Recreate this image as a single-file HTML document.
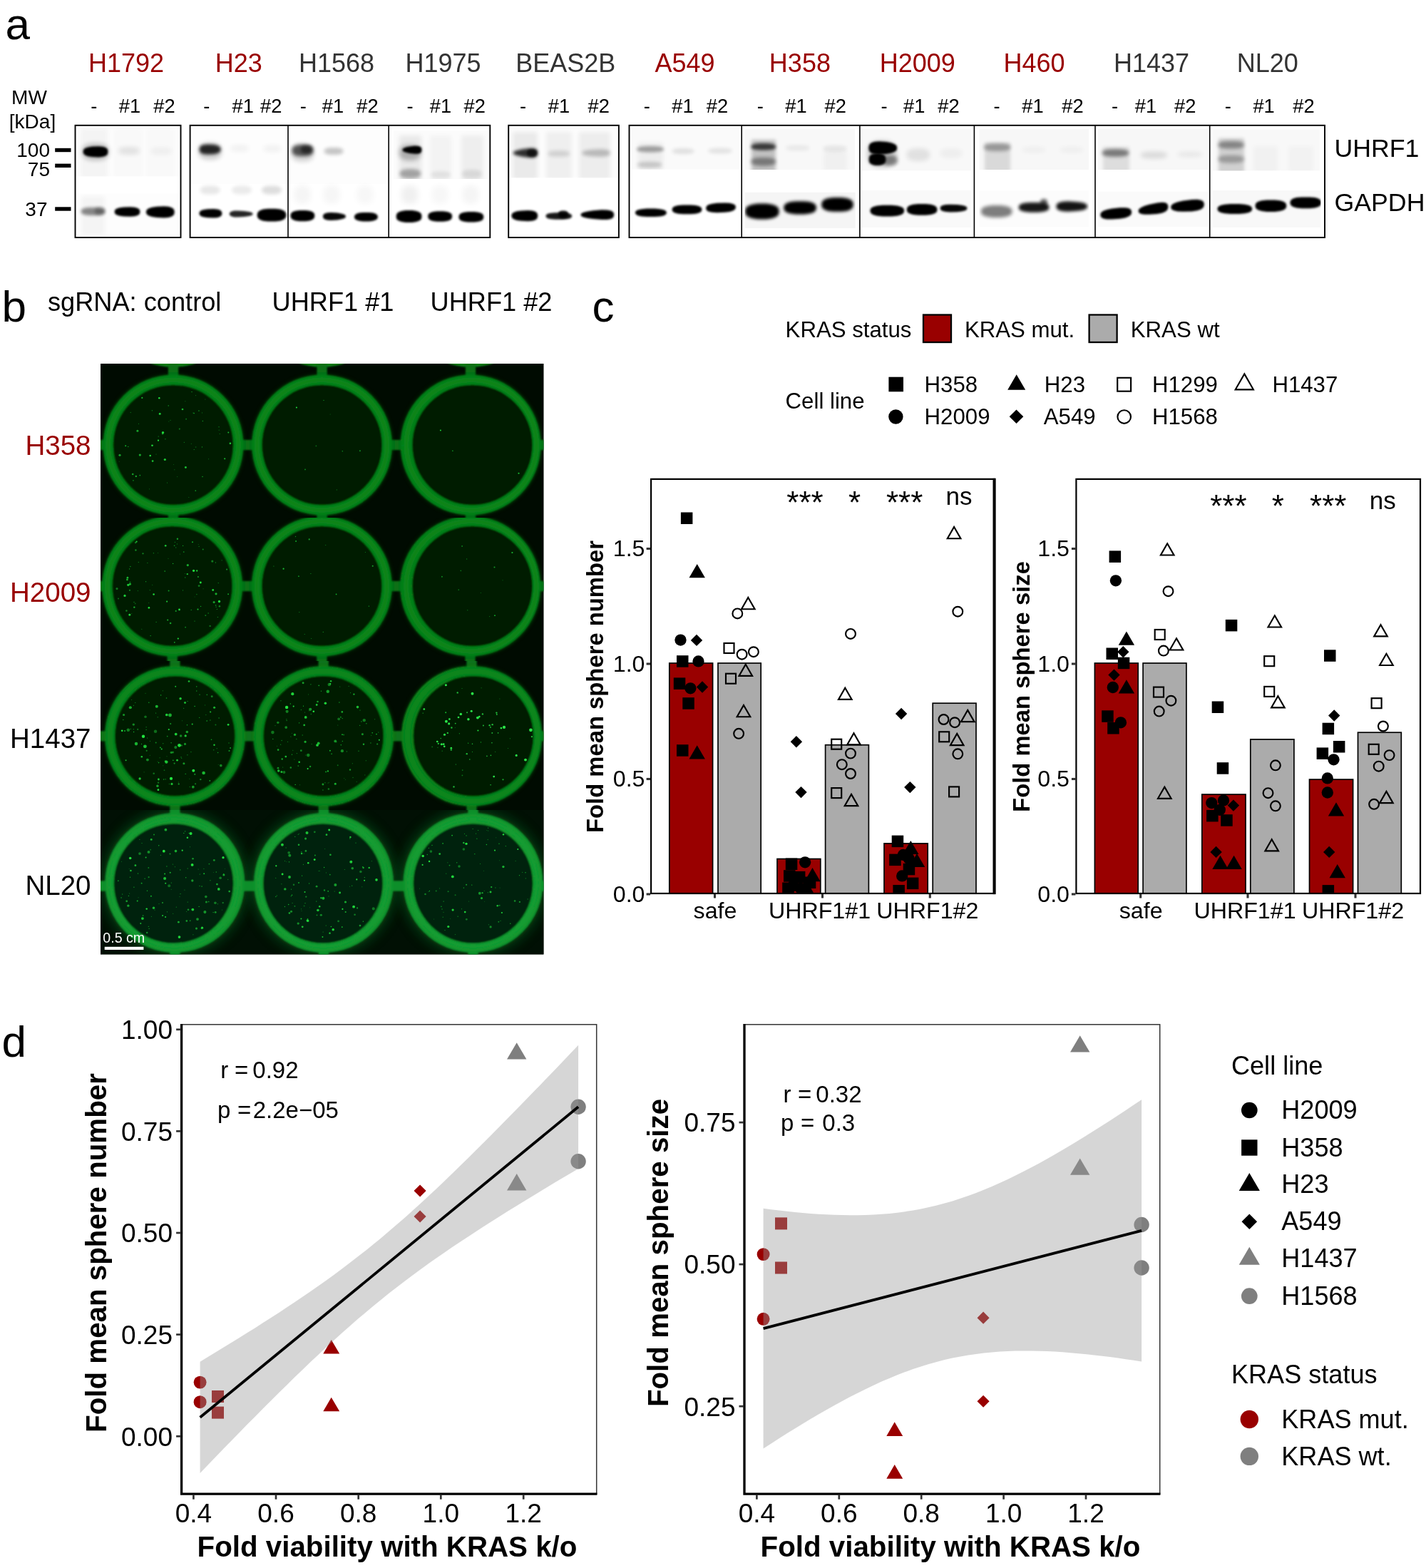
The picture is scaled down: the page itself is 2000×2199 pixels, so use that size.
<!DOCTYPE html>
<html lang="en"><head><meta charset="utf-8"><title>Figure</title>
<style>html,body{margin:0;padding:0;background:#fff;}svg{display:block;}text{font-family:'Liberation Sans', Arial, Helvetica, sans-serif;}</style>
</head><body>
<svg width="2000" height="2199" viewBox="0 0 2000 2199">
<rect width="2000" height="2199" fill="#fff"/>
<g id="panel-a">
<text x="7.5" y="54.5" font-size="62" fill="#000" text-anchor="start" font-weight="normal" >a</text>
<text x="177.0" y="101.0" font-size="36" fill="#990000" text-anchor="middle" font-weight="normal" >H1792</text>
<text x="334.7" y="101.0" font-size="36" fill="#990000" text-anchor="middle" font-weight="normal" >H23</text>
<text x="472.0" y="101.0" font-size="36" fill="#333333" text-anchor="middle" font-weight="normal" >H1568</text>
<text x="621.6" y="101.0" font-size="36" fill="#333333" text-anchor="middle" font-weight="normal" >H1975</text>
<text x="793.3" y="101.0" font-size="36" fill="#333333" text-anchor="middle" font-weight="normal" >BEAS2B</text>
<text x="960.5" y="101.0" font-size="36" fill="#990000" text-anchor="middle" font-weight="normal" >A549</text>
<text x="1121.9" y="101.0" font-size="36" fill="#990000" text-anchor="middle" font-weight="normal" >H358</text>
<text x="1286.7" y="101.0" font-size="36" fill="#990000" text-anchor="middle" font-weight="normal" >H2009</text>
<text x="1450.5" y="101.0" font-size="36" fill="#990000" text-anchor="middle" font-weight="normal" >H460</text>
<text x="1615.0" y="101.0" font-size="36" fill="#333333" text-anchor="middle" font-weight="normal" >H1437</text>
<text x="1777.8" y="101.0" font-size="36" fill="#333333" text-anchor="middle" font-weight="normal" >NL20</text>
<text x="131.7" y="158.2" font-size="27.3" fill="#000" text-anchor="middle" font-weight="normal" >-</text>
<text x="182.0" y="158.2" font-size="27.3" fill="#000" text-anchor="middle" font-weight="normal" >#1</text>
<text x="230.4" y="158.2" font-size="27.3" fill="#000" text-anchor="middle" font-weight="normal" >#2</text>
<text x="289.8" y="158.2" font-size="27.3" fill="#000" text-anchor="middle" font-weight="normal" >-</text>
<text x="340.8" y="158.2" font-size="27.3" fill="#000" text-anchor="middle" font-weight="normal" >#1</text>
<text x="380.3" y="158.2" font-size="27.3" fill="#000" text-anchor="middle" font-weight="normal" >#2</text>
<text x="425.3" y="158.2" font-size="27.3" fill="#000" text-anchor="middle" font-weight="normal" >-</text>
<text x="467.0" y="158.2" font-size="27.3" fill="#000" text-anchor="middle" font-weight="normal" >#1</text>
<text x="515.5" y="158.2" font-size="27.3" fill="#000" text-anchor="middle" font-weight="normal" >#2</text>
<text x="575.0" y="158.2" font-size="27.3" fill="#000" text-anchor="middle" font-weight="normal" >-</text>
<text x="618.0" y="158.2" font-size="27.3" fill="#000" text-anchor="middle" font-weight="normal" >#1</text>
<text x="665.8" y="158.2" font-size="27.3" fill="#000" text-anchor="middle" font-weight="normal" >#2</text>
<text x="733.6" y="158.2" font-size="27.3" fill="#000" text-anchor="middle" font-weight="normal" >-</text>
<text x="784.0" y="158.2" font-size="27.3" fill="#000" text-anchor="middle" font-weight="normal" >#1</text>
<text x="839.7" y="158.2" font-size="27.3" fill="#000" text-anchor="middle" font-weight="normal" >#2</text>
<text x="907.3" y="158.2" font-size="27.3" fill="#000" text-anchor="middle" font-weight="normal" >-</text>
<text x="957.5" y="158.2" font-size="27.3" fill="#000" text-anchor="middle" font-weight="normal" >#1</text>
<text x="1006.0" y="158.2" font-size="27.3" fill="#000" text-anchor="middle" font-weight="normal" >#2</text>
<text x="1066.2" y="158.2" font-size="27.3" fill="#000" text-anchor="middle" font-weight="normal" >-</text>
<text x="1116.4" y="158.2" font-size="27.3" fill="#000" text-anchor="middle" font-weight="normal" >#1</text>
<text x="1171.8" y="158.2" font-size="27.3" fill="#000" text-anchor="middle" font-weight="normal" >#2</text>
<text x="1240.0" y="158.2" font-size="27.3" fill="#000" text-anchor="middle" font-weight="normal" >-</text>
<text x="1282.2" y="158.2" font-size="27.3" fill="#000" text-anchor="middle" font-weight="normal" >#1</text>
<text x="1330.4" y="158.2" font-size="27.3" fill="#000" text-anchor="middle" font-weight="normal" >#2</text>
<text x="1398.0" y="158.2" font-size="27.3" fill="#000" text-anchor="middle" font-weight="normal" >-</text>
<text x="1448.5" y="158.2" font-size="27.3" fill="#000" text-anchor="middle" font-weight="normal" >#1</text>
<text x="1504.5" y="158.2" font-size="27.3" fill="#000" text-anchor="middle" font-weight="normal" >#2</text>
<text x="1563.5" y="158.2" font-size="27.3" fill="#000" text-anchor="middle" font-weight="normal" >-</text>
<text x="1606.9" y="158.2" font-size="27.3" fill="#000" text-anchor="middle" font-weight="normal" >#1</text>
<text x="1662.2" y="158.2" font-size="27.3" fill="#000" text-anchor="middle" font-weight="normal" >#2</text>
<text x="1722.2" y="158.2" font-size="27.3" fill="#000" text-anchor="middle" font-weight="normal" >-</text>
<text x="1772.6" y="158.2" font-size="27.3" fill="#000" text-anchor="middle" font-weight="normal" >#1</text>
<text x="1828.5" y="158.2" font-size="27.3" fill="#000" text-anchor="middle" font-weight="normal" >#2</text>
<text x="41.0" y="146.0" font-size="28" fill="#000" text-anchor="middle" font-weight="normal" >MW</text>
<text x="45.5" y="180.2" font-size="28" fill="#000" text-anchor="middle" font-weight="normal" >[kDa]</text>
<text x="70.0" y="219.5" font-size="28" fill="#000" text-anchor="end" font-weight="normal" >100</text>
<text x="70.0" y="246.7" font-size="28" fill="#000" text-anchor="end" font-weight="normal" >75</text>
<text x="66.5" y="302.6" font-size="28" fill="#000" text-anchor="end" font-weight="normal" >37</text>
<rect x="77.2" y="207.8" width="22.3" height="5.4" fill="#000"/>
<rect x="77.2" y="229.6" width="22.3" height="5.4" fill="#000"/>
<rect x="77.2" y="290.3" width="22.3" height="5.4" fill="#000"/>
<text x="1871.5" y="220.3" font-size="35.7" fill="#000" text-anchor="start" font-weight="normal" >UHRF1</text>
<text x="1871.5" y="295.8" font-size="35.7" fill="#000" text-anchor="start" font-weight="normal" >GAPDH</text>
<defs>
<filter id="b1" x="-60%" y="-150%" width="220%" height="400%"><feGaussianBlur stdDeviation="1"/></filter>
<filter id="b1_5" x="-60%" y="-150%" width="220%" height="400%"><feGaussianBlur stdDeviation="1.5"/></filter>
<filter id="b2" x="-60%" y="-150%" width="220%" height="400%"><feGaussianBlur stdDeviation="2"/></filter>
<filter id="b2_5" x="-60%" y="-150%" width="220%" height="400%"><feGaussianBlur stdDeviation="2.5"/></filter>
<filter id="b3" x="-60%" y="-150%" width="220%" height="400%"><feGaussianBlur stdDeviation="3"/></filter>
<filter id="b4" x="-60%" y="-150%" width="220%" height="400%"><feGaussianBlur stdDeviation="4"/></filter>
<filter id="b5" x="-60%" y="-150%" width="220%" height="400%"><feGaussianBlur stdDeviation="5"/></filter>
<filter id="b6" x="-60%" y="-150%" width="220%" height="400%"><feGaussianBlur stdDeviation="6"/></filter>
</defs>
<clipPath id="ca1"><rect x="106" y="176.3" width="1752.0" height="156.4"/></clipPath>
<g clip-path="url(#ca1)">
<clipPath id="ca2"><rect x="106" y="177.9" width="147.0" height="69.6"/></clipPath>
<g clip-path="url(#ca2)">
<rect x="106" y="177.9" width="147.0" height="69.6" fill="rgb(252,252,252)"/>
<rect x="113" y="180" width="38.0" height="70.0" fill="#000" opacity="0.03" filter="url(#b3)"/>
<rect x="160" y="180" width="40.0" height="70.0" fill="#000" opacity="0.012" filter="url(#b3)"/>
<rect x="205" y="180" width="40.0" height="70.0" fill="#000" opacity="0.012" filter="url(#b3)"/>
<path d="M151.5,212.8 L150.7,216.3 L148.3,218.5 L144.3,219.8 L138.6,220.4 L129.4,220.1 L123.7,219.2 L119.7,217.8 L117.3,215.8 L116.5,212.8 L117.3,209.8 L119.7,207.8 L123.7,206.4 L129.4,205.5 L138.6,205.2 L144.3,205.8 L148.3,207.1 L150.7,209.3Z" opacity="1.0" filter="url(#b1_5)"/>
<path d="M153.0,213.0 L152.1,218.3 L149.5,221.5 L145.1,223.7 L138.9,224.9 L129.1,224.9 L122.9,223.7 L118.5,221.5 L115.9,218.3 L115.0,213.0 L115.9,207.7 L118.5,204.5 L122.9,202.3 L129.1,201.1 L138.9,201.1 L145.1,202.3 L149.5,204.5 L152.1,207.7Z" opacity="0.22" filter="url(#b3)"/>
<path d="M196.0,211.5 L195.3,213.9 L193.2,215.4 L189.8,216.4 L184.9,216.9 L177.1,216.9 L172.2,216.4 L168.8,215.4 L166.7,213.9 L166.0,211.5 L166.7,209.1 L168.8,207.6 L172.2,206.6 L177.1,206.1 L184.9,206.1 L189.8,206.6 L193.2,207.6 L195.3,209.1Z" opacity="0.09" filter="url(#b3)"/>
<path d="M241.0,212.0 L240.3,214.4 L238.2,215.9 L234.8,216.9 L229.9,217.4 L222.1,217.4 L217.2,216.9 L213.8,215.9 L211.7,214.4 L211.0,212.0 L211.7,209.6 L213.8,208.1 L217.2,207.1 L222.1,206.6 L229.9,206.6 L234.8,207.1 L238.2,208.1 L240.3,209.6Z" opacity="0.04" filter="url(#b3)"/>
</g>
<clipPath id="ca3"><rect x="106" y="271.2" width="147.0" height="60.8"/></clipPath>
<g clip-path="url(#ca3)">
<rect x="106" y="271.2" width="147.0" height="60.8" fill="rgb(253,253,253)"/>
<rect x="114" y="275" width="33.0" height="55.0" fill="#000" opacity="0.035" filter="url(#b3)"/>
<path d="M147.5,296.5 L146.7,298.9 L144.3,300.4 L140.5,301.4 L134.9,301.9 L126.1,301.9 L120.5,301.4 L116.7,300.4 L114.3,298.9 L113.5,296.5 L114.3,294.1 L116.7,292.6 L120.5,291.6 L126.1,291.1 L134.9,291.1 L140.5,291.6 L144.3,292.6 L146.7,294.1Z" opacity="0.45" filter="url(#b2)"/>
<path d="M147.0,296.0 L146.7,298.4 L145.7,299.9 L144.1,300.9 L141.8,301.4 L138.2,301.4 L135.9,300.9 L134.3,299.9 L133.3,298.4 L133.0,296.0 L133.3,293.6 L134.3,292.1 L135.9,291.1 L138.2,290.6 L141.8,290.6 L144.1,291.1 L145.7,292.1 L146.7,293.6Z" opacity="0.25" filter="url(#b2)"/>
<path d="M196.5,297.0 L195.7,300.2 L193.2,302.1 L189.1,303.3 L183.2,303.8 L173.8,303.5 L167.9,302.8 L163.8,301.5 L161.3,299.7 L160.5,297.0 L161.3,294.3 L163.8,292.5 L167.9,291.2 L173.8,290.5 L183.2,290.2 L189.1,290.7 L193.2,291.9 L195.7,293.8Z" opacity="1.0" filter="url(#b1_5)"/>
<path d="M244.8,297.4 L243.9,301.2 L241.1,303.6 L236.5,305.0 L230.0,305.5 L219.6,305.1 L213.1,304.1 L208.5,302.6 L205.7,300.6 L204.8,297.4 L205.7,294.2 L208.5,292.2 L213.1,290.7 L219.6,289.7 L230.0,289.3 L236.5,289.8 L241.1,291.2 L243.9,293.6Z" opacity="1.0" filter="url(#b1_5)"/>
</g>
<clipPath id="ca4"><rect x="267.5" y="177.9" width="277.5" height="80.2"/></clipPath>
<g clip-path="url(#ca4)">
<rect x="267.5" y="177.9" width="277.5" height="80.2" fill="rgb(253,253,253)"/>
<path d="M309.6,209.5 L308.9,212.3 L306.8,214.1 L303.4,215.4 L298.5,216.2 L290.7,216.6 L285.8,216.1 L282.4,214.9 L280.3,212.9 L279.6,209.5 L280.3,206.1 L282.4,204.1 L285.8,202.9 L290.7,202.4 L298.5,202.8 L303.4,203.6 L306.8,204.9 L308.9,206.7Z" opacity="0.82" filter="url(#b2)"/>
<path d="M311.1,212.0 L310.3,217.3 L308.0,220.5 L304.3,222.7 L298.9,223.9 L290.3,223.9 L284.9,222.7 L281.2,220.5 L278.9,217.3 L278.1,212.0 L278.9,206.7 L281.2,203.5 L284.9,201.3 L290.3,200.1 L298.9,200.1 L304.3,201.3 L308.0,203.5 L310.3,206.7Z" opacity="0.18" filter="url(#b3)"/>
<path d="M349.0,208.0 L348.4,210.2 L346.6,211.6 L343.6,212.5 L339.4,212.9 L332.6,212.9 L328.4,212.5 L325.4,211.6 L323.6,210.2 L323.0,208.0 L323.6,205.8 L325.4,204.4 L328.4,203.5 L332.6,203.1 L339.4,203.1 L343.6,203.5 L346.6,204.4 L348.4,205.8Z" opacity="0.045" filter="url(#b3)"/>
<path d="M395.0,208.5 L394.4,210.7 L392.6,212.1 L389.6,213.0 L385.4,213.4 L378.6,213.4 L374.4,213.0 L371.4,212.1 L369.6,210.7 L369.0,208.5 L369.6,206.3 L371.4,204.9 L374.4,204.0 L378.6,203.6 L385.4,203.6 L389.6,204.0 L392.6,204.9 L394.4,206.3Z" opacity="0.045" filter="url(#b3)"/>
<path d="M439.4,211.0 L438.7,214.5 L436.6,216.7 L433.2,218.2 L428.3,218.9 L420.5,218.9 L415.6,218.2 L412.2,216.7 L410.1,214.5 L409.4,211.0 L410.1,207.5 L412.2,205.3 L415.6,203.8 L420.5,203.1 L428.3,203.1 L433.2,203.8 L436.6,205.3 L438.7,207.5Z" opacity="0.62" filter="url(#b2_5)"/>
<path d="M438.0,209.5 L437.6,211.9 L436.5,213.4 L434.7,214.4 L432.1,214.9 L427.9,214.9 L425.3,214.4 L423.5,213.4 L422.4,211.9 L422.0,209.5 L422.4,207.1 L423.5,205.6 L425.3,204.6 L427.9,204.1 L432.1,204.1 L434.7,204.6 L436.5,205.6 L437.6,207.1Z" opacity="0.5" filter="url(#b2)"/>
<path d="M440.4,214.0 L439.7,219.7 L437.4,223.3 L433.8,225.6 L428.6,226.8 L420.2,226.8 L415.0,225.6 L411.4,223.3 L409.1,219.7 L408.4,214.0 L409.1,208.3 L411.4,204.7 L415.0,202.4 L420.2,201.2 L428.6,201.2 L433.8,202.4 L437.4,204.7 L439.7,208.3Z" opacity="0.16" filter="url(#b3)"/>
<path d="M481.5,212.0 L480.9,214.2 L479.0,215.6 L475.9,216.5 L471.5,216.9 L464.5,216.9 L460.1,216.5 L457.0,215.6 L455.1,214.2 L454.5,212.0 L455.1,209.8 L457.0,208.4 L460.1,207.5 L464.5,207.1 L471.5,207.1 L475.9,207.5 L479.0,208.4 L480.9,209.8Z" opacity="0.22" filter="url(#b2_5)"/>
</g>
<path d="M308.6,266.5 L307.9,269.1 L306.0,270.8 L302.8,271.9 L298.2,272.4 L291.0,272.4 L286.4,271.9 L283.2,270.8 L281.3,269.1 L280.6,266.5 L281.3,263.9 L283.2,262.2 L286.4,261.1 L291.0,260.6 L298.2,260.6 L302.8,261.1 L306.0,262.2 L307.9,263.9Z" opacity="0.09" filter="url(#b2_5)"/>
<path d="M353.0,266.5 L352.3,269.1 L350.4,270.8 L347.2,271.9 L342.6,272.4 L335.4,272.4 L330.8,271.9 L327.6,270.8 L325.7,269.1 L325.0,266.5 L325.7,263.9 L327.6,262.2 L330.8,261.1 L335.4,260.6 L342.6,260.6 L347.2,261.1 L350.4,262.2 L352.3,263.9Z" opacity="0.08" filter="url(#b2_5)"/>
<path d="M395.0,266.5 L394.3,269.1 L392.4,270.8 L389.2,271.9 L384.6,272.4 L377.4,272.4 L372.8,271.9 L369.6,270.8 L367.7,269.1 L367.0,266.5 L367.7,263.9 L369.6,262.2 L372.8,261.1 L377.4,260.6 L384.6,260.6 L389.2,261.1 L392.4,262.2 L394.3,263.9Z" opacity="0.13" filter="url(#b2_5)"/>
<path d="M436.0,273.0 L435.4,278.7 L433.8,282.3 L431.0,284.6 L427.1,285.8 L420.9,285.8 L417.0,284.6 L414.2,282.3 L412.6,278.7 L412.0,273.0 L412.6,267.3 L414.2,263.7 L417.0,261.4 L420.9,260.2 L427.1,260.2 L431.0,261.4 L433.8,263.7 L435.4,267.3Z" opacity="0.04" filter="url(#b4)"/>
<path d="M477.0,273.0 L476.4,278.7 L474.8,282.3 L472.0,284.6 L468.1,285.8 L461.9,285.8 L458.0,284.6 L455.2,282.3 L453.6,278.7 L453.0,273.0 L453.6,267.3 L455.2,263.7 L458.0,261.4 L461.9,260.2 L468.1,260.2 L472.0,261.4 L474.8,263.7 L476.4,267.3Z" opacity="0.035" filter="url(#b4)"/>
<path d="M524.0,273.0 L523.4,278.7 L521.8,282.3 L519.0,284.6 L515.1,285.8 L508.9,285.8 L505.0,284.6 L502.2,282.3 L500.6,278.7 L500.0,273.0 L500.6,267.3 L502.2,263.7 L505.0,261.4 L508.9,260.2 L515.1,260.2 L519.0,261.4 L521.8,263.7 L523.4,267.3Z" opacity="0.03" filter="url(#b4)"/>
<path d="M586.5,273.0 L585.9,278.7 L584.3,282.3 L581.5,284.6 L577.6,285.8 L571.4,285.8 L567.5,284.6 L564.7,282.3 L563.1,278.7 L562.5,273.0 L563.1,267.3 L564.7,263.7 L567.5,261.4 L571.4,260.2 L577.6,260.2 L581.5,261.4 L584.3,263.7 L585.9,267.3Z" opacity="0.06" filter="url(#b4)"/>
<path d="M629.0,273.0 L628.4,278.7 L626.8,282.3 L624.0,284.6 L620.1,285.8 L613.9,285.8 L610.0,284.6 L607.2,282.3 L605.6,278.7 L605.0,273.0 L605.6,267.3 L607.2,263.7 L610.0,261.4 L613.9,260.2 L620.1,260.2 L624.0,261.4 L626.8,263.7 L628.4,267.3Z" opacity="0.03" filter="url(#b4)"/>
<path d="M672.0,273.0 L671.4,278.7 L669.8,282.3 L667.0,284.6 L663.1,285.8 L656.9,285.8 L653.0,284.6 L650.2,282.3 L648.6,278.7 L648.0,273.0 L648.6,267.3 L650.2,263.7 L653.0,261.4 L656.9,260.2 L663.1,260.2 L667.0,261.4 L669.8,263.7 L671.4,267.3Z" opacity="0.04" filter="url(#b4)"/>
<path d="M311.4,299.3 L310.7,302.2 L308.4,304.0 L304.8,305.2 L299.6,305.6 L291.2,305.3 L286.0,304.6 L282.4,303.5 L280.1,301.8 L279.4,299.3 L280.1,296.8 L282.4,295.1 L286.0,294.0 L291.2,293.3 L299.6,293.0 L304.8,293.4 L308.4,294.6 L310.7,296.4Z" opacity="1.0" filter="url(#b1_5)"/>
<path d="M354.7,300.0 L353.9,301.4 L351.6,302.4 L347.9,303.2 L342.5,303.9 L333.9,304.5 L328.5,304.4 L324.8,303.6 L322.5,302.3 L321.7,300.0 L322.5,297.7 L324.8,296.4 L328.5,295.6 L333.9,295.5 L342.5,296.1 L347.9,296.8 L351.6,297.6 L353.9,298.6Z" opacity="0.85" filter="url(#b1_5)"/>
<path d="M401.5,301.7 L400.5,305.6 L397.7,308.1 L393.0,309.8 L386.3,310.6 L375.7,310.6 L369.0,309.8 L364.3,308.1 L361.5,305.6 L360.5,301.7 L361.5,297.8 L364.3,295.3 L369.0,293.6 L375.7,292.8 L386.3,292.8 L393.0,293.6 L397.7,295.3 L400.5,297.8Z" opacity="1.0" filter="url(#b1_5)"/>
<path d="M441.4,302.6 L440.6,306.0 L438.2,308.1 L434.4,309.5 L428.8,310.3 L420.0,310.3 L414.4,309.5 L410.6,308.1 L408.2,306.0 L407.4,302.6 L408.2,299.2 L410.6,297.1 L414.4,295.7 L420.0,294.9 L428.8,294.9 L434.4,295.7 L438.2,297.1 L440.6,299.2Z" opacity="1.0" filter="url(#b1_5)"/>
<path d="M484.9,303.5 L484.2,305.4 L481.9,306.6 L478.3,307.6 L473.1,308.4 L464.7,309.0 L459.5,308.8 L455.9,307.8 L453.6,306.2 L452.9,303.5 L453.6,300.8 L455.9,299.2 L459.5,298.2 L464.7,298.0 L473.1,298.6 L478.3,299.4 L481.9,300.4 L484.2,301.6Z" opacity="0.97" filter="url(#b1_5)"/>
<path d="M529.9,304.2 L529.1,306.9 L526.8,308.6 L523.1,309.8 L517.7,310.4 L509.1,310.4 L503.7,309.8 L500.0,308.6 L497.7,306.9 L496.9,304.2 L497.7,301.5 L500.0,299.8 L503.7,298.6 L509.1,298.0 L517.7,298.0 L523.1,298.6 L526.8,299.8 L529.1,301.5Z" opacity="1.0" filter="url(#b1_5)"/>
<clipPath id="ca5"><rect x="551.8" y="183.1" width="132.6" height="68.0"/></clipPath>
<g clip-path="url(#ca5)">
<rect x="551.8" y="183.1" width="132.6" height="68.0" fill="rgb(251,251,251)"/>
<rect x="560" y="190" width="31.0" height="66.0" fill="#000" opacity="0.07" filter="url(#b3)"/>
<rect x="603" y="190" width="30.0" height="66.0" fill="#000" opacity="0.03" filter="url(#b3)"/>
<rect x="647" y="190" width="31.0" height="66.0" fill="#000" opacity="0.05" filter="url(#b3)"/>
<path d="M591.5,210.2 L590.9,213.2 L589.0,214.9 L585.9,215.7 L581.5,215.8 L574.5,215.0 L570.1,214.1 L567.0,213.0 L565.1,211.8 L564.5,210.2 L565.1,208.6 L567.0,207.4 L570.1,206.3 L574.5,205.4 L581.5,204.6 L585.9,204.7 L589.0,205.5 L590.9,207.2Z" opacity="1.0" filter="url(#b1_5)"/>
<path d="M590.5,214.0 L589.8,218.8 L587.6,221.8 L584.1,223.8 L579.0,224.9 L571.0,224.9 L565.9,223.8 L562.4,221.8 L560.2,218.8 L559.5,214.0 L560.2,209.2 L562.4,206.2 L565.9,204.2 L571.0,203.1 L579.0,203.1 L584.1,204.2 L587.6,206.2 L589.8,209.2Z" opacity="0.25" filter="url(#b3)"/>
<path d="M590.4,243.5 L589.7,246.3 L587.6,248.1 L584.2,249.3 L579.3,249.9 L571.5,249.9 L566.6,249.3 L563.2,248.1 L561.1,246.3 L560.4,243.5 L561.1,240.7 L563.2,238.9 L566.6,237.7 L571.5,237.1 L579.3,237.1 L584.2,237.7 L587.6,238.9 L589.7,240.7Z" opacity="0.3" filter="url(#b2_5)"/>
<path d="M632.1,245.0 L631.4,247.2 L629.5,248.6 L626.3,249.5 L621.7,249.9 L614.5,249.9 L609.9,249.5 L606.7,248.6 L604.8,247.2 L604.1,245.0 L604.8,242.8 L606.7,241.4 L609.9,240.5 L614.5,240.1 L621.7,240.1 L626.3,240.5 L629.5,241.4 L631.4,242.8Z" opacity="0.07" filter="url(#b2_5)"/>
<path d="M675.7,244.0 L675.0,246.6 L673.1,248.3 L669.9,249.4 L665.3,249.9 L658.1,249.9 L653.5,249.4 L650.3,248.3 L648.4,246.6 L647.7,244.0 L648.4,241.4 L650.3,239.7 L653.5,238.6 L658.1,238.1 L665.3,238.1 L669.9,238.6 L673.1,239.7 L675.0,241.4Z" opacity="0.09" filter="url(#b2_5)"/>
</g>
<path d="M591.6,303.5 L590.8,307.2 L588.3,309.6 L584.2,311.1 L578.3,311.9 L568.9,311.9 L563.0,311.1 L558.9,309.6 L556.4,307.2 L555.6,303.5 L556.4,299.8 L558.9,297.4 L563.0,295.9 L568.9,295.1 L578.3,295.1 L584.2,295.9 L588.3,297.4 L590.8,299.8Z" opacity="1.0" filter="url(#b1_5)"/>
<path d="M634.2,303.5 L633.4,306.7 L631.0,308.7 L627.2,310.0 L621.6,310.7 L612.8,310.7 L607.2,310.0 L603.4,308.7 L601.0,306.7 L600.2,303.5 L601.0,300.3 L603.4,298.3 L607.2,297.0 L612.8,296.3 L621.6,296.3 L627.2,297.0 L631.0,298.3 L633.4,300.3Z" opacity="1.0" filter="url(#b1_5)"/>
<path d="M678.4,304.2 L677.6,307.4 L675.2,309.4 L671.2,310.7 L665.5,311.4 L656.3,311.4 L650.6,310.7 L646.6,309.4 L644.2,307.4 L643.4,304.2 L644.2,301.0 L646.6,299.0 L650.6,297.7 L656.3,297.0 L665.5,297.0 L671.2,297.7 L675.2,299.0 L677.6,301.0Z" opacity="1.0" filter="url(#b1_5)"/>
<clipPath id="ca6"><rect x="714" y="177.9" width="153.0" height="71.5"/></clipPath>
<g clip-path="url(#ca6)">
<rect x="714" y="177.9" width="153.0" height="71.5" fill="rgb(252,252,252)"/>
<rect x="719" y="185" width="35.0" height="67.0" fill="#000" opacity="0.07" filter="url(#b3)"/>
<rect x="766" y="185" width="36.0" height="67.0" fill="#000" opacity="0.05" filter="url(#b3)"/>
<rect x="812" y="185" width="44.0" height="67.0" fill="#000" opacity="0.06" filter="url(#b3)"/>
<path d="M754.5,214.5 L753.7,218.3 L751.3,220.3 L747.3,221.3 L741.6,221.1 L732.4,219.7 L726.7,218.5 L722.7,217.2 L720.3,216.0 L719.5,214.5 L720.3,213.0 L722.7,211.8 L726.7,210.5 L732.4,209.3 L741.6,207.9 L747.3,207.7 L751.3,208.7 L753.7,210.7Z" opacity="0.8" filter="url(#b2)"/>
<path d="M753.0,214.5 L752.7,216.7 L751.7,218.1 L750.1,219.0 L747.8,219.4 L744.2,219.4 L741.9,219.0 L740.3,218.1 L739.3,216.7 L739.0,214.5 L739.3,212.3 L740.3,210.9 L741.9,210.0 L744.2,209.6 L747.8,209.6 L750.1,210.0 L751.7,210.9 L752.7,212.3Z" opacity="0.6" filter="url(#b1_5)"/>
<path d="M799.3,215.4 L798.6,217.4 L796.4,218.6 L792.9,219.4 L787.8,219.8 L779.8,219.8 L774.7,219.4 L771.2,218.6 L769.0,217.4 L768.3,215.4 L769.0,213.4 L771.2,212.2 L774.7,211.4 L779.8,211.0 L787.8,211.0 L792.9,211.4 L796.4,212.2 L798.6,213.4Z" opacity="0.12" filter="url(#b2_5)"/>
<path d="M856.1,214.5 L855.2,217.1 L852.4,218.6 L847.8,219.5 L841.3,219.7 L830.9,219.2 L824.4,218.5 L819.8,217.5 L817.0,216.3 L816.1,214.5 L817.0,212.7 L819.8,211.5 L824.4,210.5 L830.9,209.8 L841.3,209.3 L847.8,209.5 L852.4,210.4 L855.2,211.9Z" opacity="0.22" filter="url(#b2_5)"/>
</g>
<path d="M754.3,302.6 L753.4,306.2 L750.9,308.4 L746.7,309.7 L740.6,310.2 L731.0,309.8 L724.9,308.9 L720.7,307.5 L718.2,305.6 L717.3,302.6 L718.2,299.6 L720.7,297.7 L724.9,296.3 L731.0,295.4 L740.6,295.0 L746.7,295.5 L750.9,296.8 L753.4,299.0Z" opacity="1.0" filter="url(#b1_5)"/>
<path d="M802.3,303.0 L801.4,305.1 L798.9,306.4 L794.7,307.3 L788.6,307.7 L779.0,307.7 L772.9,307.3 L768.7,306.4 L766.2,305.1 L765.3,303.0 L766.2,300.9 L768.7,299.6 L772.9,298.7 L779.0,298.3 L788.6,298.3 L794.7,298.7 L798.9,299.6 L801.4,300.9Z" opacity="0.9" filter="url(#b1_5)"/>
<path d="M797.0,300.5 L796.7,302.7 L795.7,304.1 L794.1,305.0 L791.8,305.4 L788.2,305.4 L785.9,305.0 L784.3,304.1 L783.3,302.7 L783.0,300.5 L783.3,298.3 L784.3,296.9 L785.9,296.0 L788.2,295.6 L791.8,295.6 L794.1,296.0 L795.7,296.9 L796.7,298.3Z" opacity="0.9" filter="url(#b1_5)"/>
<path d="M861.3,301.2 L860.2,304.9 L856.9,307.0 L851.6,308.0 L843.9,308.1 L831.7,307.1 L824.0,306.0 L818.7,304.7 L815.4,303.2 L814.3,301.2 L815.4,299.2 L818.7,297.7 L824.0,296.4 L831.7,295.3 L843.9,294.3 L851.6,294.4 L856.9,295.4 L860.2,297.5Z" opacity="1.0" filter="url(#b1_5)"/>
<clipPath id="ca7"><rect x="885" y="179.6" width="151.6" height="58.1"/></clipPath>
<g clip-path="url(#ca7)">
<rect x="885" y="179.6" width="151.6" height="58.1" fill="rgb(250,250,250)"/>
<path d="M931.0,209.3 L930.1,211.2 L927.5,212.3 L923.1,213.1 L916.9,213.5 L907.1,213.5 L900.9,213.1 L896.5,212.3 L893.9,211.2 L893.0,209.3 L893.9,207.4 L896.5,206.3 L900.9,205.5 L907.1,205.1 L916.9,205.1 L923.1,205.5 L927.5,206.3 L930.1,207.4Z" opacity="0.33" filter="url(#b2)"/>
<path d="M928.5,231.0 L927.7,232.8 L925.3,233.8 L921.3,234.6 L915.6,235.0 L906.4,235.0 L900.7,234.6 L896.7,233.8 L894.3,232.8 L893.5,231.0 L894.3,229.2 L896.7,228.2 L900.7,227.4 L906.4,227.0 L915.6,227.0 L921.3,227.4 L925.3,228.2 L927.7,229.2Z" opacity="0.17" filter="url(#b2_5)"/>
<rect x="895" y="200" width="35.0" height="40.0" fill="#000" opacity="0.05" filter="url(#b3)"/>
<path d="M973.7,212.0 L973.0,213.8 L970.8,214.8 L967.3,215.6 L962.2,216.0 L954.2,216.0 L949.1,215.6 L945.6,214.8 L943.4,213.8 L942.7,212.0 L943.4,210.2 L945.6,209.2 L949.1,208.4 L954.2,208.0 L962.2,208.0 L967.3,208.4 L970.8,209.2 L973.0,210.2Z" opacity="0.1" filter="url(#b2_5)"/>
<path d="M1027.0,211.5 L1026.2,213.3 L1023.8,214.3 L1020.0,215.1 L1014.4,215.5 L1005.6,215.5 L1000.0,215.1 L996.2,214.3 L993.8,213.3 L993.0,211.5 L993.8,209.7 L996.2,208.7 L1000.0,207.9 L1005.6,207.5 L1014.4,207.5 L1020.0,207.9 L1023.8,208.7 L1026.2,209.7Z" opacity="0.09" filter="url(#b2_5)"/>
</g>
<path d="M934.9,298.3 L933.9,300.8 L930.8,302.4 L925.8,303.4 L918.6,304.0 L907.2,304.0 L900.0,303.4 L895.0,302.4 L891.9,300.8 L890.9,298.3 L891.9,295.8 L895.0,294.2 L900.0,293.2 L907.2,292.6 L918.6,292.6 L925.8,293.2 L930.8,294.2 L933.9,295.8Z" opacity="1.0" filter="url(#b1_5)"/>
<path d="M984.5,293.9 L983.5,296.7 L980.6,298.5 L975.8,299.7 L969.0,300.3 L958.0,300.3 L951.2,299.7 L946.4,298.5 L943.5,296.7 L942.5,293.9 L943.5,291.1 L946.4,289.3 L951.2,288.1 L958.0,287.5 L969.0,287.5 L975.8,288.1 L980.6,289.3 L983.5,291.1Z" opacity="1.0" filter="url(#b1_5)"/>
<path d="M1032.0,290.6 L1031.0,293.5 L1028.1,295.5 L1023.3,296.9 L1016.5,297.8 L1005.5,298.2 L998.7,297.8 L993.9,296.7 L991.0,295.0 L990.0,292.1 L991.0,289.1 L993.9,287.1 L998.7,285.7 L1005.5,284.8 L1016.5,284.4 L1023.3,284.8 L1028.1,285.9 L1031.0,287.6Z" opacity="1.0" filter="url(#b1_5)"/>
<clipPath id="ca8"><rect x="1044.5" y="180.5" width="154.5" height="57.5"/></clipPath>
<g clip-path="url(#ca8)">
<rect x="1044.5" y="180.5" width="154.5" height="57.5" fill="rgb(248,248,248)"/>
<rect x="1054" y="196" width="34.0" height="46.0" fill="#000" opacity="0.22" filter="url(#b2_5)"/>
<path d="M1088.2,205.8 L1087.4,207.9 L1085.0,209.2 L1081.0,210.1 L1075.3,210.5 L1066.1,210.5 L1060.4,210.1 L1056.4,209.2 L1054.0,207.9 L1053.2,205.8 L1054.0,203.7 L1056.4,202.4 L1060.4,201.5 L1066.1,201.1 L1075.3,201.1 L1081.0,201.5 L1085.0,202.4 L1087.4,203.7Z" opacity="0.7" filter="url(#b2)"/>
<path d="M1088.2,226.7 L1087.4,229.2 L1085.0,230.8 L1081.0,231.8 L1075.3,232.4 L1066.1,232.4 L1060.4,231.8 L1056.4,230.8 L1054.0,229.2 L1053.2,226.7 L1054.0,224.2 L1056.4,222.6 L1060.4,221.6 L1066.1,221.0 L1075.3,221.0 L1081.0,221.6 L1085.0,222.6 L1087.4,224.2Z" opacity="0.38" filter="url(#b2_5)"/>
<path d="M1135.7,207.5 L1134.9,209.3 L1132.5,210.3 L1128.7,211.1 L1123.1,211.5 L1114.3,211.5 L1108.7,211.1 L1104.9,210.3 L1102.5,209.3 L1101.7,207.5 L1102.5,205.7 L1104.9,204.7 L1108.7,203.9 L1114.3,203.5 L1123.1,203.5 L1128.7,203.9 L1132.5,204.7 L1134.9,205.7Z" opacity="0.06" filter="url(#b2_5)"/>
<path d="M1188.0,208.5 L1187.2,210.5 L1184.8,211.7 L1181.0,212.5 L1175.4,212.9 L1166.6,212.9 L1161.0,212.5 L1157.2,211.7 L1154.8,210.5 L1154.0,208.5 L1154.8,206.5 L1157.2,205.3 L1161.0,204.5 L1166.6,204.1 L1175.4,204.1 L1181.0,204.5 L1184.8,205.3 L1187.2,206.5Z" opacity="0.07" filter="url(#b2_5)"/>
<rect x="1155" y="212" width="33.0" height="28.0" fill="#000" opacity="0.03" filter="url(#b3)"/>
</g>
<clipPath id="ca9"><rect x="1044.5" y="269.5" width="155.3" height="50.5"/></clipPath>
<g clip-path="url(#ca9)">
<rect x="1044.5" y="269.5" width="155.3" height="50.5" fill="rgb(245,245,245)"/>
<path d="M1092.9,296.5 L1091.8,301.3 L1088.5,304.3 L1083.0,306.3 L1075.1,307.4 L1062.7,307.4 L1054.8,306.3 L1049.3,304.3 L1046.0,301.3 L1044.9,296.5 L1046.0,291.7 L1049.3,288.7 L1054.8,286.7 L1062.7,285.6 L1075.1,285.6 L1083.0,286.7 L1088.5,288.7 L1091.8,291.7Z" opacity="1.0" filter="url(#b2)"/>
<path d="M1145.1,291.3 L1144.0,295.4 L1140.8,297.9 L1135.6,299.6 L1128.1,300.4 L1116.1,300.4 L1108.6,299.6 L1103.4,297.9 L1100.2,295.4 L1099.1,291.3 L1100.2,287.2 L1103.4,284.7 L1108.6,283.0 L1116.1,282.2 L1128.1,282.2 L1135.6,283.0 L1140.8,284.7 L1144.0,287.2Z" opacity="1.0" filter="url(#b2)"/>
<path d="M1197.0,286.9 L1195.9,291.3 L1192.8,294.0 L1187.7,295.9 L1180.4,296.8 L1168.6,296.8 L1161.3,295.9 L1156.2,294.0 L1153.1,291.3 L1152.0,286.9 L1153.1,282.5 L1156.2,279.8 L1161.3,277.9 L1168.6,277.0 L1180.4,277.0 L1187.7,277.9 L1192.8,279.8 L1195.9,282.5Z" opacity="1.0" filter="url(#b2)"/>
</g>
<clipPath id="ca10"><rect x="1209" y="180.5" width="153.0" height="58.9"/></clipPath>
<g clip-path="url(#ca10)">
<rect x="1209" y="180.5" width="153.0" height="58.9" fill="rgb(248,248,248)"/>
<path d="M1258.2,207.5 L1257.3,210.9 L1254.5,213.1 L1249.9,214.8 L1243.4,216.0 L1233.0,216.7 L1226.5,216.3 L1221.9,214.7 L1219.1,212.0 L1218.2,207.5 L1219.1,203.0 L1221.9,200.3 L1226.5,198.7 L1233.0,198.3 L1243.4,199.0 L1249.9,200.2 L1254.5,201.9 L1257.3,204.1Z" opacity="1.0" filter="url(#b1_5)"/>
<path d="M1242.5,223.5 L1241.9,227.2 L1240.3,229.6 L1237.5,231.1 L1233.6,231.9 L1227.4,231.9 L1223.5,231.1 L1220.7,229.6 L1219.1,227.2 L1218.5,223.5 L1219.1,219.8 L1220.7,217.4 L1223.5,215.9 L1227.4,215.1 L1233.6,215.1 L1237.5,215.9 L1240.3,217.4 L1241.9,219.8Z" opacity="1.0" filter="url(#b1_5)"/>
<path d="M1259.0,225.0 L1258.5,228.1 L1257.0,230.0 L1254.5,231.3 L1250.9,231.9 L1245.1,231.9 L1241.5,231.3 L1239.0,230.0 L1237.5,228.1 L1237.0,225.0 L1237.5,221.9 L1239.0,220.0 L1241.5,218.7 L1245.1,218.1 L1250.9,218.1 L1254.5,218.7 L1257.0,220.0 L1258.5,221.9Z" opacity="0.4" filter="url(#b2_5)"/>
<path d="M1258.0,216.0 L1257.0,224.3 L1254.1,229.5 L1249.3,233.0 L1242.5,234.8 L1231.5,234.8 L1224.7,233.0 L1219.9,229.5 L1217.0,224.3 L1216.0,216.0 L1217.0,207.7 L1219.9,202.5 L1224.7,199.0 L1231.5,197.2 L1242.5,197.2 L1249.3,199.0 L1254.1,202.5 L1257.0,207.7Z" opacity="0.18" filter="url(#b3)"/>
<path d="M1304.4,217.0 L1303.6,220.9 L1301.3,223.4 L1297.6,225.1 L1292.2,225.9 L1283.6,225.9 L1278.2,225.1 L1274.5,223.4 L1272.2,220.9 L1271.4,217.0 L1272.2,213.1 L1274.5,210.6 L1278.2,208.9 L1283.6,208.1 L1292.2,208.1 L1297.6,208.9 L1301.3,210.6 L1303.6,213.1Z" opacity="0.09" filter="url(#b3)"/>
<path d="M1350.0,215.0 L1349.3,218.1 L1347.0,220.0 L1343.4,221.3 L1338.2,221.9 L1329.8,221.9 L1324.6,221.3 L1321.0,220.0 L1318.7,218.1 L1318.0,215.0 L1318.7,211.9 L1321.0,210.0 L1324.6,208.7 L1329.8,208.1 L1338.2,208.1 L1343.4,208.7 L1347.0,210.0 L1349.3,211.9Z" opacity="0.04" filter="url(#b3)"/>
</g>
<clipPath id="ca11"><rect x="1209" y="266.8" width="153.0" height="52.4"/></clipPath>
<g clip-path="url(#ca11)">
<rect x="1209" y="266.8" width="153.0" height="52.4" fill="rgb(249,249,249)"/>
<path d="M1268.3,295.6 L1267.2,299.1 L1263.9,301.3 L1258.4,302.8 L1250.5,303.5 L1238.1,303.5 L1230.2,302.8 L1224.7,301.3 L1221.4,299.1 L1220.3,295.6 L1221.4,292.1 L1224.7,289.9 L1230.2,288.4 L1238.1,287.7 L1250.5,287.7 L1258.4,288.4 L1263.9,289.9 L1267.2,292.1Z" opacity="1.0" filter="url(#b1_5)"/>
<path d="M1314.6,293.9 L1313.6,297.4 L1310.6,299.6 L1305.7,301.1 L1298.7,301.8 L1287.5,301.8 L1280.5,301.1 L1275.6,299.6 L1272.6,297.4 L1271.6,293.9 L1272.6,290.4 L1275.6,288.2 L1280.5,286.7 L1287.5,286.0 L1298.7,286.0 L1305.7,286.7 L1310.6,288.2 L1313.6,290.4Z" opacity="1.0" filter="url(#b1_5)"/>
<path d="M1356.5,292.1 L1355.6,294.2 L1353.0,295.5 L1348.6,296.5 L1342.4,297.2 L1332.6,297.4 L1326.4,297.1 L1322.0,296.1 L1319.4,294.6 L1318.5,292.1 L1319.4,289.6 L1322.0,288.1 L1326.4,287.1 L1332.6,286.8 L1342.4,287.0 L1348.6,287.7 L1353.0,288.7 L1355.6,290.0Z" opacity="0.97" filter="url(#b1_5)"/>
</g>
<clipPath id="ca12"><rect x="1373.3" y="180.8" width="154.1" height="57.2"/></clipPath>
<g clip-path="url(#ca12)">
<rect x="1373.3" y="180.8" width="154.1" height="57.2" fill="rgb(247,247,247)"/>
<rect x="1381" y="200" width="36.0" height="42.0" fill="#000" opacity="0.12" filter="url(#b2_5)"/>
<path d="M1417.6,206.6 L1416.7,209.0 L1414.1,210.5 L1409.7,211.5 L1403.5,212.0 L1393.7,212.0 L1387.5,211.5 L1383.1,210.5 L1380.5,209.0 L1379.6,206.6 L1380.5,204.2 L1383.1,202.7 L1387.5,201.7 L1393.7,201.2 L1403.5,201.2 L1409.7,201.7 L1414.1,202.7 L1416.7,204.2Z" opacity="0.3" filter="url(#b2_5)"/>
<path d="M1467.0,210.0 L1466.2,211.8 L1463.8,212.8 L1460.0,213.6 L1454.4,214.0 L1445.6,214.0 L1440.0,213.6 L1436.2,212.8 L1433.8,211.8 L1433.0,210.0 L1433.8,208.2 L1436.2,207.2 L1440.0,206.4 L1445.6,206.0 L1454.4,206.0 L1460.0,206.4 L1463.8,207.2 L1466.2,208.2Z" opacity="0.035" filter="url(#b3)"/>
<path d="M1520.0,210.0 L1519.2,211.8 L1516.8,212.8 L1513.0,213.6 L1507.4,214.0 L1498.6,214.0 L1493.0,213.6 L1489.2,212.8 L1486.8,211.8 L1486.0,210.0 L1486.8,208.2 L1489.2,207.2 L1493.0,206.4 L1498.6,206.0 L1507.4,206.0 L1513.0,206.4 L1516.8,207.2 L1519.2,208.2Z" opacity="0.035" filter="url(#b3)"/>
</g>
<clipPath id="ca13"><rect x="1373.3" y="267.5" width="154.1" height="51.0"/></clipPath>
<g clip-path="url(#ca13)">
<rect x="1373.3" y="267.5" width="154.1" height="51.0" fill="rgb(252,252,252)"/>
<path d="M1419.7,296.5 L1418.7,300.2 L1415.6,302.6 L1410.6,304.1 L1403.4,304.9 L1392.0,304.9 L1384.8,304.1 L1379.8,302.6 L1376.7,300.2 L1375.7,296.5 L1376.7,292.8 L1379.8,290.4 L1384.8,288.9 L1392.0,288.1 L1403.4,288.1 L1410.6,288.9 L1415.6,290.4 L1418.7,292.8Z" opacity="0.5" filter="url(#b2_5)"/>
<path d="M1471.6,290.8 L1470.6,293.9 L1467.6,295.8 L1462.7,297.1 L1455.7,297.7 L1444.5,297.7 L1437.5,297.1 L1432.6,295.8 L1429.6,293.9 L1428.6,290.8 L1429.6,287.7 L1432.6,285.8 L1437.5,284.5 L1444.5,283.9 L1455.7,283.9 L1462.7,284.5 L1467.6,285.8 L1470.6,287.7Z" opacity="0.9" filter="url(#b2)"/>
<path d="M1469.0,284.0 L1468.8,286.2 L1468.1,287.6 L1466.9,288.5 L1465.3,288.9 L1462.7,288.9 L1461.1,288.5 L1459.9,287.6 L1459.2,286.2 L1459.0,284.0 L1459.2,281.8 L1459.9,280.4 L1461.1,279.5 L1462.7,279.1 L1465.3,279.1 L1466.9,279.5 L1468.1,280.4 L1468.8,281.8Z" opacity="0.6" filter="url(#b2)"/>
<path d="M1525.3,289.5 L1524.3,292.1 L1521.2,293.9 L1516.2,295.2 L1509.0,296.1 L1497.6,296.7 L1490.4,296.3 L1485.4,295.1 L1482.3,293.0 L1481.3,289.5 L1482.3,286.0 L1485.4,283.9 L1490.4,282.7 L1497.6,282.3 L1509.0,282.9 L1516.2,283.8 L1521.2,285.1 L1524.3,286.9Z" opacity="0.92" filter="url(#b2)"/>
</g>
<clipPath id="ca14"><rect x="1540" y="180.5" width="154.3" height="57.5"/></clipPath>
<g clip-path="url(#ca14)">
<rect x="1540" y="180.5" width="154.3" height="57.5" fill="rgb(247,247,247)"/>
<rect x="1547" y="206" width="37.0" height="36.0" fill="#000" opacity="0.1" filter="url(#b2_5)"/>
<path d="M1583.4,214.5 L1582.5,216.8 L1579.9,218.2 L1575.5,219.2 L1569.3,219.7 L1559.5,219.7 L1553.3,219.2 L1548.9,218.2 L1546.3,216.8 L1545.4,214.5 L1546.3,212.2 L1548.9,210.8 L1553.3,209.8 L1559.5,209.3 L1569.3,209.3 L1575.5,209.8 L1579.9,210.8 L1582.5,212.2Z" opacity="0.45" filter="url(#b2_5)"/>
<path d="M1637.4,217.5 L1636.5,219.7 L1633.9,221.1 L1629.5,222.0 L1623.3,222.4 L1613.5,222.4 L1607.3,222.0 L1602.9,221.1 L1600.3,219.7 L1599.4,217.5 L1600.3,215.3 L1602.9,213.9 L1607.3,213.0 L1613.5,212.6 L1623.3,212.6 L1629.5,213.0 L1633.9,213.9 L1636.5,215.3Z" opacity="0.11" filter="url(#b3)"/>
<path d="M1687.0,216.5 L1686.2,218.3 L1683.7,219.3 L1679.6,220.1 L1673.7,220.5 L1664.3,220.5 L1658.4,220.1 L1654.3,219.3 L1651.8,218.3 L1651.0,216.5 L1651.8,214.7 L1654.3,213.7 L1658.4,212.9 L1664.3,212.5 L1673.7,212.5 L1679.6,212.9 L1683.7,213.7 L1686.2,214.7Z" opacity="0.06" filter="url(#b3)"/>
</g>
<clipPath id="ca15"><rect x="1540" y="268.5" width="154.3" height="50.0"/></clipPath>
<g clip-path="url(#ca15)">
<rect x="1540" y="268.5" width="154.3" height="50.0" fill="rgb(250,250,250)"/>
<path d="M1587.2,297.5 L1586.2,301.2 L1583.1,303.6 L1578.1,305.5 L1570.9,306.7 L1559.5,307.6 L1552.3,307.4 L1547.3,306.4 L1544.2,304.6 L1543.2,301.5 L1544.2,298.2 L1547.3,295.8 L1552.3,293.9 L1559.5,292.5 L1570.9,291.2 L1578.1,291.2 L1583.1,292.1 L1586.2,294.0Z" opacity="1.0" filter="url(#b1_5)"/>
<path d="M1638.5,290.0 L1637.5,294.1 L1634.6,296.8 L1629.8,298.7 L1623.0,300.0 L1612.0,300.8 L1605.2,300.7 L1600.4,299.9 L1597.5,298.5 L1596.5,296.0 L1597.5,293.2 L1600.4,291.0 L1605.2,288.8 L1612.0,286.8 L1623.0,284.4 L1629.8,283.7 L1634.6,284.3 L1637.5,286.2Z" opacity="1.0" filter="url(#b1_5)"/>
<path d="M1689.0,286.7 L1687.9,290.8 L1684.6,293.5 L1679.3,295.3 L1671.6,296.4 L1659.4,296.8 L1651.7,296.4 L1646.4,295.3 L1643.1,293.6 L1642.0,290.7 L1643.1,287.6 L1646.4,285.3 L1651.7,283.3 L1659.4,281.6 L1671.6,280.0 L1679.3,279.7 L1684.6,280.7 L1687.9,282.8Z" opacity="1.0" filter="url(#b1_5)"/>
</g>
<clipPath id="ca16"><rect x="1700.4" y="181.3" width="150.9" height="58.1"/></clipPath>
<g clip-path="url(#ca16)">
<rect x="1700.4" y="181.3" width="150.9" height="58.1" fill="rgb(248,248,248)"/>
<rect x="1709" y="194" width="36.0" height="49.0" fill="#000" opacity="0.16" filter="url(#b2_5)"/>
<path d="M1745.1,203.2 L1744.2,205.5 L1741.7,206.9 L1737.5,207.9 L1731.4,208.4 L1721.8,208.4 L1715.7,207.9 L1711.5,206.9 L1709.0,205.5 L1708.1,203.2 L1709.0,200.9 L1711.5,199.5 L1715.7,198.5 L1721.8,198.0 L1731.4,198.0 L1737.5,198.5 L1741.7,199.5 L1744.2,200.9Z" opacity="0.36" filter="url(#b2_5)"/>
<path d="M1745.1,223.2 L1744.2,225.6 L1741.7,227.1 L1737.5,228.1 L1731.4,228.6 L1721.8,228.6 L1715.7,228.1 L1711.5,227.1 L1709.0,225.6 L1708.1,223.2 L1709.0,220.8 L1711.5,219.3 L1715.7,218.3 L1721.8,217.8 L1731.4,217.8 L1737.5,218.3 L1741.7,219.3 L1744.2,220.8Z" opacity="0.26" filter="url(#b2_5)"/>
<rect x="1758" y="205" width="34.0" height="37.0" fill="#000" opacity="0.028" filter="url(#b3)"/>
<rect x="1807" y="205" width="35.0" height="37.0" fill="#000" opacity="0.024" filter="url(#b3)"/>
</g>
<clipPath id="ca17"><rect x="1700.4" y="266.8" width="152.1" height="52.4"/></clipPath>
<g clip-path="url(#ca17)">
<rect x="1700.4" y="266.8" width="152.1" height="52.4" fill="rgb(248,248,248)"/>
<path d="M1756.3,293.0 L1755.2,296.1 L1751.8,298.0 L1746.2,299.3 L1738.2,299.9 L1725.4,299.9 L1717.4,299.3 L1711.8,298.0 L1708.4,296.1 L1707.3,293.0 L1708.4,289.9 L1711.8,288.0 L1717.4,286.7 L1725.4,286.1 L1738.2,286.1 L1746.2,286.7 L1751.8,288.0 L1755.2,289.9Z" opacity="1.0" filter="url(#b1_5)"/>
<path d="M1804.4,288.7 L1803.4,292.3 L1800.3,294.6 L1795.3,296.1 L1788.1,296.9 L1776.7,296.9 L1769.5,296.1 L1764.5,294.6 L1761.4,292.3 L1760.4,288.7 L1761.4,285.1 L1764.5,282.8 L1769.5,281.3 L1776.7,280.5 L1788.1,280.5 L1795.3,281.3 L1800.3,282.8 L1803.4,285.1Z" opacity="1.0" filter="url(#b1_5)"/>
<path d="M1853.3,284.3 L1852.3,287.8 L1849.2,290.0 L1844.2,291.5 L1837.0,292.2 L1825.6,292.2 L1818.4,291.5 L1813.4,290.0 L1810.3,287.8 L1809.3,284.3 L1810.3,280.8 L1813.4,278.6 L1818.4,277.1 L1825.6,276.4 L1837.0,276.4 L1844.2,277.1 L1849.2,278.6 L1852.3,280.8Z" opacity="1.0" filter="url(#b1_5)"/>
</g>
</g>
<rect x="105.5" y="175.8" width="148.0" height="157.3" fill="none" stroke="#000" stroke-width="1.9"/>
<rect x="266.6" y="175.8" width="420.7" height="157.3" fill="none" stroke="#000" stroke-width="1.9"/>
<rect x="713.2" y="175.8" width="154.7" height="157.3" fill="none" stroke="#000" stroke-width="1.9"/>
<rect x="882.5" y="175.8" width="975.5" height="157.3" fill="none" stroke="#000" stroke-width="1.9"/>
<line x1="404" y1="175.8" x2="404" y2="333" stroke="#000" stroke-width="1.6"/>
<line x1="545.2" y1="175.8" x2="545.2" y2="333" stroke="#000" stroke-width="1.6"/>
<line x1="1040.2" y1="175.8" x2="1040.2" y2="333" stroke="#000" stroke-width="1.6"/>
<line x1="1205.9" y1="175.8" x2="1205.9" y2="333" stroke="#000" stroke-width="1.6"/>
<line x1="1366.4" y1="175.8" x2="1366.4" y2="333" stroke="#000" stroke-width="1.6"/>
<line x1="1536" y1="175.8" x2="1536" y2="333" stroke="#000" stroke-width="1.6"/>
<line x1="1696.7" y1="175.8" x2="1696.7" y2="333" stroke="#000" stroke-width="1.6"/>
</g>
<g id="panel-b">
<text x="2.5" y="451.0" font-size="62" fill="#000" text-anchor="start" font-weight="normal" >b</text>
<text x="67.0" y="435.5" font-size="36.2" fill="#000" text-anchor="start" font-weight="normal" >sgRNA: control</text>
<text x="381.5" y="435.5" font-size="36.2" fill="#000" text-anchor="start" font-weight="normal" >UHRF1 #1</text>
<text x="603.5" y="435.5" font-size="36.2" fill="#000" text-anchor="start" font-weight="normal" >UHRF1 #2</text>
<text x="127.5" y="638.0" font-size="38.5" fill="#990000" text-anchor="end" font-weight="normal" >H358</text>
<text x="127.5" y="844.0" font-size="38.5" fill="#990000" text-anchor="end" font-weight="normal" >H2009</text>
<text x="127.5" y="1049.0" font-size="38.5" fill="#000" text-anchor="end" font-weight="normal" >H1437</text>
<text x="127.5" y="1255.0" font-size="38.5" fill="#000" text-anchor="end" font-weight="normal" >NL20</text>
<defs>
<clipPath id="clipR0"><rect x="141" y="510" width="621.5" height="216"/></clipPath>
<clipPath id="clipR1"><rect x="141" y="726" width="621.5" height="201"/></clipPath>
<clipPath id="clipR2"><rect x="141" y="927" width="621.5" height="209"/></clipPath>
<clipPath id="clipR3"><rect x="141" y="1136" width="621.5" height="202.5"/></clipPath>
<filter id="soft" x="-5%" y="-5%" width="110%" height="110%"><feGaussianBlur stdDeviation="0.9"/></filter>
<filter id="glow" x="-20%" y="-20%" width="140%" height="140%"><feGaussianBlur stdDeviation="3"/></filter>
<filter id="glow2" x="-30%" y="-30%" width="160%" height="160%"><feGaussianBlur stdDeviation="9"/></filter>
<filter id="dsoft" x="-100%" y="-100%" width="300%" height="300%"><feGaussianBlur stdDeviation="0.35"/></filter>
</defs>
<rect x="141" y="510" width="621.5" height="828.5" fill="#000b01"/>
<g clip-path="url(#clipR0)">
<circle cx="243" cy="416.5" r="98.4" fill="#087c18" filter="url(#soft)"/>
<circle cx="451.6" cy="416.5" r="98.4" fill="#087c18" filter="url(#soft)"/>
<circle cx="660" cy="416.5" r="98.4" fill="#087c18" filter="url(#soft)"/>
<circle cx="243" cy="624" r="99.4" fill="#087c18" opacity="0.22" filter="url(#glow)"/>
<circle cx="451.6" cy="624" r="99.4" fill="#087c18" opacity="0.22" filter="url(#glow)"/>
<circle cx="660" cy="624" r="99.4" fill="#087c18" opacity="0.22" filter="url(#glow)"/>
<g filter="url(#soft)">
<rect x="235.8" y="510" width="14.4" height="228" fill="#077018"/>
<rect x="444.4" y="510" width="14.4" height="228" fill="#077018"/>
<rect x="652.8" y="510" width="14.4" height="228" fill="#077018"/>
<rect x="136" y="616.8" width="631.5" height="14.4" fill="#077018"/>
<circle cx="243" cy="624" r="98.4" fill="#087c18"/>
<circle cx="451.6" cy="624" r="98.4" fill="#087c18"/>
<circle cx="660" cy="624" r="98.4" fill="#087c18"/>
<circle cx="243.0" cy="624" r="91.35" fill="none" stroke="#0b8a1d" stroke-width="7" opacity="0.8" filter="url(#glow)"/>
<circle cx="451.6" cy="624" r="91.35" fill="none" stroke="#0b8a1d" stroke-width="7" opacity="0.8" filter="url(#glow)"/>
<circle cx="661.25" cy="624" r="91.35" fill="none" stroke="#0b8a1d" stroke-width="7" opacity="0.8" filter="url(#glow)"/>
<circle cx="243" cy="624" r="84.3" fill="#021d04"/>
<circle cx="451.6" cy="624" r="84.3" fill="#021d04"/>
<circle cx="662.5" cy="624" r="84.3" fill="#021d04"/>
</g>
<circle cx="192.9" cy="604.3" r="1.50" fill="#22e640" opacity="0.68"/>
<circle cx="194.4" cy="594.2" r="0.54" fill="#15c030" opacity="0.71"/>
<circle cx="259.9" cy="562.8" r="0.51" fill="#15c030" opacity="0.58"/>
<circle cx="251.8" cy="601.6" r="1.06" fill="#22e640" opacity="0.43"/>
<circle cx="320.3" cy="606.6" r="1.00" fill="#22e640" opacity="0.77"/>
<circle cx="274.6" cy="627.0" r="0.83" fill="#15c030" opacity="0.44"/>
<circle cx="244.8" cy="658.8" r="0.50" fill="#15c030" opacity="0.68"/>
<circle cx="272.1" cy="579.6" r="0.82" fill="#15c030" opacity="0.78"/>
<circle cx="213.4" cy="575.8" r="0.74" fill="#15c030" opacity="0.57"/>
<circle cx="322.9" cy="621.8" r="1.33" fill="#22e640" opacity="0.82"/>
<circle cx="248.7" cy="668.6" r="0.60" fill="#15c030" opacity="0.44"/>
<circle cx="186.2" cy="665.0" r="1.34" fill="#22e640" opacity="0.63"/>
<circle cx="287.9" cy="559.9" r="0.50" fill="#15c030" opacity="0.53"/>
<circle cx="168.0" cy="638.3" r="1.62" fill="#22e640" opacity="0.64"/>
<circle cx="228.1" cy="608.3" r="1.21" fill="#22e640" opacity="0.56"/>
<circle cx="231.3" cy="644.5" r="1.59" fill="#22e640" opacity="0.85"/>
<circle cx="243.6" cy="651.5" r="0.51" fill="#15c030" opacity="0.44"/>
<circle cx="274.3" cy="688.2" r="0.87" fill="#15c030" opacity="0.67"/>
<circle cx="239.0" cy="589.3" r="0.52" fill="#15c030" opacity="0.79"/>
<circle cx="219.0" cy="637.0" r="0.55" fill="#15c030" opacity="0.56"/>
<circle cx="269.0" cy="549.6" r="0.61" fill="#15c030" opacity="0.93"/>
<circle cx="214.1" cy="646.6" r="1.35" fill="#22e640" opacity="0.79"/>
<circle cx="268.3" cy="622.3" r="0.55" fill="#15c030" opacity="0.55"/>
<circle cx="209.5" cy="685.8" r="0.60" fill="#15c030" opacity="0.44"/>
<circle cx="222.2" cy="612.1" r="0.57" fill="#15c030" opacity="0.76"/>
<circle cx="196.3" cy="638.1" r="1.58" fill="#22e640" opacity="0.69"/>
<circle cx="283.5" cy="578.9" r="0.54" fill="#15c030" opacity="0.49"/>
<circle cx="274.5" cy="554.6" r="0.57" fill="#15c030" opacity="0.51"/>
<circle cx="307.0" cy="598.8" r="0.55" fill="#15c030" opacity="0.97"/>
<circle cx="183.2" cy="578.5" r="0.71" fill="#15c030" opacity="0.46"/>
<circle cx="258.3" cy="620.3" r="0.57" fill="#15c030" opacity="0.82"/>
<circle cx="261.1" cy="587.7" r="0.92" fill="#15c030" opacity="0.58"/>
<circle cx="236.8" cy="591.1" r="0.51" fill="#15c030" opacity="0.54"/>
<circle cx="278.9" cy="576.1" r="0.94" fill="#15c030" opacity="0.57"/>
<circle cx="264.8" cy="697.4" r="0.50" fill="#15c030" opacity="0.56"/>
<circle cx="292.6" cy="643.8" r="0.54" fill="#15c030" opacity="0.62"/>
<circle cx="284.0" cy="668.5" r="0.65" fill="#15c030" opacity="0.93"/>
<circle cx="199.3" cy="557.9" r="1.06" fill="#22e640" opacity="0.75"/>
<circle cx="272.2" cy="630.6" r="0.50" fill="#15c030" opacity="0.95"/>
<circle cx="308.2" cy="608.5" r="0.50" fill="#15c030" opacity="0.78"/>
<circle cx="236.2" cy="568.9" r="0.62" fill="#15c030" opacity="1.00"/>
<circle cx="222.0" cy="617.7" r="1.14" fill="#22e640" opacity="0.94"/>
<circle cx="223.3" cy="558.2" r="1.24" fill="#22e640" opacity="0.95"/>
<circle cx="224.2" cy="580.4" r="1.45" fill="#22e640" opacity="0.92"/>
<circle cx="256.0" cy="574.0" r="1.37" fill="#22e640" opacity="0.74"/>
<circle cx="196.3" cy="666.6" r="0.90" fill="#15c030" opacity="0.77"/>
<circle cx="228.5" cy="606.6" r="1.65" fill="#22e640" opacity="0.93"/>
<circle cx="190.8" cy="668.0" r="1.13" fill="#22e640" opacity="0.75"/>
<circle cx="271.0" cy="578.9" r="0.51" fill="#15c030" opacity="0.85"/>
<circle cx="231.9" cy="615.8" r="0.77" fill="#15c030" opacity="0.54"/>
<circle cx="176.2" cy="625.2" r="0.94" fill="#15c030" opacity="0.95"/>
<circle cx="283.4" cy="626.9" r="0.61" fill="#15c030" opacity="0.81"/>
<circle cx="260.4" cy="655.5" r="1.46" fill="#22e640" opacity="0.80"/>
<circle cx="284.3" cy="590.5" r="0.63" fill="#15c030" opacity="0.80"/>
<circle cx="210.7" cy="639.0" r="1.26" fill="#22e640" opacity="0.95"/>
<circle cx="186.9" cy="673.8" r="0.90" fill="#15c030" opacity="0.59"/>
<circle cx="213.5" cy="624.7" r="1.32" fill="#22e640" opacity="0.91"/>
<circle cx="307.2" cy="603.2" r="0.59" fill="#15c030" opacity="0.50"/>
<circle cx="234.5" cy="677.0" r="0.55" fill="#15c030" opacity="0.65"/>
<circle cx="179.8" cy="626.4" r="0.62" fill="#15c030" opacity="0.90"/>
<circle cx="167.2" cy="647.3" r="0.51" fill="#15c030" opacity="0.42"/>
<circle cx="315.2" cy="643.3" r="1.09" fill="#22e640" opacity="0.74"/>
<circle cx="463.1" cy="581.0" r="0.50" fill="#15c030" opacity="0.48"/>
<circle cx="504.9" cy="632.3" r="1.04" fill="#22e640" opacity="0.54"/>
<circle cx="480.3" cy="632.7" r="0.81" fill="#15c030" opacity="0.67"/>
<circle cx="415.9" cy="571.5" r="1.01" fill="#22e640" opacity="0.98"/>
<circle cx="472.3" cy="686.9" r="0.68" fill="#15c030" opacity="0.51"/>
<circle cx="443.4" cy="625.4" r="0.90" fill="#15c030" opacity="0.51"/>
<circle cx="428.0" cy="658.4" r="0.88" fill="#15c030" opacity="0.71"/>
<circle cx="454.0" cy="561.3" r="0.62" fill="#15c030" opacity="0.88"/>
<circle cx="727.5" cy="663.7" r="1.07" fill="#22e640" opacity="0.83"/>
<circle cx="634.9" cy="632.3" r="0.75" fill="#15c030" opacity="0.95"/>
<circle cx="617.9" cy="603.4" r="1.00" fill="#22e640" opacity="0.88"/>
</g>
<g clip-path="url(#clipR1)">
<circle cx="241.7" cy="822" r="99.4" fill="#087c18" opacity="0.22" filter="url(#glow)"/>
<circle cx="451.4" cy="822" r="99.4" fill="#087c18" opacity="0.22" filter="url(#glow)"/>
<circle cx="659.5" cy="822" r="99.4" fill="#087c18" opacity="0.22" filter="url(#glow)"/>
<g filter="url(#soft)">
<rect x="234.5" y="708" width="14.4" height="228" fill="#077018"/>
<rect x="444.2" y="708" width="14.4" height="228" fill="#077018"/>
<rect x="652.3" y="708" width="14.4" height="228" fill="#077018"/>
<rect x="136" y="814.8" width="631.5" height="14.4" fill="#077018"/>
<circle cx="241.7" cy="822" r="98.4" fill="#087c18"/>
<circle cx="451.4" cy="822" r="98.4" fill="#087c18"/>
<circle cx="659.5" cy="822" r="98.4" fill="#087c18"/>
<circle cx="241.7" cy="822" r="91.35" fill="none" stroke="#0b8a1d" stroke-width="7" opacity="0.8" filter="url(#glow)"/>
<circle cx="451.4" cy="822" r="91.35" fill="none" stroke="#0b8a1d" stroke-width="7" opacity="0.8" filter="url(#glow)"/>
<circle cx="661.0" cy="822" r="91.35" fill="none" stroke="#0b8a1d" stroke-width="7" opacity="0.8" filter="url(#glow)"/>
<circle cx="241.7" cy="822" r="84.3" fill="#021d04"/>
<circle cx="451.4" cy="822" r="84.3" fill="#021d04"/>
<circle cx="662.5" cy="822" r="84.3" fill="#021d04"/>
</g>
<circle cx="166.0" cy="839.6" r="1.00" fill="#15c030" opacity="0.52"/>
<circle cx="270.0" cy="760.2" r="0.98" fill="#15c030" opacity="0.83"/>
<circle cx="271.6" cy="800.3" r="1.62" fill="#22e640" opacity="0.99"/>
<circle cx="256.6" cy="765.3" r="0.62" fill="#15c030" opacity="0.95"/>
<circle cx="198.8" cy="882.3" r="0.51" fill="#15c030" opacity="0.66"/>
<circle cx="248.5" cy="763.0" r="0.78" fill="#15c030" opacity="0.42"/>
<circle cx="307.9" cy="850.2" r="1.25" fill="#22e640" opacity="0.50"/>
<circle cx="252.6" cy="777.0" r="0.52" fill="#15c030" opacity="0.49"/>
<circle cx="232.2" cy="765.3" r="1.33" fill="#22e640" opacity="0.81"/>
<circle cx="164.0" cy="825.6" r="1.55" fill="#22e640" opacity="0.45"/>
<circle cx="204.6" cy="815.7" r="0.60" fill="#15c030" opacity="0.84"/>
<circle cx="178.4" cy="812.9" r="1.33" fill="#22e640" opacity="0.74"/>
<circle cx="208.9" cy="852.3" r="1.34" fill="#22e640" opacity="0.94"/>
<circle cx="263.3" cy="792.6" r="1.60" fill="#22e640" opacity="0.71"/>
<circle cx="260.1" cy="879.7" r="0.84" fill="#15c030" opacity="0.70"/>
<circle cx="303.0" cy="832.8" r="1.60" fill="#22e640" opacity="0.71"/>
<circle cx="257.7" cy="774.0" r="0.87" fill="#15c030" opacity="0.69"/>
<circle cx="302.6" cy="848.8" r="0.84" fill="#15c030" opacity="0.65"/>
<circle cx="311.1" cy="785.8" r="0.58" fill="#15c030" opacity="0.68"/>
<circle cx="215.6" cy="833.5" r="1.28" fill="#22e640" opacity="0.94"/>
<circle cx="219.1" cy="872.4" r="0.54" fill="#15c030" opacity="0.77"/>
<circle cx="294.6" cy="877.9" r="1.21" fill="#22e640" opacity="0.41"/>
<circle cx="246.7" cy="856.9" r="1.05" fill="#22e640" opacity="0.59"/>
<circle cx="206.9" cy="789.4" r="0.51" fill="#15c030" opacity="0.84"/>
<circle cx="213.7" cy="820.2" r="0.57" fill="#15c030" opacity="0.52"/>
<circle cx="188.0" cy="844.5" r="0.67" fill="#15c030" opacity="0.65"/>
<circle cx="273.0" cy="871.1" r="0.55" fill="#15c030" opacity="0.78"/>
<circle cx="178.9" cy="810.2" r="1.35" fill="#22e640" opacity="0.77"/>
<circle cx="249.8" cy="895.6" r="1.14" fill="#22e640" opacity="0.89"/>
<circle cx="211.1" cy="891.6" r="0.62" fill="#15c030" opacity="0.95"/>
<circle cx="279.1" cy="821.6" r="1.42" fill="#22e640" opacity="0.48"/>
<circle cx="236.0" cy="783.3" r="0.58" fill="#15c030" opacity="0.46"/>
<circle cx="177.4" cy="856.5" r="1.23" fill="#22e640" opacity="0.48"/>
<circle cx="221.6" cy="775.4" r="0.50" fill="#15c030" opacity="0.52"/>
<circle cx="297.8" cy="787.1" r="1.60" fill="#22e640" opacity="0.47"/>
<circle cx="244.6" cy="765.2" r="0.80" fill="#15c030" opacity="0.81"/>
<circle cx="273.1" cy="836.9" r="0.51" fill="#15c030" opacity="0.42"/>
<circle cx="182.5" cy="816.5" r="0.88" fill="#15c030" opacity="0.49"/>
<circle cx="251.5" cy="854.9" r="1.33" fill="#22e640" opacity="0.99"/>
<circle cx="305.3" cy="865.4" r="0.50" fill="#15c030" opacity="0.97"/>
<circle cx="246.7" cy="767.9" r="0.62" fill="#15c030" opacity="0.68"/>
<circle cx="189.7" cy="846.4" r="0.92" fill="#15c030" opacity="0.41"/>
<circle cx="279.1" cy="766.4" r="0.54" fill="#15c030" opacity="0.67"/>
<circle cx="184.7" cy="860.6" r="0.54" fill="#15c030" opacity="0.50"/>
<circle cx="298.7" cy="827.5" r="1.43" fill="#22e640" opacity="0.88"/>
<circle cx="284.7" cy="770.5" r="0.96" fill="#15c030" opacity="0.64"/>
<circle cx="179.8" cy="820.3" r="1.63" fill="#22e640" opacity="0.88"/>
<circle cx="276.2" cy="800.5" r="1.15" fill="#22e640" opacity="0.87"/>
<circle cx="181.8" cy="862.3" r="1.44" fill="#22e640" opacity="0.93"/>
<circle cx="248.9" cy="755.7" r="1.19" fill="#22e640" opacity="0.64"/>
<circle cx="303.1" cy="851.2" r="0.64" fill="#15c030" opacity="0.68"/>
<circle cx="236.6" cy="828.5" r="0.98" fill="#15c030" opacity="0.77"/>
<circle cx="277.9" cy="808.9" r="1.02" fill="#22e640" opacity="0.60"/>
<circle cx="182.8" cy="794.5" r="0.83" fill="#15c030" opacity="0.63"/>
<circle cx="191.6" cy="759.6" r="1.08" fill="#22e640" opacity="0.86"/>
<circle cx="320.1" cy="833.3" r="0.94" fill="#15c030" opacity="0.84"/>
<circle cx="208.7" cy="845.5" r="0.50" fill="#15c030" opacity="0.52"/>
<circle cx="281.6" cy="850.4" r="0.57" fill="#15c030" opacity="0.94"/>
<circle cx="182.4" cy="819.1" r="1.59" fill="#22e640" opacity="0.74"/>
<circle cx="190.1" cy="761.1" r="1.27" fill="#22e640" opacity="0.45"/>
<circle cx="245.3" cy="760.3" r="0.50" fill="#15c030" opacity="0.96"/>
<circle cx="210.2" cy="827.6" r="0.53" fill="#15c030" opacity="0.70"/>
<circle cx="300.1" cy="844.5" r="1.55" fill="#22e640" opacity="0.65"/>
<circle cx="194.3" cy="788.5" r="0.66" fill="#15c030" opacity="0.57"/>
<circle cx="181.6" cy="797.9" r="0.59" fill="#15c030" opacity="0.83"/>
<circle cx="285.1" cy="825.8" r="0.57" fill="#15c030" opacity="0.43"/>
<circle cx="242.6" cy="790.4" r="0.68" fill="#15c030" opacity="0.94"/>
<circle cx="307.5" cy="843.5" r="1.64" fill="#22e640" opacity="0.97"/>
<circle cx="259.7" cy="809.9" r="0.72" fill="#15c030" opacity="0.69"/>
<circle cx="244.8" cy="900.9" r="0.82" fill="#15c030" opacity="0.96"/>
<circle cx="175.0" cy="835.4" r="1.62" fill="#22e640" opacity="0.89"/>
<circle cx="288.3" cy="863.1" r="0.96" fill="#15c030" opacity="0.67"/>
<circle cx="275.9" cy="833.6" r="0.83" fill="#15c030" opacity="0.47"/>
<circle cx="215.4" cy="775.7" r="0.74" fill="#15c030" opacity="0.56"/>
<circle cx="188.3" cy="851.6" r="1.21" fill="#22e640" opacity="0.72"/>
<circle cx="318.1" cy="798.6" r="1.13" fill="#22e640" opacity="0.54"/>
<circle cx="262.8" cy="805.1" r="1.22" fill="#22e640" opacity="0.77"/>
<circle cx="235.2" cy="869.5" r="1.05" fill="#22e640" opacity="0.74"/>
<circle cx="200.5" cy="776.3" r="1.16" fill="#22e640" opacity="0.51"/>
<circle cx="281.3" cy="816.9" r="1.48" fill="#22e640" opacity="0.93"/>
<circle cx="256.5" cy="827.9" r="0.59" fill="#15c030" opacity="0.66"/>
<circle cx="292.2" cy="859.9" r="0.84" fill="#15c030" opacity="0.44"/>
<circle cx="231.2" cy="801.0" r="0.85" fill="#15c030" opacity="0.78"/>
<circle cx="193.3" cy="828.6" r="0.55" fill="#15c030" opacity="0.61"/>
<circle cx="278.2" cy="763.4" r="0.51" fill="#15c030" opacity="0.47"/>
<circle cx="190.4" cy="771.5" r="1.19" fill="#22e640" opacity="0.53"/>
<circle cx="239.1" cy="874.0" r="1.27" fill="#22e640" opacity="0.62"/>
<circle cx="306.2" cy="817.6" r="0.62" fill="#15c030" opacity="0.73"/>
<circle cx="302.4" cy="789.0" r="0.71" fill="#15c030" opacity="0.62"/>
<circle cx="259.3" cy="804.4" r="0.51" fill="#15c030" opacity="0.45"/>
<circle cx="181.9" cy="827.7" r="1.05" fill="#22e640" opacity="0.58"/>
<circle cx="304.3" cy="854.4" r="0.55" fill="#15c030" opacity="0.80"/>
<circle cx="234.1" cy="843.6" r="1.11" fill="#22e640" opacity="0.82"/>
<circle cx="268.2" cy="855.3" r="0.65" fill="#15c030" opacity="0.84"/>
<circle cx="277.5" cy="854.6" r="1.09" fill="#22e640" opacity="0.74"/>
<circle cx="522.7" cy="793.7" r="1.04" fill="#22e640" opacity="0.66"/>
<circle cx="427.2" cy="889.5" r="0.57" fill="#15c030" opacity="0.64"/>
<circle cx="512.4" cy="774.5" r="0.54" fill="#15c030" opacity="0.62"/>
<circle cx="419.8" cy="858.6" r="0.60" fill="#15c030" opacity="0.63"/>
<circle cx="418.9" cy="808.2" r="0.91" fill="#15c030" opacity="0.72"/>
<circle cx="383.9" cy="793.9" r="0.52" fill="#15c030" opacity="0.86"/>
<circle cx="436.7" cy="895.6" r="0.50" fill="#15c030" opacity="0.71"/>
<circle cx="397.6" cy="797.7" r="1.11" fill="#22e640" opacity="0.79"/>
<circle cx="517.4" cy="850.1" r="0.69" fill="#15c030" opacity="0.87"/>
<circle cx="471.6" cy="833.4" r="0.85" fill="#15c030" opacity="0.94"/>
<circle cx="435.9" cy="804.6" r="0.51" fill="#15c030" opacity="0.85"/>
<circle cx="453.2" cy="886.4" r="0.53" fill="#15c030" opacity="0.86"/>
<circle cx="456.7" cy="764.5" r="0.60" fill="#15c030" opacity="0.60"/>
<circle cx="414.5" cy="752.5" r="0.66" fill="#15c030" opacity="0.72"/>
<circle cx="433.7" cy="756.4" r="1.04" fill="#22e640" opacity="0.65"/>
<circle cx="415.1" cy="759.0" r="0.97" fill="#15c030" opacity="0.88"/>
<circle cx="718.4" cy="775.0" r="1.10" fill="#22e640" opacity="0.78"/>
<circle cx="648.1" cy="765.9" r="0.92" fill="#15c030" opacity="0.65"/>
<circle cx="694.0" cy="863.2" r="0.86" fill="#15c030" opacity="0.99"/>
<circle cx="686.7" cy="864.6" r="0.53" fill="#15c030" opacity="0.65"/>
<circle cx="705.0" cy="813.8" r="0.50" fill="#15c030" opacity="0.59"/>
<circle cx="646.3" cy="800.3" r="0.89" fill="#15c030" opacity="0.51"/>
<circle cx="643.2" cy="827.1" r="0.72" fill="#15c030" opacity="0.95"/>
<circle cx="674.3" cy="831.6" r="0.52" fill="#15c030" opacity="0.53"/>
<circle cx="654.6" cy="784.0" r="0.73" fill="#15c030" opacity="0.53"/>
<circle cx="655.8" cy="855.8" r="0.52" fill="#15c030" opacity="0.85"/>
<circle cx="619.9" cy="808.7" r="0.93" fill="#15c030" opacity="0.69"/>
<circle cx="693.5" cy="795.5" r="1.04" fill="#22e640" opacity="0.61"/>
</g>
<g clip-path="url(#clipR2)">
<circle cx="245.4" cy="1032.3" r="99.4" fill="#097e1a" opacity="0.22" filter="url(#glow)"/>
<circle cx="453.7" cy="1032.3" r="99.4" fill="#097e1a" opacity="0.22" filter="url(#glow)"/>
<circle cx="661.5" cy="1032.3" r="99.4" fill="#097e1a" opacity="0.22" filter="url(#glow)"/>
<g filter="url(#soft)">
<rect x="238.2" y="918.3" width="14.4" height="228" fill="#08721a"/>
<rect x="446.5" y="918.3" width="14.4" height="228" fill="#08721a"/>
<rect x="654.3" y="918.3" width="14.4" height="228" fill="#08721a"/>
<rect x="136" y="1025.1" width="631.5" height="14.4" fill="#08721a"/>
<circle cx="245.4" cy="1032.3" r="98.4" fill="#097e1a"/>
<circle cx="453.7" cy="1032.3" r="98.4" fill="#097e1a"/>
<circle cx="661.5" cy="1032.3" r="98.4" fill="#097e1a"/>
<circle cx="245.4" cy="1032.3" r="91.35" fill="none" stroke="#0c8c1f" stroke-width="7" opacity="0.8" filter="url(#glow)"/>
<circle cx="453.7" cy="1032.3" r="91.35" fill="none" stroke="#0c8c1f" stroke-width="7" opacity="0.8" filter="url(#glow)"/>
<circle cx="662.75" cy="1032.3" r="91.35" fill="none" stroke="#0c8c1f" stroke-width="7" opacity="0.8" filter="url(#glow)"/>
<circle cx="245.4" cy="1032.3" r="84.3" fill="#021b04"/>
<circle cx="453.7" cy="1032.3" r="84.3" fill="#021b04"/>
<circle cx="664.0" cy="1032.3" r="84.3" fill="#021b04"/>
</g>
<circle cx="302.4" cy="1016.5" r="0.95" fill="#15c030" opacity="0.53"/>
<circle cx="262.3" cy="1026.5" r="1.75" fill="#22e640" opacity="0.63"/>
<circle cx="187.6" cy="1026.5" r="0.65" fill="#15c030" opacity="0.99"/>
<circle cx="250.4" cy="1097.0" r="0.50" fill="#15c030" opacity="0.68"/>
<circle cx="259.5" cy="985.6" r="1.49" fill="#22e640" opacity="0.76"/>
<circle cx="262.9" cy="1058.8" r="0.70" fill="#15c030" opacity="0.56"/>
<circle cx="171.2" cy="1024.8" r="1.29" fill="#22e640" opacity="1.00"/>
<circle cx="205.1" cy="1023.4" r="0.54" fill="#15c030" opacity="0.86"/>
<circle cx="246.7" cy="1029.6" r="1.90" fill="#22e640" opacity="0.89"/>
<circle cx="242.5" cy="1055.1" r="1.50" fill="#22e640" opacity="0.46"/>
<circle cx="191.0" cy="1043.1" r="2.28" fill="#22e640" opacity="0.75"/>
<circle cx="220.9" cy="1102.2" r="1.71" fill="#22e640" opacity="0.65"/>
<circle cx="309.8" cy="1073.7" r="1.83" fill="#22e640" opacity="0.53"/>
<circle cx="187.2" cy="1022.8" r="0.55" fill="#15c030" opacity="0.90"/>
<circle cx="228.8" cy="1073.7" r="0.51" fill="#15c030" opacity="0.58"/>
<circle cx="233.5" cy="978.9" r="0.75" fill="#15c030" opacity="0.81"/>
<circle cx="224.9" cy="1048.3" r="0.92" fill="#15c030" opacity="0.98"/>
<circle cx="204.0" cy="972.3" r="0.50" fill="#15c030" opacity="0.63"/>
<circle cx="250.7" cy="1099.5" r="1.12" fill="#22e640" opacity="0.67"/>
<circle cx="253.6" cy="1031.9" r="1.75" fill="#22e640" opacity="0.52"/>
<circle cx="229.6" cy="1093.1" r="0.78" fill="#15c030" opacity="0.72"/>
<circle cx="222.6" cy="1069.6" r="0.80" fill="#15c030" opacity="0.80"/>
<circle cx="257.9" cy="1070.8" r="1.54" fill="#22e640" opacity="0.60"/>
<circle cx="173.6" cy="1002.4" r="1.52" fill="#22e640" opacity="0.60"/>
<circle cx="306.3" cy="1072.2" r="0.54" fill="#15c030" opacity="0.46"/>
<circle cx="228.3" cy="968.7" r="0.56" fill="#15c030" opacity="0.64"/>
<circle cx="184.3" cy="992.0" r="0.52" fill="#15c030" opacity="0.54"/>
<circle cx="267.9" cy="1054.6" r="0.82" fill="#15c030" opacity="0.44"/>
<circle cx="176.6" cy="1066.3" r="1.01" fill="#22e640" opacity="0.79"/>
<circle cx="275.7" cy="969.1" r="0.79" fill="#15c030" opacity="0.60"/>
<circle cx="296.5" cy="1037.3" r="0.81" fill="#15c030" opacity="0.82"/>
<circle cx="265.0" cy="955.5" r="1.35" fill="#22e640" opacity="0.77"/>
<circle cx="240.1" cy="1041.8" r="0.73" fill="#15c030" opacity="0.79"/>
<circle cx="226.7" cy="1050.4" r="1.01" fill="#22e640" opacity="0.87"/>
<circle cx="189.8" cy="985.5" r="0.55" fill="#15c030" opacity="0.86"/>
<circle cx="172.8" cy="1009.6" r="0.74" fill="#15c030" opacity="0.70"/>
<circle cx="238.5" cy="1003.0" r="2.40" fill="#22e640" opacity="0.71"/>
<circle cx="280.0" cy="974.2" r="0.58" fill="#15c030" opacity="0.97"/>
<circle cx="265.8" cy="1092.3" r="0.51" fill="#15c030" opacity="0.55"/>
<circle cx="225.6" cy="974.9" r="0.71" fill="#15c030" opacity="0.96"/>
<circle cx="198.6" cy="1043.4" r="0.53" fill="#15c030" opacity="0.98"/>
<circle cx="269.7" cy="1015.6" r="1.08" fill="#22e640" opacity="0.74"/>
<circle cx="240.0" cy="1091.9" r="2.11" fill="#22e640" opacity="1.00"/>
<circle cx="187.3" cy="989.2" r="0.53" fill="#15c030" opacity="0.89"/>
<circle cx="279.7" cy="1006.4" r="0.61" fill="#15c030" opacity="0.74"/>
<circle cx="274.1" cy="1099.3" r="1.09" fill="#22e640" opacity="0.45"/>
<circle cx="251.5" cy="1045.3" r="2.40" fill="#22e640" opacity="0.96"/>
<circle cx="222.4" cy="1093.0" r="1.38" fill="#22e640" opacity="0.84"/>
<circle cx="204.0" cy="1005.3" r="1.76" fill="#22e640" opacity="0.41"/>
<circle cx="210.4" cy="1039.4" r="0.54" fill="#15c030" opacity="0.63"/>
<circle cx="273.3" cy="1085.9" r="1.03" fill="#22e640" opacity="0.56"/>
<circle cx="215.7" cy="1084.7" r="1.30" fill="#22e640" opacity="0.42"/>
<circle cx="285.6" cy="1084.0" r="2.29" fill="#22e640" opacity="0.76"/>
<circle cx="198.8" cy="1061.3" r="1.26" fill="#22e640" opacity="0.81"/>
<circle cx="246.2" cy="962.7" r="0.96" fill="#15c030" opacity="1.00"/>
<circle cx="290.3" cy="974.4" r="0.83" fill="#15c030" opacity="0.66"/>
<circle cx="295.2" cy="998.5" r="1.04" fill="#22e640" opacity="0.72"/>
<circle cx="288.8" cy="1002.5" r="0.70" fill="#15c030" opacity="0.43"/>
<circle cx="300.6" cy="992.3" r="1.54" fill="#22e640" opacity="0.76"/>
<circle cx="222.0" cy="1097.6" r="1.19" fill="#22e640" opacity="0.44"/>
<circle cx="218.7" cy="1041.5" r="0.99" fill="#15c030" opacity="0.64"/>
<circle cx="239.2" cy="1015.1" r="1.04" fill="#22e640" opacity="0.54"/>
<circle cx="210.3" cy="1059.3" r="0.61" fill="#15c030" opacity="0.44"/>
<circle cx="320.1" cy="1016.3" r="1.36" fill="#22e640" opacity="0.92"/>
<circle cx="263.1" cy="983.5" r="0.60" fill="#15c030" opacity="0.85"/>
<circle cx="294.9" cy="998.0" r="0.52" fill="#15c030" opacity="0.88"/>
<circle cx="218.0" cy="1025.7" r="2.26" fill="#22e640" opacity="0.40"/>
<circle cx="233.4" cy="1069.9" r="0.71" fill="#15c030" opacity="0.44"/>
<circle cx="275.7" cy="962.9" r="0.81" fill="#15c030" opacity="0.61"/>
<circle cx="304.1" cy="1049.7" r="0.50" fill="#15c030" opacity="0.94"/>
<circle cx="201.0" cy="1032.7" r="2.20" fill="#22e640" opacity="0.99"/>
<circle cx="260.2" cy="1085.3" r="0.67" fill="#15c030" opacity="0.95"/>
<circle cx="270.8" cy="1103.7" r="1.87" fill="#22e640" opacity="0.61"/>
<circle cx="271.3" cy="1080.8" r="2.01" fill="#22e640" opacity="1.00"/>
<circle cx="221.2" cy="1005.7" r="0.57" fill="#15c030" opacity="0.93"/>
<circle cx="259.5" cy="1043.4" r="1.53" fill="#22e640" opacity="0.59"/>
<circle cx="297.2" cy="976.8" r="1.49" fill="#22e640" opacity="0.48"/>
<circle cx="307.1" cy="1006.9" r="0.89" fill="#15c030" opacity="0.45"/>
<circle cx="232.1" cy="1067.7" r="1.48" fill="#22e640" opacity="0.52"/>
<circle cx="248.5" cy="1066.2" r="1.36" fill="#22e640" opacity="0.87"/>
<circle cx="219.8" cy="990.7" r="2.03" fill="#22e640" opacity="0.75"/>
<circle cx="233.4" cy="1068.6" r="2.17" fill="#22e640" opacity="0.80"/>
<circle cx="218.6" cy="999.9" r="0.52" fill="#15c030" opacity="0.99"/>
<circle cx="193.2" cy="1022.9" r="1.05" fill="#22e640" opacity="0.43"/>
<circle cx="232.1" cy="1092.8" r="0.62" fill="#15c030" opacity="0.88"/>
<circle cx="240.2" cy="1055.3" r="1.61" fill="#22e640" opacity="0.55"/>
<circle cx="205.1" cy="1019.7" r="0.57" fill="#15c030" opacity="0.94"/>
<circle cx="323.1" cy="1049.0" r="0.92" fill="#15c030" opacity="0.85"/>
<circle cx="290.2" cy="1011.0" r="0.99" fill="#15c030" opacity="0.51"/>
<circle cx="208.8" cy="985.2" r="0.75" fill="#15c030" opacity="0.79"/>
<circle cx="175.0" cy="1024.9" r="1.00" fill="#15c030" opacity="0.91"/>
<circle cx="179.8" cy="1023.8" r="2.27" fill="#22e640" opacity="0.50"/>
<circle cx="281.3" cy="1093.1" r="1.22" fill="#22e640" opacity="0.54"/>
<circle cx="253.1" cy="979.8" r="1.71" fill="#22e640" opacity="0.87"/>
<circle cx="206.6" cy="1035.0" r="0.60" fill="#15c030" opacity="0.75"/>
<circle cx="300.5" cy="1044.7" r="1.19" fill="#22e640" opacity="0.83"/>
<circle cx="287.6" cy="988.9" r="0.56" fill="#15c030" opacity="0.49"/>
<circle cx="234.7" cy="1032.6" r="0.87" fill="#15c030" opacity="0.67"/>
<circle cx="257.7" cy="993.2" r="0.51" fill="#15c030" opacity="0.94"/>
<circle cx="187.3" cy="1016.1" r="1.72" fill="#22e640" opacity="0.54"/>
<circle cx="234.0" cy="1060.7" r="0.50" fill="#15c030" opacity="0.59"/>
<circle cx="183.2" cy="1022.3" r="0.64" fill="#15c030" opacity="0.75"/>
<circle cx="255.6" cy="1010.8" r="0.56" fill="#15c030" opacity="0.55"/>
<circle cx="233.8" cy="1002.5" r="1.85" fill="#22e640" opacity="0.87"/>
<circle cx="228.7" cy="1042.8" r="0.76" fill="#15c030" opacity="0.53"/>
<circle cx="321.5" cy="1052.9" r="0.97" fill="#15c030" opacity="0.86"/>
<circle cx="294.3" cy="1094.9" r="0.90" fill="#15c030" opacity="0.85"/>
<circle cx="246.3" cy="1048.1" r="2.04" fill="#22e640" opacity="0.48"/>
<circle cx="230.5" cy="1080.2" r="0.85" fill="#15c030" opacity="0.45"/>
<circle cx="260.2" cy="1031.9" r="1.64" fill="#22e640" opacity="0.84"/>
<circle cx="244.6" cy="1070.6" r="1.09" fill="#22e640" opacity="0.55"/>
<circle cx="294.9" cy="1009.9" r="0.76" fill="#15c030" opacity="0.60"/>
<circle cx="184.6" cy="981.4" r="0.50" fill="#15c030" opacity="0.64"/>
<circle cx="305.6" cy="1055.5" r="0.73" fill="#15c030" opacity="0.82"/>
<circle cx="182.8" cy="992.2" r="2.03" fill="#22e640" opacity="0.68"/>
<circle cx="273.1" cy="990.5" r="0.78" fill="#15c030" opacity="0.87"/>
<circle cx="224.1" cy="1062.7" r="0.57" fill="#15c030" opacity="0.73"/>
<circle cx="254.7" cy="1063.3" r="0.59" fill="#15c030" opacity="0.68"/>
<circle cx="203.4" cy="1046.8" r="2.42" fill="#22e640" opacity="0.81"/>
<circle cx="266.3" cy="1103.6" r="0.79" fill="#15c030" opacity="0.44"/>
<circle cx="202.1" cy="1082.8" r="0.65" fill="#15c030" opacity="0.41"/>
<circle cx="242.8" cy="1066.3" r="0.80" fill="#15c030" opacity="0.95"/>
<circle cx="237.5" cy="1099.5" r="0.75" fill="#15c030" opacity="0.49"/>
<circle cx="196.1" cy="1092.0" r="1.64" fill="#22e640" opacity="0.83"/>
<circle cx="321.0" cy="1042.0" r="0.70" fill="#15c030" opacity="0.63"/>
<circle cx="262.5" cy="1016.8" r="0.71" fill="#15c030" opacity="0.86"/>
<circle cx="299.7" cy="1051.8" r="0.80" fill="#15c030" opacity="0.54"/>
<circle cx="254.8" cy="1045.4" r="1.19" fill="#22e640" opacity="0.42"/>
<circle cx="205.7" cy="1052.8" r="1.08" fill="#22e640" opacity="0.48"/>
<circle cx="241.0" cy="1099.4" r="1.53" fill="#22e640" opacity="0.80"/>
<circle cx="254.0" cy="1061.8" r="0.65" fill="#15c030" opacity="0.83"/>
<circle cx="206.9" cy="1065.6" r="1.96" fill="#22e640" opacity="0.54"/>
<circle cx="221.1" cy="1068.1" r="0.59" fill="#15c030" opacity="0.42"/>
<circle cx="236.8" cy="1023.1" r="1.12" fill="#22e640" opacity="0.89"/>
<circle cx="221.9" cy="1107.7" r="1.38" fill="#22e640" opacity="0.95"/>
<circle cx="439.8" cy="997.8" r="1.31" fill="#22e640" opacity="0.97"/>
<circle cx="460.9" cy="1106.5" r="1.23" fill="#22e640" opacity="0.45"/>
<circle cx="412.9" cy="1065.0" r="0.51" fill="#15c030" opacity="0.63"/>
<circle cx="407.9" cy="1033.1" r="0.64" fill="#15c030" opacity="0.50"/>
<circle cx="403.6" cy="1040.2" r="0.55" fill="#15c030" opacity="0.80"/>
<circle cx="486.4" cy="1053.9" r="0.71" fill="#15c030" opacity="0.65"/>
<circle cx="426.7" cy="1016.9" r="1.40" fill="#22e640" opacity="0.73"/>
<circle cx="519.9" cy="1042.0" r="0.78" fill="#15c030" opacity="0.62"/>
<circle cx="437.1" cy="1043.6" r="0.51" fill="#15c030" opacity="0.70"/>
<circle cx="393.6" cy="1044.2" r="0.69" fill="#15c030" opacity="0.55"/>
<circle cx="446.7" cy="1042.4" r="1.95" fill="#22e640" opacity="0.74"/>
<circle cx="433.5" cy="996.7" r="0.56" fill="#15c030" opacity="0.68"/>
<circle cx="513.9" cy="1014.7" r="0.74" fill="#15c030" opacity="0.75"/>
<circle cx="464.1" cy="955.3" r="1.22" fill="#22e640" opacity="0.77"/>
<circle cx="409.5" cy="1058.2" r="0.64" fill="#15c030" opacity="0.90"/>
<circle cx="398.4" cy="1083.0" r="2.01" fill="#22e640" opacity="0.42"/>
<circle cx="424.2" cy="1031.0" r="0.67" fill="#15c030" opacity="0.62"/>
<circle cx="500.2" cy="1096.2" r="0.57" fill="#15c030" opacity="0.54"/>
<circle cx="460.1" cy="1098.0" r="0.50" fill="#15c030" opacity="0.73"/>
<circle cx="457.1" cy="1082.4" r="0.94" fill="#15c030" opacity="0.79"/>
<circle cx="411.7" cy="990.6" r="1.07" fill="#22e640" opacity="0.90"/>
<circle cx="414.2" cy="1100.4" r="0.72" fill="#15c030" opacity="0.93"/>
<circle cx="444.2" cy="988.5" r="1.38" fill="#22e640" opacity="0.81"/>
<circle cx="489.1" cy="962.2" r="0.55" fill="#15c030" opacity="0.77"/>
<circle cx="402.1" cy="1010.4" r="0.75" fill="#15c030" opacity="0.57"/>
<circle cx="386.0" cy="1017.6" r="0.60" fill="#15c030" opacity="0.55"/>
<circle cx="473.7" cy="1073.3" r="0.98" fill="#15c030" opacity="0.48"/>
<circle cx="472.0" cy="1040.7" r="0.52" fill="#15c030" opacity="0.82"/>
<circle cx="428.1" cy="1040.3" r="1.58" fill="#22e640" opacity="0.69"/>
<circle cx="475.2" cy="1008.3" r="1.88" fill="#22e640" opacity="0.43"/>
<circle cx="413.4" cy="1030.4" r="1.65" fill="#22e640" opacity="0.64"/>
<circle cx="452.9" cy="1100.0" r="1.43" fill="#22e640" opacity="0.60"/>
<circle cx="456.4" cy="986.2" r="1.79" fill="#22e640" opacity="0.90"/>
<circle cx="400.8" cy="1061.1" r="1.41" fill="#22e640" opacity="0.77"/>
<circle cx="476.8" cy="963.1" r="0.53" fill="#15c030" opacity="0.63"/>
<circle cx="461.5" cy="1097.3" r="0.56" fill="#15c030" opacity="0.41"/>
<circle cx="510.8" cy="1010.1" r="2.21" fill="#22e640" opacity="0.48"/>
<circle cx="395.7" cy="1064.5" r="1.23" fill="#22e640" opacity="0.64"/>
<circle cx="530.8" cy="1026.9" r="0.50" fill="#15c030" opacity="0.83"/>
<circle cx="480.3" cy="1039.5" r="0.65" fill="#15c030" opacity="0.84"/>
<circle cx="511.8" cy="1086.9" r="0.70" fill="#15c030" opacity="0.42"/>
<circle cx="395.1" cy="1038.6" r="0.75" fill="#15c030" opacity="0.59"/>
<circle cx="491.6" cy="971.6" r="0.65" fill="#15c030" opacity="0.64"/>
<circle cx="459.8" cy="969.7" r="2.25" fill="#22e640" opacity="0.63"/>
<circle cx="389.8" cy="1013.3" r="1.67" fill="#22e640" opacity="0.49"/>
<circle cx="479.9" cy="1053.2" r="2.09" fill="#22e640" opacity="0.55"/>
<circle cx="494.4" cy="1070.7" r="0.69" fill="#15c030" opacity="0.41"/>
<circle cx="491.0" cy="1079.5" r="1.21" fill="#22e640" opacity="0.56"/>
<circle cx="415.8" cy="1036.6" r="0.74" fill="#15c030" opacity="0.56"/>
<circle cx="470.3" cy="1039.4" r="1.95" fill="#22e640" opacity="0.59"/>
<circle cx="462.9" cy="1052.7" r="0.93" fill="#15c030" opacity="1.00"/>
<circle cx="477.9" cy="1005.7" r="0.93" fill="#15c030" opacity="0.65"/>
<circle cx="396.7" cy="1076.0" r="0.51" fill="#15c030" opacity="0.73"/>
<circle cx="407.3" cy="987.0" r="0.64" fill="#15c030" opacity="0.96"/>
<circle cx="528.0" cy="1029.6" r="0.86" fill="#15c030" opacity="0.90"/>
<circle cx="484.3" cy="1093.2" r="0.50" fill="#15c030" opacity="0.50"/>
<circle cx="478.3" cy="1044.8" r="0.73" fill="#15c030" opacity="0.85"/>
<circle cx="409.3" cy="1028.3" r="0.50" fill="#15c030" opacity="0.53"/>
<circle cx="531.9" cy="1037.7" r="1.01" fill="#22e640" opacity="0.89"/>
<circle cx="447.2" cy="961.4" r="0.79" fill="#15c030" opacity="0.88"/>
<circle cx="461.8" cy="960.0" r="2.27" fill="#22e640" opacity="0.46"/>
<circle cx="390.0" cy="1077.2" r="1.41" fill="#22e640" opacity="0.55"/>
<circle cx="529.2" cy="1043.5" r="1.11" fill="#22e640" opacity="0.54"/>
<circle cx="419.7" cy="1068.8" r="1.29" fill="#22e640" opacity="0.89"/>
<circle cx="422.4" cy="995.5" r="0.73" fill="#15c030" opacity="0.57"/>
<circle cx="420.6" cy="1100.8" r="0.52" fill="#15c030" opacity="0.60"/>
<circle cx="470.3" cy="1099.2" r="1.51" fill="#22e640" opacity="0.73"/>
<circle cx="482.8" cy="1091.5" r="0.52" fill="#15c030" opacity="0.49"/>
<circle cx="410.8" cy="1052.3" r="0.50" fill="#15c030" opacity="0.70"/>
<circle cx="431.6" cy="1078.1" r="1.03" fill="#22e640" opacity="0.97"/>
<circle cx="480.2" cy="1007.6" r="0.69" fill="#15c030" opacity="0.85"/>
<circle cx="480.0" cy="1030.2" r="0.84" fill="#15c030" opacity="0.98"/>
<circle cx="422.3" cy="1052.7" r="1.41" fill="#22e640" opacity="0.51"/>
<circle cx="435.2" cy="994.8" r="2.13" fill="#22e640" opacity="0.59"/>
<circle cx="432.3" cy="1059.1" r="2.28" fill="#22e640" opacity="0.49"/>
<circle cx="407.8" cy="1076.5" r="1.25" fill="#22e640" opacity="0.53"/>
<circle cx="501.5" cy="991.6" r="1.83" fill="#22e640" opacity="0.78"/>
<circle cx="401.9" cy="1008.8" r="0.52" fill="#15c030" opacity="0.90"/>
<circle cx="390.1" cy="1051.6" r="1.31" fill="#22e640" opacity="0.65"/>
<circle cx="459.9" cy="1081.5" r="1.16" fill="#22e640" opacity="0.74"/>
<circle cx="510.0" cy="1043.8" r="1.22" fill="#22e640" opacity="0.67"/>
<circle cx="402.6" cy="997.8" r="2.08" fill="#22e640" opacity="0.49"/>
<circle cx="508.4" cy="1029.8" r="1.49" fill="#22e640" opacity="0.59"/>
<circle cx="522.2" cy="1027.7" r="0.79" fill="#15c030" opacity="0.92"/>
<circle cx="482.1" cy="1030.5" r="0.94" fill="#15c030" opacity="0.54"/>
<circle cx="410.3" cy="973.2" r="2.10" fill="#22e640" opacity="0.90"/>
<circle cx="382.4" cy="1027.1" r="2.30" fill="#22e640" opacity="0.44"/>
<circle cx="435.9" cy="959.8" r="0.61" fill="#15c030" opacity="0.88"/>
<circle cx="401.2" cy="1020.1" r="1.86" fill="#22e640" opacity="0.52"/>
<circle cx="427.5" cy="999.1" r="0.51" fill="#15c030" opacity="0.73"/>
<circle cx="382.8" cy="1036.4" r="0.61" fill="#15c030" opacity="0.88"/>
<circle cx="463.3" cy="959.0" r="1.05" fill="#22e640" opacity="0.94"/>
<circle cx="495.0" cy="1090.5" r="0.74" fill="#15c030" opacity="0.46"/>
<circle cx="445.0" cy="1045.0" r="1.86" fill="#22e640" opacity="0.90"/>
<circle cx="465.1" cy="1057.2" r="0.77" fill="#15c030" opacity="0.91"/>
<circle cx="505.0" cy="995.9" r="0.51" fill="#15c030" opacity="0.99"/>
<circle cx="428.7" cy="1005.9" r="1.90" fill="#22e640" opacity="0.84"/>
<circle cx="436.3" cy="1001.4" r="0.84" fill="#15c030" opacity="0.41"/>
<circle cx="435.1" cy="1075.0" r="1.22" fill="#22e640" opacity="0.57"/>
<circle cx="432.6" cy="973.9" r="0.56" fill="#15c030" opacity="0.48"/>
<circle cx="388.5" cy="1046.2" r="0.53" fill="#15c030" opacity="0.47"/>
<circle cx="393.9" cy="982.8" r="0.73" fill="#15c030" opacity="0.52"/>
<circle cx="425.1" cy="957.8" r="1.49" fill="#22e640" opacity="0.62"/>
<circle cx="416.3" cy="1056.6" r="0.54" fill="#15c030" opacity="0.78"/>
<circle cx="475.9" cy="985.1" r="0.80" fill="#15c030" opacity="0.67"/>
<circle cx="506.9" cy="1011.9" r="0.72" fill="#15c030" opacity="0.82"/>
<circle cx="419.6" cy="1013.8" r="0.65" fill="#15c030" opacity="0.92"/>
<circle cx="479.8" cy="998.4" r="1.33" fill="#22e640" opacity="0.67"/>
<circle cx="394.9" cy="1082.5" r="1.51" fill="#22e640" opacity="0.76"/>
<circle cx="503.0" cy="1053.3" r="0.82" fill="#15c030" opacity="0.57"/>
<circle cx="504.7" cy="1017.3" r="0.66" fill="#15c030" opacity="0.82"/>
<circle cx="455.9" cy="1097.8" r="0.81" fill="#15c030" opacity="0.48"/>
<circle cx="452.9" cy="1108.0" r="0.82" fill="#15c030" opacity="0.60"/>
<circle cx="496.4" cy="973.7" r="1.14" fill="#22e640" opacity="0.73"/>
<circle cx="473.8" cy="1017.0" r="0.51" fill="#15c030" opacity="0.62"/>
<circle cx="445.5" cy="984.0" r="1.32" fill="#22e640" opacity="0.61"/>
<circle cx="525.7" cy="1008.7" r="0.50" fill="#15c030" opacity="0.78"/>
<circle cx="418.3" cy="1074.1" r="0.89" fill="#15c030" opacity="0.59"/>
<circle cx="402.1" cy="992.0" r="2.21" fill="#22e640" opacity="0.99"/>
<circle cx="390.7" cy="1081.1" r="1.75" fill="#22e640" opacity="0.79"/>
<circle cx="520.7" cy="1031.3" r="0.51" fill="#15c030" opacity="0.68"/>
<circle cx="425.5" cy="990.2" r="0.59" fill="#15c030" opacity="0.99"/>
<circle cx="428.7" cy="1059.0" r="0.54" fill="#15c030" opacity="0.64"/>
<circle cx="513.3" cy="1066.8" r="0.55" fill="#15c030" opacity="0.79"/>
<circle cx="450.5" cy="969.2" r="0.62" fill="#15c030" opacity="0.89"/>
<circle cx="675.1" cy="964.8" r="0.51" fill="#15c030" opacity="0.68"/>
<circle cx="670.4" cy="1024.5" r="1.08" fill="#22e640" opacity="0.94"/>
<circle cx="656.6" cy="1042.3" r="0.69" fill="#15c030" opacity="0.72"/>
<circle cx="670.5" cy="1006.4" r="0.56" fill="#15c030" opacity="0.70"/>
<circle cx="638.3" cy="1020.6" r="0.51" fill="#15c030" opacity="0.45"/>
<circle cx="648.4" cy="1087.4" r="0.89" fill="#15c030" opacity="0.55"/>
<circle cx="712.5" cy="1049.5" r="0.53" fill="#15c030" opacity="0.67"/>
<circle cx="606.2" cy="1047.4" r="0.97" fill="#15c030" opacity="0.46"/>
<circle cx="705.5" cy="1093.3" r="1.11" fill="#22e640" opacity="0.71"/>
<circle cx="625.2" cy="999.2" r="0.99" fill="#15c030" opacity="0.98"/>
<circle cx="715.3" cy="1035.8" r="0.52" fill="#15c030" opacity="0.89"/>
<circle cx="648.0" cy="965.6" r="0.52" fill="#15c030" opacity="0.72"/>
<circle cx="674.4" cy="1040.9" r="0.56" fill="#15c030" opacity="0.98"/>
<circle cx="700.9" cy="979.9" r="0.50" fill="#15c030" opacity="0.65"/>
<circle cx="662.5" cy="1054.6" r="0.51" fill="#15c030" opacity="0.95"/>
<circle cx="618.2" cy="1035.5" r="0.78" fill="#15c030" opacity="0.93"/>
<circle cx="593.2" cy="1000.1" r="0.66" fill="#15c030" opacity="0.94"/>
<circle cx="648.7" cy="1080.1" r="0.86" fill="#15c030" opacity="0.55"/>
<circle cx="620.2" cy="1053.2" r="0.65" fill="#15c030" opacity="0.62"/>
<circle cx="614.0" cy="1048.3" r="0.50" fill="#15c030" opacity="0.90"/>
<circle cx="644.4" cy="1028.8" r="0.69" fill="#15c030" opacity="0.64"/>
<circle cx="694.7" cy="1054.3" r="0.59" fill="#15c030" opacity="0.59"/>
<circle cx="625.4" cy="960.8" r="1.56" fill="#2cf04c" opacity="0.95"/>
<circle cx="641.7" cy="971.4" r="1.17" fill="#2cf04c" opacity="0.75"/>
<circle cx="662.5" cy="972.7" r="1.95" fill="#2cf04c" opacity="0.95"/>
<circle cx="594.8" cy="994.5" r="1.36" fill="#2cf04c" opacity="0.95"/>
<circle cx="661.2" cy="997.3" r="1.56" fill="#2cf04c" opacity="0.95"/>
<circle cx="646.3" cy="1001.4" r="1.75" fill="#2cf04c" opacity="0.95"/>
<circle cx="655.1" cy="999.2" r="0.97" fill="#2cf04c" opacity="0.75"/>
<circle cx="676.9" cy="1001.4" r="1.17" fill="#2cf04c" opacity="0.75"/>
<circle cx="696.4" cy="999.6" r="1.17" fill="#2cf04c" opacity="0.75"/>
<circle cx="696.8" cy="1002.0" r="0.97" fill="#2cf04c" opacity="0.75"/>
<circle cx="630.4" cy="1008.5" r="1.36" fill="#2cf04c" opacity="0.95"/>
<circle cx="625.9" cy="1011.8" r="1.95" fill="#2cf04c" opacity="0.95"/>
<circle cx="643.0" cy="1006.0" r="1.36" fill="#2cf04c" opacity="0.95"/>
<circle cx="656.9" cy="1008.8" r="1.75" fill="#2cf04c" opacity="0.95"/>
<circle cx="669.9" cy="1006.6" r="1.95" fill="#2cf04c" opacity="0.95"/>
<circle cx="672.3" cy="1005.1" r="1.36" fill="#2cf04c" opacity="0.95"/>
<circle cx="629.7" cy="1014.9" r="1.56" fill="#2cf04c" opacity="0.95"/>
<circle cx="638.7" cy="1014.6" r="0.97" fill="#2cf04c" opacity="0.75"/>
<circle cx="633.4" cy="1020.5" r="1.17" fill="#2cf04c" opacity="0.75"/>
<circle cx="686.6" cy="1017.2" r="1.17" fill="#2cf04c" opacity="0.75"/>
<circle cx="690.6" cy="1016.2" r="1.17" fill="#2cf04c" opacity="0.75"/>
<circle cx="687.9" cy="1019.9" r="0.97" fill="#2cf04c" opacity="0.75"/>
<circle cx="677.9" cy="1017.5" r="0.97" fill="#2cf04c" opacity="0.75"/>
<circle cx="702.9" cy="1021.1" r="1.36" fill="#2cf04c" opacity="0.95"/>
<circle cx="707.0" cy="1019.9" r="2.14" fill="#2cf04c" opacity="0.95"/>
<circle cx="744.4" cy="1023.8" r="2.34" fill="#2cf04c" opacity="0.95"/>
<circle cx="745.9" cy="1033.1" r="1.17" fill="#2cf04c" opacity="0.75"/>
<circle cx="627.8" cy="1027.9" r="1.17" fill="#2cf04c" opacity="0.75"/>
<circle cx="623.5" cy="1030.3" r="1.56" fill="#2cf04c" opacity="0.95"/>
<circle cx="690.3" cy="1027.9" r="0.97" fill="#2cf04c" opacity="0.75"/>
<circle cx="698.6" cy="1027.9" r="0.78" fill="#2cf04c" opacity="0.75"/>
<circle cx="613.3" cy="1040.0" r="1.36" fill="#2cf04c" opacity="0.95"/>
<circle cx="614.8" cy="1042.8" r="1.17" fill="#2cf04c" opacity="0.75"/>
<circle cx="619.3" cy="1043.7" r="1.56" fill="#2cf04c" opacity="0.95"/>
<circle cx="622.2" cy="1043.7" r="1.36" fill="#2cf04c" opacity="0.95"/>
<circle cx="623.2" cy="1046.8" r="1.36" fill="#2cf04c" opacity="0.95"/>
<circle cx="632.8" cy="1049.2" r="1.36" fill="#2cf04c" opacity="0.95"/>
<circle cx="632.8" cy="1051.6" r="1.17" fill="#2cf04c" opacity="0.75"/>
<circle cx="654.7" cy="1057.2" r="1.17" fill="#2cf04c" opacity="0.75"/>
<circle cx="724.2" cy="1059.4" r="1.56" fill="#2cf04c" opacity="0.95"/>
<circle cx="737.0" cy="1065.6" r="1.95" fill="#2cf04c" opacity="0.95"/>
<circle cx="692.7" cy="1089.1" r="1.36" fill="#2cf04c" opacity="0.95"/>
<circle cx="636.5" cy="1103.4" r="1.17" fill="#2cf04c" opacity="0.75"/>
<circle cx="688.1" cy="1100.8" r="0.78" fill="#2cf04c" opacity="0.75"/>
<circle cx="658.8" cy="1065.0" r="0.78" fill="#2cf04c" opacity="0.75"/>
<circle cx="662.5" cy="1043.3" r="0.78" fill="#2cf04c" opacity="0.75"/>
<circle cx="689.9" cy="1041.8" r="0.78" fill="#2cf04c" opacity="0.75"/>
<circle cx="682.9" cy="1060.4" r="0.78" fill="#2cf04c" opacity="0.75"/>
<circle cx="688.4" cy="1059.4" r="0.78" fill="#2cf04c" opacity="0.75"/>
<circle cx="639.3" cy="1072.0" r="0.58" fill="#2cf04c" opacity="0.75"/>
</g>
<g clip-path="url(#clipR3)">
<rect x="141" y="1136" width="621.5" height="202.5" fill="#011004"/>
<circle cx="245.3" cy="1238" r="102" fill="#0a6a20" opacity="0.55" filter="url(#glow2)"/>
<circle cx="454" cy="1238" r="102" fill="#0a6a20" opacity="0.55" filter="url(#glow2)"/>
<circle cx="663.5" cy="1238" r="102" fill="#0a6a20" opacity="0.55" filter="url(#glow2)"/>
<g filter="url(#soft)">
<rect x="238.1" y="1124" width="14.4" height="228" fill="#108e2a"/>
<rect x="446.8" y="1124" width="14.4" height="228" fill="#108e2a"/>
<rect x="656.3" y="1124" width="14.4" height="228" fill="#108e2a"/>
<rect x="136" y="1235.3" width="631.5" height="14.4" fill="#108e2a"/>
<circle cx="245.3" cy="1238" r="98" fill="#11922c"/>
<circle cx="454" cy="1238" r="98" fill="#11922c"/>
<circle cx="663.5" cy="1238" r="98" fill="#11922c"/>
<circle cx="244.4" cy="1238" r="89.4" fill="none" stroke="#17a234" stroke-width="8" opacity="0.8" filter="url(#glow)"/>
<circle cx="453.5" cy="1238" r="89.4" fill="none" stroke="#17a234" stroke-width="8" opacity="0.8" filter="url(#glow)"/>
<circle cx="663.5" cy="1238" r="89.4" fill="none" stroke="#17a234" stroke-width="8" opacity="0.8" filter="url(#glow)"/>
<circle cx="243.5" cy="1239" r="83.8" fill="#032407"/>
<circle cx="453" cy="1239" r="83.8" fill="#032407"/>
<circle cx="663.5" cy="1239" r="83.8" fill="#032407"/>
</g>
<circle cx="250.4" cy="1293.2" r="1.38" fill="#22e640" opacity="0.69"/>
<circle cx="237.2" cy="1242.2" r="1.96" fill="#22e640" opacity="0.40"/>
<circle cx="303.3" cy="1223.0" r="0.71" fill="#15c030" opacity="0.76"/>
<circle cx="228.1" cy="1284.1" r="1.08" fill="#22e640" opacity="0.75"/>
<circle cx="198.6" cy="1238.7" r="0.92" fill="#15c030" opacity="0.85"/>
<circle cx="258.9" cy="1248.1" r="0.60" fill="#15c030" opacity="0.56"/>
<circle cx="179.8" cy="1270.2" r="1.65" fill="#22e640" opacity="0.64"/>
<circle cx="225.3" cy="1199.3" r="0.51" fill="#15c030" opacity="0.99"/>
<circle cx="209.1" cy="1302.3" r="0.66" fill="#15c030" opacity="0.89"/>
<circle cx="199.0" cy="1182.6" r="0.51" fill="#15c030" opacity="0.86"/>
<circle cx="231.1" cy="1225.6" r="0.98" fill="#15c030" opacity="0.96"/>
<circle cx="306.8" cy="1246.9" r="1.86" fill="#22e640" opacity="0.85"/>
<circle cx="304.4" cy="1240.1" r="1.35" fill="#22e640" opacity="0.65"/>
<circle cx="309.1" cy="1231.3" r="1.81" fill="#22e640" opacity="0.44"/>
<circle cx="177.7" cy="1263.8" r="1.38" fill="#22e640" opacity="0.63"/>
<circle cx="194.1" cy="1258.7" r="0.52" fill="#15c030" opacity="0.59"/>
<circle cx="305.3" cy="1267.8" r="0.52" fill="#15c030" opacity="0.90"/>
<circle cx="181.2" cy="1218.6" r="0.52" fill="#15c030" opacity="0.47"/>
<circle cx="286.2" cy="1225.3" r="0.99" fill="#15c030" opacity="0.95"/>
<circle cx="211.9" cy="1256.7" r="0.95" fill="#15c030" opacity="0.90"/>
<circle cx="263.2" cy="1218.0" r="0.85" fill="#15c030" opacity="0.42"/>
<circle cx="205.7" cy="1274.6" r="1.21" fill="#22e640" opacity="0.96"/>
<circle cx="222.7" cy="1185.8" r="0.73" fill="#15c030" opacity="0.87"/>
<circle cx="242.3" cy="1212.1" r="0.54" fill="#15c030" opacity="0.75"/>
<circle cx="223.0" cy="1267.6" r="0.54" fill="#15c030" opacity="0.61"/>
<circle cx="182.5" cy="1230.3" r="0.74" fill="#15c030" opacity="0.74"/>
<circle cx="197.3" cy="1295.1" r="1.03" fill="#22e640" opacity="0.69"/>
<circle cx="206.2" cy="1307.9" r="1.26" fill="#22e640" opacity="0.54"/>
<circle cx="238.5" cy="1197.4" r="1.02" fill="#22e640" opacity="0.55"/>
<circle cx="252.7" cy="1219.9" r="0.72" fill="#15c030" opacity="0.83"/>
<circle cx="204.6" cy="1202.5" r="0.99" fill="#15c030" opacity="0.99"/>
<circle cx="170.1" cy="1258.9" r="0.87" fill="#15c030" opacity="0.54"/>
<circle cx="299.1" cy="1279.6" r="0.65" fill="#15c030" opacity="0.91"/>
<circle cx="238.7" cy="1223.8" r="1.00" fill="#22e640" opacity="0.73"/>
<circle cx="270.3" cy="1275.6" r="1.91" fill="#22e640" opacity="0.86"/>
<circle cx="302.2" cy="1279.4" r="1.46" fill="#22e640" opacity="0.53"/>
<circle cx="208.6" cy="1230.2" r="1.08" fill="#22e640" opacity="0.47"/>
<circle cx="182.7" cy="1203.4" r="1.76" fill="#22e640" opacity="0.95"/>
<circle cx="199.9" cy="1288.1" r="1.91" fill="#22e640" opacity="0.83"/>
<circle cx="270.5" cy="1204.3" r="1.32" fill="#22e640" opacity="0.56"/>
<circle cx="283.1" cy="1243.1" r="0.95" fill="#15c030" opacity="0.55"/>
<circle cx="242.7" cy="1281.3" r="0.53" fill="#15c030" opacity="0.69"/>
<circle cx="234.4" cy="1278.8" r="0.62" fill="#15c030" opacity="0.71"/>
<circle cx="283.5" cy="1301.2" r="1.65" fill="#22e640" opacity="0.91"/>
<circle cx="183.4" cy="1221.0" r="1.34" fill="#22e640" opacity="0.72"/>
<circle cx="300.3" cy="1206.4" r="1.44" fill="#22e640" opacity="0.56"/>
<circle cx="260.7" cy="1230.8" r="0.71" fill="#15c030" opacity="0.87"/>
<circle cx="206.5" cy="1249.3" r="0.71" fill="#15c030" opacity="0.84"/>
<circle cx="165.8" cy="1235.2" r="1.00" fill="#15c030" opacity="0.61"/>
<circle cx="280.2" cy="1226.1" r="0.52" fill="#15c030" opacity="0.96"/>
<circle cx="301.9" cy="1266.3" r="1.77" fill="#22e640" opacity="0.46"/>
<circle cx="287.4" cy="1279.1" r="2.03" fill="#22e640" opacity="0.59"/>
<circle cx="312.7" cy="1266.1" r="1.19" fill="#22e640" opacity="0.44"/>
<circle cx="231.1" cy="1232.1" r="2.01" fill="#22e640" opacity="0.81"/>
<circle cx="259.6" cy="1165.8" r="0.92" fill="#15c030" opacity="0.45"/>
<circle cx="266.7" cy="1291.2" r="0.93" fill="#15c030" opacity="0.61"/>
<circle cx="261.8" cy="1291.5" r="1.28" fill="#22e640" opacity="0.65"/>
<circle cx="292.6" cy="1264.5" r="0.87" fill="#15c030" opacity="0.73"/>
<circle cx="170.4" cy="1208.3" r="0.53" fill="#15c030" opacity="0.58"/>
<circle cx="229.8" cy="1193.7" r="1.88" fill="#22e640" opacity="0.99"/>
<circle cx="313.0" cy="1202.7" r="1.65" fill="#22e640" opacity="0.96"/>
<circle cx="232.2" cy="1238.7" r="1.04" fill="#22e640" opacity="0.81"/>
<circle cx="196.0" cy="1197.1" r="1.86" fill="#22e640" opacity="0.45"/>
<circle cx="299.3" cy="1223.5" r="0.50" fill="#15c030" opacity="0.47"/>
<circle cx="315.4" cy="1218.2" r="0.50" fill="#15c030" opacity="0.42"/>
<circle cx="216.0" cy="1170.5" r="0.92" fill="#15c030" opacity="0.75"/>
<circle cx="268.2" cy="1172.9" r="0.50" fill="#15c030" opacity="0.44"/>
<circle cx="313.9" cy="1227.0" r="1.58" fill="#22e640" opacity="0.64"/>
<circle cx="217.0" cy="1276.0" r="0.50" fill="#15c030" opacity="0.86"/>
<circle cx="208.3" cy="1217.0" r="0.93" fill="#15c030" opacity="0.60"/>
<circle cx="180.4" cy="1256.4" r="0.59" fill="#15c030" opacity="0.93"/>
<circle cx="263.2" cy="1265.1" r="0.60" fill="#15c030" opacity="0.69"/>
<circle cx="208.3" cy="1299.4" r="0.59" fill="#15c030" opacity="0.79"/>
<circle cx="203.1" cy="1232.2" r="0.60" fill="#15c030" opacity="0.93"/>
<circle cx="247.3" cy="1272.2" r="0.64" fill="#15c030" opacity="0.60"/>
<circle cx="212.2" cy="1177.4" r="1.47" fill="#22e640" opacity="0.72"/>
<circle cx="245.4" cy="1215.7" r="0.59" fill="#15c030" opacity="0.53"/>
<circle cx="294.9" cy="1234.7" r="0.71" fill="#15c030" opacity="0.61"/>
<circle cx="319.7" cy="1233.4" r="0.73" fill="#15c030" opacity="0.48"/>
<circle cx="257.8" cy="1168.4" r="0.68" fill="#15c030" opacity="0.87"/>
<circle cx="232.1" cy="1286.0" r="1.05" fill="#22e640" opacity="0.84"/>
<circle cx="266.5" cy="1187.8" r="0.50" fill="#15c030" opacity="0.70"/>
<circle cx="288.8" cy="1257.6" r="1.80" fill="#22e640" opacity="0.49"/>
<circle cx="269.6" cy="1212.9" r="1.94" fill="#22e640" opacity="0.96"/>
<circle cx="285.9" cy="1218.3" r="0.53" fill="#15c030" opacity="0.83"/>
<circle cx="270.9" cy="1310.8" r="0.53" fill="#15c030" opacity="0.81"/>
<circle cx="232.4" cy="1163.7" r="1.91" fill="#22e640" opacity="0.67"/>
<circle cx="279.1" cy="1271.4" r="0.62" fill="#15c030" opacity="0.96"/>
<circle cx="252.0" cy="1257.6" r="0.69" fill="#15c030" opacity="0.43"/>
<circle cx="261.7" cy="1278.4" r="0.52" fill="#15c030" opacity="0.72"/>
<circle cx="189.9" cy="1213.7" r="1.41" fill="#22e640" opacity="0.72"/>
<circle cx="311.4" cy="1276.1" r="0.58" fill="#15c030" opacity="0.45"/>
<circle cx="246.5" cy="1193.6" r="1.83" fill="#22e640" opacity="0.70"/>
<circle cx="228.0" cy="1266.0" r="1.00" fill="#22e640" opacity="0.58"/>
<circle cx="313.7" cy="1225.8" r="0.83" fill="#15c030" opacity="0.76"/>
<circle cx="171.7" cy="1254.0" r="0.56" fill="#15c030" opacity="0.97"/>
<circle cx="321.7" cy="1250.1" r="1.41" fill="#22e640" opacity="0.64"/>
<circle cx="253.0" cy="1253.6" r="0.55" fill="#15c030" opacity="0.84"/>
<circle cx="280.0" cy="1242.5" r="0.58" fill="#15c030" opacity="0.88"/>
<circle cx="211.1" cy="1191.7" r="0.84" fill="#15c030" opacity="0.51"/>
<circle cx="240.2" cy="1247.3" r="0.50" fill="#15c030" opacity="0.56"/>
<circle cx="200.6" cy="1284.0" r="0.85" fill="#15c030" opacity="0.77"/>
<circle cx="215.5" cy="1273.3" r="1.72" fill="#22e640" opacity="0.75"/>
<circle cx="193.5" cy="1225.1" r="0.83" fill="#15c030" opacity="0.60"/>
<circle cx="251.5" cy="1314.1" r="1.87" fill="#22e640" opacity="0.91"/>
<circle cx="282.7" cy="1302.1" r="0.90" fill="#15c030" opacity="0.99"/>
<circle cx="264.0" cy="1275.8" r="1.32" fill="#22e640" opacity="0.54"/>
<circle cx="277.0" cy="1289.1" r="1.90" fill="#22e640" opacity="0.57"/>
<circle cx="233.9" cy="1215.0" r="0.69" fill="#15c030" opacity="0.74"/>
<circle cx="293.4" cy="1211.6" r="0.91" fill="#15c030" opacity="0.63"/>
<circle cx="240.3" cy="1238.1" r="0.61" fill="#15c030" opacity="0.74"/>
<circle cx="181.7" cy="1252.9" r="0.51" fill="#15c030" opacity="0.70"/>
<circle cx="208.5" cy="1194.9" r="1.97" fill="#22e640" opacity="0.57"/>
<circle cx="289.4" cy="1265.0" r="1.50" fill="#22e640" opacity="0.54"/>
<circle cx="265.1" cy="1168.4" r="0.60" fill="#15c030" opacity="0.94"/>
<circle cx="192.7" cy="1263.4" r="0.98" fill="#15c030" opacity="0.97"/>
<circle cx="187.9" cy="1244.2" r="0.63" fill="#15c030" opacity="0.90"/>
<circle cx="212.4" cy="1285.4" r="0.56" fill="#15c030" opacity="0.53"/>
<circle cx="267.6" cy="1169.0" r="1.99" fill="#22e640" opacity="0.95"/>
<circle cx="262.9" cy="1174.7" r="1.29" fill="#22e640" opacity="0.89"/>
<circle cx="275.5" cy="1302.1" r="1.54" fill="#22e640" opacity="0.58"/>
<circle cx="278.1" cy="1218.9" r="0.50" fill="#15c030" opacity="0.71"/>
<circle cx="255.7" cy="1192.7" r="1.08" fill="#22e640" opacity="0.95"/>
<circle cx="195.9" cy="1177.2" r="0.51" fill="#15c030" opacity="0.80"/>
<circle cx="269.8" cy="1235.0" r="1.68" fill="#22e640" opacity="0.59"/>
<circle cx="441.2" cy="1205.6" r="1.40" fill="#22e640" opacity="0.99"/>
<circle cx="497.6" cy="1282.7" r="1.32" fill="#22e640" opacity="0.44"/>
<circle cx="461.7" cy="1164.0" r="1.46" fill="#22e640" opacity="0.92"/>
<circle cx="509.6" cy="1217.0" r="1.14" fill="#22e640" opacity="0.70"/>
<circle cx="423.0" cy="1277.5" r="0.50" fill="#15c030" opacity="0.50"/>
<circle cx="462.5" cy="1308.7" r="1.17" fill="#22e640" opacity="0.87"/>
<circle cx="386.7" cy="1231.4" r="0.66" fill="#15c030" opacity="0.56"/>
<circle cx="432.3" cy="1210.3" r="1.23" fill="#22e640" opacity="0.97"/>
<circle cx="494.3" cy="1217.7" r="1.80" fill="#22e640" opacity="0.57"/>
<circle cx="395.9" cy="1184.8" r="1.95" fill="#22e640" opacity="0.86"/>
<circle cx="444.5" cy="1283.4" r="0.93" fill="#15c030" opacity="0.69"/>
<circle cx="462.8" cy="1226.6" r="0.95" fill="#15c030" opacity="0.68"/>
<circle cx="453.1" cy="1307.0" r="0.56" fill="#15c030" opacity="0.75"/>
<circle cx="434.6" cy="1272.7" r="0.51" fill="#15c030" opacity="0.43"/>
<circle cx="406.0" cy="1230.0" r="1.90" fill="#22e640" opacity="0.78"/>
<circle cx="410.1" cy="1266.5" r="0.59" fill="#15c030" opacity="0.68"/>
<circle cx="509.4" cy="1292.3" r="0.79" fill="#15c030" opacity="0.81"/>
<circle cx="387.3" cy="1214.3" r="1.14" fill="#22e640" opacity="0.96"/>
<circle cx="452.4" cy="1314.0" r="0.96" fill="#15c030" opacity="1.00"/>
<circle cx="474.6" cy="1291.9" r="1.42" fill="#22e640" opacity="0.43"/>
<circle cx="423.6" cy="1228.2" r="0.62" fill="#15c030" opacity="0.83"/>
<circle cx="424.2" cy="1299.8" r="1.42" fill="#22e640" opacity="0.79"/>
<circle cx="388.3" cy="1256.1" r="0.79" fill="#15c030" opacity="0.46"/>
<circle cx="505.9" cy="1222.5" r="1.73" fill="#22e640" opacity="0.43"/>
<circle cx="450.4" cy="1259.2" r="1.25" fill="#22e640" opacity="0.66"/>
<circle cx="427.5" cy="1250.9" r="1.01" fill="#22e640" opacity="0.85"/>
<circle cx="423.1" cy="1197.0" r="1.22" fill="#22e640" opacity="0.77"/>
<circle cx="448.8" cy="1221.3" r="0.53" fill="#15c030" opacity="0.43"/>
<circle cx="507.8" cy="1243.8" r="0.51" fill="#15c030" opacity="0.63"/>
<circle cx="496.1" cy="1271.7" r="1.92" fill="#22e640" opacity="0.91"/>
<circle cx="405.5" cy="1208.8" r="0.66" fill="#15c030" opacity="0.99"/>
<circle cx="443.8" cy="1264.1" r="0.58" fill="#15c030" opacity="0.92"/>
<circle cx="404.7" cy="1268.4" r="0.75" fill="#15c030" opacity="0.93"/>
<circle cx="463.4" cy="1198.8" r="1.28" fill="#22e640" opacity="0.67"/>
<circle cx="408.4" cy="1256.7" r="0.82" fill="#15c030" opacity="0.59"/>
<circle cx="399.4" cy="1271.5" r="0.64" fill="#15c030" opacity="0.86"/>
<circle cx="399.8" cy="1246.9" r="1.71" fill="#22e640" opacity="0.67"/>
<circle cx="492.3" cy="1208.7" r="1.99" fill="#22e640" opacity="0.87"/>
<circle cx="428.9" cy="1193.4" r="1.36" fill="#22e640" opacity="0.58"/>
<circle cx="517.7" cy="1216.9" r="1.17" fill="#22e640" opacity="0.80"/>
<circle cx="422.9" cy="1194.7" r="0.58" fill="#15c030" opacity="0.86"/>
<circle cx="511.3" cy="1230.6" r="0.68" fill="#15c030" opacity="0.83"/>
<circle cx="444.1" cy="1243.2" r="1.42" fill="#22e640" opacity="0.56"/>
<circle cx="464.4" cy="1299.6" r="0.75" fill="#15c030" opacity="1.00"/>
<circle cx="483.3" cy="1219.5" r="0.51" fill="#15c030" opacity="0.75"/>
<circle cx="490.8" cy="1176.1" r="0.74" fill="#15c030" opacity="0.75"/>
<circle cx="458.0" cy="1170.7" r="1.37" fill="#22e640" opacity="0.75"/>
<circle cx="441.9" cy="1199.5" r="0.99" fill="#15c030" opacity="0.73"/>
<circle cx="505.0" cy="1298.1" r="1.45" fill="#22e640" opacity="0.59"/>
<circle cx="517.9" cy="1217.1" r="0.62" fill="#15c030" opacity="0.74"/>
<circle cx="394.9" cy="1239.8" r="0.54" fill="#15c030" opacity="0.78"/>
<circle cx="413.8" cy="1173.3" r="0.63" fill="#15c030" opacity="0.88"/>
<circle cx="484.7" cy="1279.0" r="1.07" fill="#22e640" opacity="0.68"/>
<circle cx="511.1" cy="1234.8" r="1.01" fill="#22e640" opacity="0.97"/>
<circle cx="455.7" cy="1190.6" r="0.51" fill="#15c030" opacity="0.58"/>
<circle cx="428.6" cy="1176.1" r="1.57" fill="#22e640" opacity="0.63"/>
<circle cx="426.6" cy="1270.5" r="0.95" fill="#15c030" opacity="0.41"/>
<circle cx="426.1" cy="1197.1" r="0.53" fill="#15c030" opacity="0.59"/>
<circle cx="521.3" cy="1207.7" r="0.60" fill="#15c030" opacity="0.51"/>
<circle cx="476.6" cy="1252.1" r="1.48" fill="#22e640" opacity="0.84"/>
<circle cx="412.0" cy="1240.8" r="1.25" fill="#22e640" opacity="0.42"/>
<circle cx="499.0" cy="1182.1" r="0.57" fill="#15c030" opacity="0.82"/>
<circle cx="418.2" cy="1295.1" r="1.70" fill="#22e640" opacity="0.53"/>
<circle cx="431.5" cy="1288.7" r="0.80" fill="#15c030" opacity="0.89"/>
<circle cx="406.3" cy="1199.7" r="2.02" fill="#22e640" opacity="0.53"/>
<circle cx="425.4" cy="1212.2" r="0.54" fill="#15c030" opacity="0.98"/>
<circle cx="409.5" cy="1255.2" r="0.79" fill="#15c030" opacity="0.90"/>
<circle cx="419.1" cy="1169.4" r="0.55" fill="#15c030" opacity="0.61"/>
<circle cx="467.2" cy="1303.7" r="1.72" fill="#22e640" opacity="0.92"/>
<circle cx="428.0" cy="1266.7" r="0.58" fill="#15c030" opacity="0.83"/>
<circle cx="447.2" cy="1221.6" r="0.51" fill="#15c030" opacity="0.90"/>
<circle cx="401.9" cy="1208.6" r="0.51" fill="#15c030" opacity="0.43"/>
<circle cx="500.3" cy="1233.4" r="1.06" fill="#22e640" opacity="0.92"/>
<circle cx="469.1" cy="1250.0" r="0.50" fill="#15c030" opacity="0.82"/>
<circle cx="448.2" cy="1271.3" r="1.19" fill="#22e640" opacity="0.82"/>
<circle cx="408.5" cy="1247.2" r="0.63" fill="#15c030" opacity="0.74"/>
<circle cx="422.6" cy="1274.8" r="0.60" fill="#15c030" opacity="0.58"/>
<circle cx="493.7" cy="1242.2" r="0.65" fill="#15c030" opacity="0.76"/>
<circle cx="484.5" cy="1265.0" r="1.62" fill="#22e640" opacity="0.68"/>
<circle cx="431.3" cy="1291.0" r="1.73" fill="#22e640" opacity="0.85"/>
<circle cx="419.0" cy="1184.8" r="1.25" fill="#22e640" opacity="0.70"/>
<circle cx="413.4" cy="1270.8" r="0.90" fill="#15c030" opacity="0.68"/>
<circle cx="396.1" cy="1226.0" r="1.47" fill="#22e640" opacity="0.94"/>
<circle cx="490.5" cy="1243.3" r="0.64" fill="#15c030" opacity="0.42"/>
<circle cx="401.1" cy="1189.0" r="0.63" fill="#15c030" opacity="0.51"/>
<circle cx="491.4" cy="1174.1" r="1.23" fill="#22e640" opacity="0.82"/>
<circle cx="386.8" cy="1257.4" r="0.75" fill="#15c030" opacity="0.73"/>
<circle cx="528.0" cy="1233.9" r="1.81" fill="#22e640" opacity="0.90"/>
<circle cx="453.4" cy="1259.8" r="1.97" fill="#22e640" opacity="0.73"/>
<circle cx="431.9" cy="1291.4" r="1.66" fill="#22e640" opacity="0.71"/>
<circle cx="523.8" cy="1274.4" r="2.04" fill="#22e640" opacity="0.41"/>
<circle cx="429.3" cy="1257.7" r="1.14" fill="#22e640" opacity="0.47"/>
<circle cx="508.7" cy="1215.7" r="0.80" fill="#15c030" opacity="0.86"/>
<circle cx="399.5" cy="1207.5" r="0.55" fill="#15c030" opacity="0.68"/>
<circle cx="418.2" cy="1170.5" r="0.57" fill="#15c030" opacity="0.67"/>
<circle cx="422.4" cy="1288.4" r="1.02" fill="#22e640" opacity="0.78"/>
<circle cx="455.0" cy="1248.5" r="1.17" fill="#22e640" opacity="0.53"/>
<circle cx="454.6" cy="1216.5" r="0.67" fill="#15c030" opacity="0.97"/>
<circle cx="501.1" cy="1273.5" r="1.13" fill="#22e640" opacity="0.56"/>
<circle cx="441.3" cy="1166.8" r="1.40" fill="#22e640" opacity="0.43"/>
<circle cx="457.4" cy="1223.9" r="0.53" fill="#15c030" opacity="0.52"/>
<circle cx="460.2" cy="1249.8" r="0.85" fill="#15c030" opacity="0.97"/>
<circle cx="450.3" cy="1283.3" r="1.57" fill="#22e640" opacity="0.51"/>
<circle cx="405.2" cy="1195.8" r="1.86" fill="#22e640" opacity="0.43"/>
<circle cx="408.5" cy="1278.3" r="1.56" fill="#22e640" opacity="0.55"/>
<circle cx="479.8" cy="1300.1" r="0.88" fill="#15c030" opacity="0.98"/>
<circle cx="445.9" cy="1276.5" r="1.81" fill="#22e640" opacity="0.80"/>
<circle cx="461.0" cy="1256.9" r="0.59" fill="#15c030" opacity="0.57"/>
<circle cx="430.5" cy="1168.0" r="2.00" fill="#22e640" opacity="0.80"/>
<circle cx="405.9" cy="1280.5" r="1.30" fill="#22e640" opacity="0.70"/>
<circle cx="433.6" cy="1239.0" r="0.73" fill="#15c030" opacity="0.72"/>
<circle cx="470.4" cy="1241.1" r="2.01" fill="#22e640" opacity="0.62"/>
<circle cx="480.4" cy="1274.9" r="1.05" fill="#22e640" opacity="0.95"/>
<circle cx="419.0" cy="1238.0" r="0.89" fill="#15c030" opacity="0.86"/>
<circle cx="457.2" cy="1298.0" r="0.56" fill="#15c030" opacity="0.83"/>
<circle cx="678.3" cy="1221.2" r="0.50" fill="#15c030" opacity="0.51"/>
<circle cx="694.0" cy="1192.6" r="1.10" fill="#22e640" opacity="0.85"/>
<circle cx="651.5" cy="1169.3" r="0.50" fill="#15c030" opacity="0.90"/>
<circle cx="679.6" cy="1264.2" r="0.50" fill="#15c030" opacity="0.42"/>
<circle cx="608.6" cy="1288.9" r="0.51" fill="#15c030" opacity="0.43"/>
<circle cx="604.4" cy="1194.1" r="1.81" fill="#22e640" opacity="0.42"/>
<circle cx="657.4" cy="1264.1" r="0.56" fill="#15c030" opacity="0.47"/>
<circle cx="640.7" cy="1210.3" r="0.54" fill="#15c030" opacity="0.50"/>
<circle cx="622.0" cy="1279.3" r="0.53" fill="#15c030" opacity="0.74"/>
<circle cx="620.0" cy="1274.9" r="0.85" fill="#15c030" opacity="0.42"/>
<circle cx="685.4" cy="1296.8" r="0.68" fill="#15c030" opacity="0.41"/>
<circle cx="599.3" cy="1198.6" r="0.74" fill="#15c030" opacity="0.73"/>
<circle cx="715.8" cy="1295.2" r="0.73" fill="#15c030" opacity="0.82"/>
<circle cx="650.4" cy="1191.0" r="1.79" fill="#22e640" opacity="0.42"/>
<circle cx="652.2" cy="1279.1" r="1.38" fill="#22e640" opacity="0.87"/>
<circle cx="723.1" cy="1207.5" r="0.55" fill="#15c030" opacity="0.64"/>
<circle cx="670.7" cy="1164.5" r="0.52" fill="#15c030" opacity="0.99"/>
<circle cx="709.3" cy="1186.6" r="0.70" fill="#15c030" opacity="0.76"/>
<circle cx="726.3" cy="1191.1" r="1.02" fill="#22e640" opacity="0.93"/>
<circle cx="706.0" cy="1170.3" r="1.17" fill="#22e640" opacity="0.98"/>
<circle cx="638.6" cy="1255.3" r="1.00" fill="#15c030" opacity="0.48"/>
<circle cx="728.9" cy="1264.9" r="1.12" fill="#22e640" opacity="0.57"/>
<circle cx="627.9" cy="1209.7" r="0.56" fill="#15c030" opacity="0.67"/>
<circle cx="737.3" cy="1231.9" r="0.61" fill="#15c030" opacity="0.62"/>
<circle cx="688.1" cy="1299.9" r="1.62" fill="#22e640" opacity="0.52"/>
<circle cx="631.7" cy="1288.5" r="0.50" fill="#15c030" opacity="0.40"/>
<circle cx="661.8" cy="1241.1" r="0.62" fill="#15c030" opacity="0.99"/>
<circle cx="722.1" cy="1263.5" r="1.30" fill="#22e640" opacity="0.54"/>
<circle cx="654.0" cy="1183.3" r="1.64" fill="#22e640" opacity="0.96"/>
<circle cx="642.1" cy="1285.3" r="0.75" fill="#15c030" opacity="0.59"/>
<circle cx="596.5" cy="1253.9" r="1.23" fill="#22e640" opacity="0.49"/>
<circle cx="732.7" cy="1223.3" r="0.56" fill="#15c030" opacity="0.77"/>
<circle cx="694.9" cy="1245.1" r="0.77" fill="#15c030" opacity="0.51"/>
<circle cx="602.1" cy="1208.0" r="1.21" fill="#22e640" opacity="0.98"/>
<circle cx="679.2" cy="1249.2" r="0.50" fill="#15c030" opacity="0.68"/>
<circle cx="634.1" cy="1171.6" r="0.97" fill="#15c030" opacity="0.91"/>
<circle cx="700.5" cy="1269.8" r="1.14" fill="#22e640" opacity="0.42"/>
<circle cx="701.1" cy="1245.1" r="0.54" fill="#15c030" opacity="0.44"/>
<circle cx="703.9" cy="1280.0" r="1.07" fill="#22e640" opacity="0.89"/>
<circle cx="697.7" cy="1270.2" r="1.20" fill="#22e640" opacity="0.84"/>
<circle cx="592.6" cy="1212.9" r="1.03" fill="#22e640" opacity="0.92"/>
<circle cx="728.5" cy="1227.7" r="0.63" fill="#15c030" opacity="0.86"/>
<circle cx="601.1" cy="1250.5" r="0.50" fill="#15c030" opacity="0.69"/>
<circle cx="630.5" cy="1213.6" r="0.90" fill="#15c030" opacity="0.71"/>
<circle cx="676.6" cy="1252.3" r="1.07" fill="#22e640" opacity="0.81"/>
<circle cx="684.6" cy="1161.2" r="0.63" fill="#15c030" opacity="0.67"/>
<circle cx="682.4" cy="1184.4" r="0.74" fill="#15c030" opacity="0.95"/>
<circle cx="618.9" cy="1271.3" r="0.86" fill="#15c030" opacity="0.61"/>
<circle cx="740.1" cy="1261.0" r="0.75" fill="#15c030" opacity="0.45"/>
<circle cx="702.0" cy="1291.4" r="0.53" fill="#15c030" opacity="0.65"/>
<circle cx="668.8" cy="1176.2" r="0.81" fill="#15c030" opacity="0.58"/>
<circle cx="700.6" cy="1206.7" r="0.57" fill="#15c030" opacity="0.41"/>
<circle cx="588.6" cy="1246.1" r="0.53" fill="#15c030" opacity="0.48"/>
<circle cx="663.1" cy="1162.5" r="0.51" fill="#15c030" opacity="0.81"/>
<circle cx="628.6" cy="1250.3" r="1.07" fill="#22e640" opacity="0.43"/>
<circle cx="624.0" cy="1304.6" r="0.53" fill="#15c030" opacity="0.87"/>
<circle cx="689.2" cy="1244.1" r="1.16" fill="#22e640" opacity="0.68"/>
<circle cx="682.7" cy="1164.5" r="0.57" fill="#15c030" opacity="0.43"/>
<circle cx="602.4" cy="1249.5" r="0.64" fill="#15c030" opacity="0.95"/>
<circle cx="640.8" cy="1209.4" r="0.51" fill="#15c030" opacity="0.95"/>
<circle cx="606.0" cy="1185.4" r="0.66" fill="#15c030" opacity="0.83"/>
<circle cx="684.7" cy="1165.0" r="0.50" fill="#15c030" opacity="0.70"/>
<circle cx="634.8" cy="1229.4" r="1.91" fill="#22e640" opacity="0.92"/>
<circle cx="625.7" cy="1225.2" r="0.66" fill="#15c030" opacity="0.50"/>
<circle cx="667.5" cy="1169.1" r="0.68" fill="#15c030" opacity="0.65"/>
<circle cx="654.1" cy="1171.9" r="0.84" fill="#15c030" opacity="0.47"/>
<circle cx="675.5" cy="1259.6" r="1.57" fill="#22e640" opacity="0.70"/>
<circle cx="621.2" cy="1286.3" r="0.71" fill="#15c030" opacity="0.51"/>
<circle cx="601.3" cy="1189.4" r="0.53" fill="#15c030" opacity="0.82"/>
<circle cx="616.7" cy="1197.6" r="1.42" fill="#22e640" opacity="0.77"/>
<circle cx="737.0" cy="1223.8" r="0.76" fill="#15c030" opacity="0.79"/>
<circle cx="622.1" cy="1264.1" r="0.71" fill="#15c030" opacity="0.79"/>
<circle cx="635.1" cy="1276.1" r="1.62" fill="#22e640" opacity="0.88"/>
<circle cx="700.0" cy="1183.3" r="0.73" fill="#15c030" opacity="0.79"/>
<circle cx="647.5" cy="1274.8" r="0.52" fill="#15c030" opacity="0.88"/>
<circle cx="638.5" cy="1310.6" r="0.72" fill="#15c030" opacity="0.47"/>
<circle cx="644.0" cy="1215.0" r="1.74" fill="#22e640" opacity="0.45"/>
<circle cx="665.8" cy="1197.7" r="0.58" fill="#15c030" opacity="0.93"/>
<circle cx="616.6" cy="1245.9" r="0.56" fill="#15c030" opacity="0.57"/>
<circle cx="654.3" cy="1289.3" r="1.33" fill="#22e640" opacity="0.42"/>
<circle cx="684.2" cy="1177.5" r="0.67" fill="#15c030" opacity="0.51"/>
<circle cx="688.0" cy="1251.0" r="1.48" fill="#22e640" opacity="0.76"/>
<circle cx="654.1" cy="1240.8" r="1.06" fill="#22e640" opacity="0.59"/>
<circle cx="650.4" cy="1245.1" r="0.70" fill="#15c030" opacity="0.98"/>
<circle cx="705.9" cy="1215.6" r="1.68" fill="#22e640" opacity="0.74"/>
<circle cx="673.6" cy="1211.5" r="0.51" fill="#15c030" opacity="0.73"/>
<circle cx="684.3" cy="1251.7" r="0.76" fill="#15c030" opacity="0.49"/>
<circle cx="593.2" cy="1200.5" r="1.76" fill="#22e640" opacity="0.97"/>
<circle cx="621.1" cy="1182.8" r="0.85" fill="#15c030" opacity="0.87"/>
<circle cx="699.3" cy="1292.8" r="0.94" fill="#15c030" opacity="0.65"/>
<circle cx="650.3" cy="1182.1" r="1.24" fill="#22e640" opacity="0.74"/>
<circle cx="695.8" cy="1174.7" r="0.51" fill="#15c030" opacity="0.49"/>
<circle cx="672.8" cy="1252.7" r="1.93" fill="#22e640" opacity="0.59"/>
<circle cx="611.7" cy="1249.5" r="1.00" fill="#15c030" opacity="0.57"/>
<circle cx="628.8" cy="1299.5" r="1.62" fill="#22e640" opacity="0.88"/>
</g>
<rect x="146.7" y="1327.8" width="54.7" height="4.2" fill="#fff"/>
<text x="144.3" y="1321.5" font-size="19.6" fill="#fff" text-anchor="start" font-weight="normal" >0.5 cm</text>
</g>
<g id="panel-c">
<text x="830.5" y="451.0" font-size="62" fill="#000" text-anchor="start" font-weight="normal" >c</text>
<text x="1101.6" y="472.6" font-size="31.2" fill="#000" text-anchor="start" font-weight="normal" >KRAS status</text>
<rect x="1295" y="441.5" width="39" height="38.5" fill="#990000" stroke="#000" stroke-width="2.3"/>
<text x="1352.9" y="472.6" font-size="31.2" fill="#000" text-anchor="start" font-weight="normal" >KRAS mut.</text>
<rect x="1527.6" y="441.5" width="39" height="38.5" fill="#ababab" stroke="#000" stroke-width="2.3"/>
<text x="1585.8" y="472.6" font-size="31.2" fill="#000" text-anchor="start" font-weight="normal" >KRAS wt</text>
<text x="1101.6" y="573.0" font-size="31.2" fill="#000" text-anchor="start" font-weight="normal" >Cell line</text>
<rect x="1246.4" y="528.7" width="20.6" height="20.6" fill="#000"/>
<text x="1296.6" y="549.5" font-size="31.2" fill="#000" text-anchor="start" font-weight="normal" >H358</text>
<circle cx="1256.4" cy="584.5" r="10.19" fill="#000"/>
<text x="1296.6" y="595.3" font-size="31.2" fill="#000" text-anchor="start" font-weight="normal" >H2009</text>
<path d="M1425.7,525.2 L1438.2,546.8 L1413.2,546.8 Z" fill="#000"/>
<text x="1464.8" y="549.5" font-size="31.2" fill="#000" text-anchor="start" font-weight="normal" >H23</text>
<path d="M1425.5,574.4 L1435.3,584.2 L1425.5,594.0 L1415.7,584.2 Z" fill="#000"/>
<text x="1463.8" y="595.3" font-size="31.2" fill="#000" text-anchor="start" font-weight="normal" >A549</text>
<rect x="1567.2" y="529.8" width="18.9" height="18.9" fill="none" stroke="#000" stroke-width="2.15"/>
<text x="1616.0" y="549.5" font-size="31.2" fill="#000" text-anchor="start" font-weight="normal" >H1299</text>
<circle cx="1576.7" cy="584.5" r="9.3" fill="none" stroke="#000" stroke-width="2.15"/>
<text x="1616.0" y="595.3" font-size="31.2" fill="#000" text-anchor="start" font-weight="normal" >H1568</text>
<path d="M1745.3,524.4 L1757.9,546.3 L1732.7,546.3 Z" fill="none" stroke="#000" stroke-width="2.15" stroke-linejoin="miter"/>
<text x="1784.4" y="549.5" font-size="31.2" fill="#000" text-anchor="start" font-weight="normal" >H1437</text>
<rect x="938.8" y="930.0" width="60.8" height="323.0" fill="#990000" stroke="#000" stroke-width="1.7"/>
<rect x="1007.0" y="930.0" width="60.2" height="323.0" fill="#ababab" stroke="#000" stroke-width="1.7"/>
<rect x="1090.0" y="1204.5" width="60.8" height="48.5" fill="#990000" stroke="#000" stroke-width="1.7"/>
<rect x="1157.6" y="1044.7" width="60.8" height="208.3" fill="#ababab" stroke="#000" stroke-width="1.7"/>
<rect x="1240.0" y="1182.9" width="61.2" height="70.1" fill="#990000" stroke="#000" stroke-width="1.7"/>
<rect x="1308.2" y="986.2" width="60.8" height="266.8" fill="#ababab" stroke="#000" stroke-width="1.7"/>
<clipPath id="clipC913"><rect x="913.1" y="671.9" width="482.4" height="581.1"/></clipPath>
<g clip-path="url(#clipC913)">
<rect x="954.9" y="718.5" width="16.5" height="16.5" fill="#000"/>
<path d="M977.7,791.1 L988.9,810.3 L966.5,810.3 Z" fill="#000"/>
<circle cx="954.5" cy="897.6" r="8.15" fill="#000"/>
<path d="M977.0,889.7 L985.2,897.9 L977.0,906.1 L968.8,897.9 Z" fill="#000"/>
<rect x="949.0" y="919.2" width="16.5" height="16.5" fill="#000"/>
<circle cx="979.5" cy="927.4" r="8.15" fill="#000"/>
<rect x="944.8" y="950.4" width="16.5" height="16.5" fill="#000"/>
<circle cx="968.4" cy="965.3" r="8.15" fill="#000"/>
<path d="M985.0,955.3 L993.2,963.5 L985.0,971.7 L976.8,963.5 Z" fill="#000"/>
<rect x="957.3" y="978.2" width="16.5" height="16.5" fill="#000"/>
<rect x="949.0" y="1044.2" width="16.5" height="16.5" fill="#000"/>
<path d="M977.7,1045.2 L988.9,1064.4 L966.5,1064.4 Z" fill="#000"/>
<path d="M1049.3,838.0 L1058.6,854.2 L1040.0,854.2 Z" fill="none" stroke="#000" stroke-width="2.15" stroke-linejoin="miter"/>
<circle cx="1034.3" cy="860.4" r="6.9" fill="none" stroke="#000" stroke-width="2.15"/>
<rect x="1015.5" y="902.0" width="14.0" height="14.0" fill="none" stroke="#000" stroke-width="2.15"/>
<circle cx="1040.6" cy="917.7" r="6.9" fill="none" stroke="#000" stroke-width="2.15"/>
<circle cx="1056.9" cy="914.2" r="6.9" fill="none" stroke="#000" stroke-width="2.15"/>
<path d="M1045.8,931.7 L1055.1,947.9 L1036.5,947.9 Z" fill="none" stroke="#000" stroke-width="2.15" stroke-linejoin="miter"/>
<rect x="1018.0" y="944.7" width="14.0" height="14.0" fill="none" stroke="#000" stroke-width="2.15"/>
<path d="M1043.0,989.0 L1052.3,1005.2 L1033.7,1005.2 Z" fill="none" stroke="#000" stroke-width="2.15" stroke-linejoin="miter"/>
<circle cx="1036.1" cy="1028.8" r="6.9" fill="none" stroke="#000" stroke-width="2.15"/>
<path d="M1116.9,1032.1 L1125.1,1040.3 L1116.9,1048.5 L1108.7,1040.3 Z" fill="#000"/>
<path d="M1123.5,1102.9 L1131.7,1111.1 L1123.5,1119.3 L1115.3,1111.1 Z" fill="#000"/>
<rect x="1101.8" y="1203.5" width="16.5" height="16.5" fill="#000"/>
<circle cx="1129.1" cy="1209.3" r="8.15" fill="#000"/>
<rect x="1099.0" y="1220.2" width="16.5" height="16.5" fill="#000"/>
<path d="M1139.5,1217.1 L1150.7,1236.3 L1128.3,1236.3 Z" fill="#000"/>
<rect x="1127.8" y="1229.5" width="16.5" height="16.5" fill="#000"/>
<rect x="1097.2" y="1237.5" width="16.5" height="16.5" fill="#000"/>
<circle cx="1122.8" cy="1245.8" r="8.15" fill="#000"/>
<rect x="1112.9" y="1221.9" width="16.5" height="16.5" fill="#000"/>
<circle cx="1112.4" cy="1242.3" r="8.15" fill="#000"/>
<path d="M1129.8,1232.7 L1141.0,1251.9 L1118.6,1251.9 Z" fill="#000"/>
<circle cx="1193.0" cy="888.9" r="6.9" fill="none" stroke="#000" stroke-width="2.15"/>
<path d="M1185.3,964.7 L1194.6,980.9 L1176.0,980.9 Z" fill="none" stroke="#000" stroke-width="2.15" stroke-linejoin="miter"/>
<path d="M1197.5,1028.2 L1206.8,1044.4 L1188.2,1044.4 Z" fill="none" stroke="#000" stroke-width="2.15" stroke-linejoin="miter"/>
<rect x="1166.2" y="1036.7" width="14.0" height="14.0" fill="none" stroke="#000" stroke-width="2.15"/>
<circle cx="1193.0" cy="1056.6" r="6.9" fill="none" stroke="#000" stroke-width="2.15"/>
<circle cx="1180.8" cy="1072.2" r="6.9" fill="none" stroke="#000" stroke-width="2.15"/>
<circle cx="1193.0" cy="1085.0" r="6.9" fill="none" stroke="#000" stroke-width="2.15"/>
<rect x="1166.2" y="1105.1" width="14.0" height="14.0" fill="none" stroke="#000" stroke-width="2.15"/>
<path d="M1194.0,1113.9 L1203.3,1130.1 L1184.7,1130.1 Z" fill="none" stroke="#000" stroke-width="2.15" stroke-linejoin="miter"/>
<path d="M1264.1,992.8 L1272.3,1001.0 L1264.1,1009.2 L1255.9,1001.0 Z" fill="#000"/>
<path d="M1276.3,1095.9 L1284.5,1104.1 L1276.3,1112.3 L1268.1,1104.1 Z" fill="#000"/>
<rect x="1250.7" y="1171.6" width="16.5" height="16.5" fill="#000"/>
<path d="M1277.3,1178.9 L1288.5,1198.1 L1266.1,1198.1 Z" fill="#000"/>
<rect x="1247.2" y="1197.6" width="16.5" height="16.5" fill="#000"/>
<circle cx="1266.9" cy="1198.9" r="8.15" fill="#000"/>
<circle cx="1274.6" cy="1204.1" r="8.15" fill="#000"/>
<path d="M1286.0,1196.9 L1297.2,1216.1 L1274.8,1216.1 Z" fill="#000"/>
<rect x="1266.7" y="1210.8" width="16.5" height="16.5" fill="#000"/>
<circle cx="1265.2" cy="1228.4" r="8.15" fill="#000"/>
<rect x="1271.9" y="1230.6" width="16.5" height="16.5" fill="#000"/>
<rect x="1252.4" y="1241.0" width="16.5" height="16.5" fill="#000"/>
<path d="M1338.1,739.0 L1347.4,755.2 L1328.8,755.2 Z" fill="none" stroke="#000" stroke-width="2.15" stroke-linejoin="miter"/>
<circle cx="1343.3" cy="857.7" r="6.9" fill="none" stroke="#000" stroke-width="2.15"/>
<path d="M1357.2,995.9 L1366.5,1012.1 L1347.9,1012.1 Z" fill="none" stroke="#000" stroke-width="2.15" stroke-linejoin="miter"/>
<circle cx="1323.5" cy="1009.0" r="6.9" fill="none" stroke="#000" stroke-width="2.15"/>
<circle cx="1339.1" cy="1013.2" r="6.9" fill="none" stroke="#000" stroke-width="2.15"/>
<rect x="1317.2" y="1026.3" width="14.0" height="14.0" fill="none" stroke="#000" stroke-width="2.15"/>
<path d="M1342.2,1028.9 L1351.5,1045.1 L1332.9,1045.1 Z" fill="none" stroke="#000" stroke-width="2.15" stroke-linejoin="miter"/>
<circle cx="1343.3" cy="1057.3" r="6.9" fill="none" stroke="#000" stroke-width="2.15"/>
<rect x="1331.1" y="1103.4" width="14.0" height="14.0" fill="none" stroke="#000" stroke-width="2.15"/>
</g>
<rect x="913.1" y="671.9" width="482.4" height="581.1" fill="none" stroke="#000" stroke-width="2.2"/>
<rect x="1392.5" y="670.8" width="3.6" height="583.3" fill="#000"/>
<line x1="906.6" y1="1254.0" x2="912.1" y2="1254.0" stroke="#333" stroke-width="3.1"/>
<text x="904.5" y="1264.5" font-size="32.2" fill="#000" text-anchor="end" font-weight="normal" >0.0</text>
<line x1="906.6" y1="1092.5" x2="912.1" y2="1092.5" stroke="#333" stroke-width="3.1"/>
<text x="904.5" y="1103.0" font-size="32.2" fill="#000" text-anchor="end" font-weight="normal" >0.5</text>
<line x1="906.6" y1="931.0" x2="912.1" y2="931.0" stroke="#333" stroke-width="3.1"/>
<text x="904.5" y="941.5" font-size="32.2" fill="#000" text-anchor="end" font-weight="normal" >1.0</text>
<line x1="906.6" y1="769.5" x2="912.1" y2="769.5" stroke="#333" stroke-width="3.1"/>
<text x="904.5" y="780.0" font-size="32.2" fill="#000" text-anchor="end" font-weight="normal" >1.5</text>
<line x1="1002.5" y1="1254" x2="1002.5" y2="1259.5" stroke="#333" stroke-width="3.1"/>
<text x="1003.0" y="1288.2" font-size="32.2" fill="#000" text-anchor="middle" font-weight="normal" >safe</text>
<line x1="1153.5" y1="1254" x2="1153.5" y2="1259.5" stroke="#333" stroke-width="3.1"/>
<text x="1149.5" y="1288.2" font-size="32.2" fill="#000" text-anchor="middle" font-weight="normal" >UHRF1#1</text>
<line x1="1304.3" y1="1254" x2="1304.3" y2="1259.5" stroke="#333" stroke-width="3.1"/>
<text x="1300.8" y="1288.2" font-size="32.2" fill="#000" text-anchor="middle" font-weight="normal" >UHRF1#2</text>
<text transform="translate(846.0,963.0) rotate(-90)" font-size="32.8" fill="#000" text-anchor="middle" font-weight="bold">Fold mean sphere number</text>
<text x="1129.0" y="719.5" font-size="44" fill="#000" text-anchor="middle" font-weight="normal" >***</text>
<text x="1198.5" y="719.5" font-size="44" fill="#000" text-anchor="middle" font-weight="normal" >*</text>
<text x="1268.6" y="719.5" font-size="44" fill="#000" text-anchor="middle" font-weight="normal" >***</text>
<text x="1345.0" y="708.0" font-size="35" fill="#000" text-anchor="middle" font-weight="normal" >ns</text>
<rect x="1535.4" y="930.0" width="60.8" height="323.0" fill="#990000" stroke="#000" stroke-width="1.7"/>
<rect x="1603.1" y="930.0" width="60.8" height="323.0" fill="#ababab" stroke="#000" stroke-width="1.7"/>
<rect x="1685.8" y="1114.1" width="61.2" height="138.9" fill="#990000" stroke="#000" stroke-width="1.7"/>
<rect x="1753.8" y="1036.9" width="61.1" height="216.1" fill="#ababab" stroke="#000" stroke-width="1.7"/>
<rect x="1836.5" y="1093.1" width="61.1" height="159.9" fill="#990000" stroke="#000" stroke-width="1.7"/>
<rect x="1904.5" y="1027.2" width="60.8" height="225.8" fill="#ababab" stroke="#000" stroke-width="1.7"/>
<clipPath id="clipC1509"><rect x="1509.4" y="671.9" width="482.6" height="581.1"/></clipPath>
<g clip-path="url(#clipC1509)">
<rect x="1555.6" y="772.4" width="16.5" height="16.5" fill="#000"/>
<circle cx="1564.9" cy="814.3" r="8.15" fill="#000"/>
<path d="M1579.9,885.6 L1591.1,904.8 L1568.7,904.8 Z" fill="#000"/>
<rect x="1551.5" y="908.5" width="16.5" height="16.5" fill="#000"/>
<path d="M1575.3,906.1 L1583.5,914.3 L1575.3,922.5 L1567.1,914.3 Z" fill="#000"/>
<rect x="1567.8" y="921.7" width="16.5" height="16.5" fill="#000"/>
<path d="M1562.5,938.4 L1570.7,946.6 L1562.5,954.8 L1554.3,946.6 Z" fill="#000"/>
<circle cx="1560.8" cy="964.0" r="8.15" fill="#000"/>
<path d="M1579.9,953.3 L1591.1,972.5 L1568.7,972.5 Z" fill="#000"/>
<rect x="1545.2" y="996.3" width="16.5" height="16.5" fill="#000"/>
<circle cx="1571.9" cy="1013.3" r="8.15" fill="#000"/>
<rect x="1553.2" y="1013.0" width="16.5" height="16.5" fill="#000"/>
<path d="M1637.2,762.3 L1646.5,778.5 L1627.9,778.5 Z" fill="none" stroke="#000" stroke-width="2.15" stroke-linejoin="miter"/>
<circle cx="1638.5" cy="829.2" r="6.9" fill="none" stroke="#000" stroke-width="2.15"/>
<rect x="1619.7" y="883.0" width="14.0" height="14.0" fill="none" stroke="#000" stroke-width="2.15"/>
<path d="M1650.0,895.3 L1659.3,911.5 L1640.7,911.5 Z" fill="none" stroke="#000" stroke-width="2.15" stroke-linejoin="miter"/>
<circle cx="1631.9" cy="912.6" r="6.9" fill="none" stroke="#000" stroke-width="2.15"/>
<rect x="1618.0" y="963.6" width="14.0" height="14.0" fill="none" stroke="#000" stroke-width="2.15"/>
<circle cx="1642.4" cy="982.7" r="6.9" fill="none" stroke="#000" stroke-width="2.15"/>
<circle cx="1625.7" cy="997.6" r="6.9" fill="none" stroke="#000" stroke-width="2.15"/>
<path d="M1633.3,1103.6 L1642.6,1119.8 L1624.0,1119.8 Z" fill="none" stroke="#000" stroke-width="2.15" stroke-linejoin="miter"/>
<rect x="1718.8" y="868.9" width="16.5" height="16.5" fill="#000"/>
<rect x="1699.7" y="983.5" width="16.5" height="16.5" fill="#000"/>
<rect x="1706.7" y="1069.2" width="16.5" height="16.5" fill="#000"/>
<circle cx="1699.3" cy="1126.1" r="8.15" fill="#000"/>
<circle cx="1716.0" cy="1122.6" r="8.15" fill="#000"/>
<path d="M1729.9,1121.4 L1738.1,1129.6 L1729.9,1137.8 L1721.7,1129.6 Z" fill="#000"/>
<circle cx="1710.8" cy="1135.8" r="8.15" fill="#000"/>
<rect x="1692.1" y="1135.9" width="16.5" height="16.5" fill="#000"/>
<rect x="1712.2" y="1142.2" width="16.5" height="16.5" fill="#000"/>
<path d="M1705.6,1186.7 L1713.8,1194.9 L1705.6,1203.1 L1697.4,1194.9 Z" fill="#000"/>
<path d="M1711.5,1199.8 L1722.7,1219.0 L1700.3,1219.0 Z" fill="#000"/>
<path d="M1730.6,1199.8 L1741.8,1219.0 L1719.4,1219.0 Z" fill="#000"/>
<path d="M1787.8,863.3 L1797.1,879.5 L1778.5,879.5 Z" fill="none" stroke="#000" stroke-width="2.15" stroke-linejoin="miter"/>
<rect x="1773.2" y="920.2" width="14.0" height="14.0" fill="none" stroke="#000" stroke-width="2.15"/>
<rect x="1773.2" y="962.9" width="14.0" height="14.0" fill="none" stroke="#000" stroke-width="2.15"/>
<path d="M1792.4,976.2 L1801.7,992.4 L1783.1,992.4 Z" fill="none" stroke="#000" stroke-width="2.15" stroke-linejoin="miter"/>
<circle cx="1788.9" cy="1073.3" r="6.9" fill="none" stroke="#000" stroke-width="2.15"/>
<circle cx="1778.5" cy="1112.2" r="6.9" fill="none" stroke="#000" stroke-width="2.15"/>
<circle cx="1788.9" cy="1130.3" r="6.9" fill="none" stroke="#000" stroke-width="2.15"/>
<path d="M1783.7,1177.2 L1793.0,1193.4 L1774.4,1193.4 Z" fill="none" stroke="#000" stroke-width="2.15" stroke-linejoin="miter"/>
<rect x="1857.0" y="911.3" width="16.5" height="16.5" fill="#000"/>
<path d="M1871.2,995.3 L1879.4,1003.5 L1871.2,1011.7 L1863.0,1003.5 Z" fill="#000"/>
<rect x="1854.6" y="1013.7" width="16.5" height="16.5" fill="#000"/>
<rect x="1869.9" y="1039.0" width="16.5" height="16.5" fill="#000"/>
<rect x="1846.6" y="1048.4" width="16.5" height="16.5" fill="#000"/>
<circle cx="1870.5" cy="1065.3" r="8.15" fill="#000"/>
<circle cx="1861.8" cy="1091.4" r="8.15" fill="#000"/>
<circle cx="1861.8" cy="1111.5" r="8.15" fill="#000"/>
<path d="M1874.0,1125.2 L1885.2,1144.4 L1862.8,1144.4 Z" fill="#000"/>
<path d="M1864.2,1186.7 L1872.4,1194.9 L1864.2,1203.1 L1856.0,1194.9 Z" fill="#000"/>
<path d="M1875.7,1212.0 L1886.9,1231.2 L1864.5,1231.2 Z" fill="#000"/>
<rect x="1854.6" y="1241.1" width="16.5" height="16.5" fill="#000"/>
<path d="M1936.5,876.2 L1945.8,892.4 L1927.2,892.4 Z" fill="none" stroke="#000" stroke-width="2.15" stroke-linejoin="miter"/>
<path d="M1944.4,916.8 L1953.7,933.0 L1935.1,933.0 Z" fill="none" stroke="#000" stroke-width="2.15" stroke-linejoin="miter"/>
<rect x="1923.6" y="979.2" width="14.0" height="14.0" fill="none" stroke="#000" stroke-width="2.15"/>
<circle cx="1939.9" cy="1018.5" r="6.9" fill="none" stroke="#000" stroke-width="2.15"/>
<rect x="1919.7" y="1043.8" width="14.0" height="14.0" fill="none" stroke="#000" stroke-width="2.15"/>
<circle cx="1948.6" cy="1059.1" r="6.9" fill="none" stroke="#000" stroke-width="2.15"/>
<circle cx="1933.7" cy="1074.7" r="6.9" fill="none" stroke="#000" stroke-width="2.15"/>
<path d="M1944.4,1109.9 L1953.7,1126.1 L1935.1,1126.1 Z" fill="none" stroke="#000" stroke-width="2.15" stroke-linejoin="miter"/>
<circle cx="1927.1" cy="1127.8" r="6.9" fill="none" stroke="#000" stroke-width="2.15"/>
</g>
<rect x="1509.4" y="671.9" width="482.6" height="581.1" fill="none" stroke="#000" stroke-width="2.2"/>
<line x1="1502.9" y1="1254.0" x2="1508.4" y2="1254.0" stroke="#333" stroke-width="3.1"/>
<text x="1500.0" y="1264.5" font-size="32.2" fill="#000" text-anchor="end" font-weight="normal" >0.0</text>
<line x1="1502.9" y1="1092.5" x2="1508.4" y2="1092.5" stroke="#333" stroke-width="3.1"/>
<text x="1500.0" y="1103.0" font-size="32.2" fill="#000" text-anchor="end" font-weight="normal" >0.5</text>
<line x1="1502.9" y1="931.0" x2="1508.4" y2="931.0" stroke="#333" stroke-width="3.1"/>
<text x="1500.0" y="941.5" font-size="32.2" fill="#000" text-anchor="end" font-weight="normal" >1.0</text>
<line x1="1502.9" y1="769.5" x2="1508.4" y2="769.5" stroke="#333" stroke-width="3.1"/>
<text x="1500.0" y="780.0" font-size="32.2" fill="#000" text-anchor="end" font-weight="normal" >1.5</text>
<line x1="1599.7" y1="1254" x2="1599.7" y2="1259.5" stroke="#333" stroke-width="3.1"/>
<text x="1600.2" y="1288.2" font-size="32.2" fill="#000" text-anchor="middle" font-weight="normal" >safe</text>
<line x1="1750" y1="1254" x2="1750" y2="1259.5" stroke="#333" stroke-width="3.1"/>
<text x="1746.0" y="1288.2" font-size="32.2" fill="#000" text-anchor="middle" font-weight="normal" >UHRF1#1</text>
<line x1="1901" y1="1254" x2="1901" y2="1259.5" stroke="#333" stroke-width="3.1"/>
<text x="1897.5" y="1288.2" font-size="32.2" fill="#000" text-anchor="middle" font-weight="normal" >UHRF1#2</text>
<text transform="translate(1444.2,963.0) rotate(-90)" font-size="32.8" fill="#000" text-anchor="middle" font-weight="bold">Fold mean sphere size</text>
<text x="1722.9" y="725.0" font-size="44" fill="#000" text-anchor="middle" font-weight="normal" >***</text>
<text x="1792.4" y="725.0" font-size="44" fill="#000" text-anchor="middle" font-weight="normal" >*</text>
<text x="1862.8" y="725.0" font-size="44" fill="#000" text-anchor="middle" font-weight="normal" >***</text>
<text x="1939.2" y="713.5" font-size="35" fill="#000" text-anchor="middle" font-weight="normal" >ns</text>
</g>
<g id="panel-d">
<text x="2.5" y="1482.0" font-size="62" fill="#000" text-anchor="start" font-weight="normal" >d</text>
<circle cx="280.6" cy="1938.6" r="8.97" fill="#990000"/>
<circle cx="280.6" cy="1966.2" r="8.97" fill="#990000"/>
<rect x="297.0" y="1950.0" width="17.0" height="17.0" fill="#990000"/>
<rect x="297.0" y="1972.6" width="17.0" height="17.0" fill="#990000"/>
<path d="M464.7,1878.9 L476.2,1898.5 L453.3,1898.5 Z" fill="#990000"/>
<path d="M464.7,1959.7 L476.2,1979.3 L453.3,1979.3 Z" fill="#990000"/>
<path d="M589.1,1661.5 L597.6,1670.0 L589.1,1678.5 L580.5,1670.0 Z" fill="#990000"/>
<path d="M589.1,1697.4 L597.6,1705.9 L589.1,1714.4 L580.5,1705.9 Z" fill="#990000"/>
<path d="M724.7,1462.2 L738.4,1485.6 L711.0,1485.6 Z" fill="#7f7f7f"/>
<path d="M724.7,1646.0 L738.4,1669.4 L711.0,1669.4 Z" fill="#7f7f7f"/>
<circle cx="811.1" cy="1552.3" r="10.68" fill="#7f7f7f"/>
<circle cx="811.1" cy="1628.8" r="10.68" fill="#7f7f7f"/>
<path d="M280.6,1909.7 L291.6,1903.0 L302.7,1896.3 L313.7,1889.6 L324.8,1882.8 L335.8,1876.0 L346.9,1869.1 L358.0,1862.2 L369.0,1855.1 L380.1,1848.1 L391.1,1840.9 L402.2,1833.6 L413.2,1826.3 L424.3,1818.8 L435.3,1811.2 L446.4,1803.5 L457.4,1795.7 L468.5,1787.7 L479.5,1779.5 L490.6,1771.1 L501.6,1762.6 L512.7,1753.9 L523.7,1745.0 L534.8,1735.9 L545.8,1726.6 L556.9,1717.1 L568.0,1707.4 L579.0,1697.5 L590.1,1687.5 L601.1,1677.3 L612.2,1666.9 L623.2,1656.4 L634.3,1645.8 L645.3,1635.1 L656.4,1624.3 L667.4,1613.3 L678.5,1602.3 L689.5,1591.2 L700.6,1580.1 L711.6,1568.8 L722.7,1557.6 L733.7,1546.2 L744.8,1534.8 L755.9,1523.4 L766.9,1511.9 L778.0,1500.4 L789.0,1488.9 L800.1,1477.3 L811.1,1465.8 L811.1,1638.9 L800.1,1645.5 L789.0,1652.0 L778.0,1658.6 L766.9,1665.3 L755.9,1672.0 L744.8,1678.7 L733.7,1685.5 L722.7,1692.3 L711.6,1699.1 L700.6,1706.0 L689.5,1713.0 L678.5,1720.1 L667.4,1727.2 L656.4,1734.4 L645.3,1741.7 L634.3,1749.1 L623.2,1756.7 L612.2,1764.3 L601.1,1772.1 L590.1,1780.1 L579.0,1788.2 L568.0,1796.5 L556.9,1804.9 L545.8,1813.6 L534.8,1822.4 L523.7,1831.4 L512.7,1840.7 L501.6,1850.1 L490.6,1859.7 L479.5,1869.5 L468.5,1879.5 L457.4,1889.6 L446.4,1899.9 L435.3,1910.3 L424.3,1920.9 L413.2,1931.6 L402.2,1942.4 L391.1,1953.2 L380.1,1964.2 L369.0,1975.3 L358.0,1986.4 L346.9,1997.6 L335.8,2008.9 L324.8,2020.2 L313.7,2031.6 L302.7,2043.0 L291.6,2054.4 L280.6,2065.9 Z" fill="#999999" fill-opacity="0.4"/>
<line x1="280.6" y1="1987.8" x2="811.1" y2="1552.3" stroke="#000" stroke-width="3.8"/>
<rect x="254.6" y="1436.8" width="582.1" height="658.4" fill="none" stroke="#333" stroke-width="1.5"/>
<path d="M254.6,1436.1 L254.6,2095.2 L837.4000000000001,2095.2" fill="none" stroke="#000" stroke-width="3.3" stroke-linejoin="miter"/>
<line x1="247.1" y1="1443.8" x2="253.6" y2="1443.8" stroke="#333" stroke-width="2.7"/>
<text x="242.0" y="1457.1" font-size="37" fill="#000" text-anchor="end" font-weight="normal" >1.00</text>
<line x1="247.1" y1="1586.4" x2="253.6" y2="1586.4" stroke="#333" stroke-width="2.7"/>
<text x="242.0" y="1599.7" font-size="37" fill="#000" text-anchor="end" font-weight="normal" >0.75</text>
<line x1="247.1" y1="1729.0" x2="253.6" y2="1729.0" stroke="#333" stroke-width="2.7"/>
<text x="242.0" y="1742.3" font-size="37" fill="#000" text-anchor="end" font-weight="normal" >0.50</text>
<line x1="247.1" y1="1871.6" x2="253.6" y2="1871.6" stroke="#333" stroke-width="2.7"/>
<text x="242.0" y="1884.9" font-size="37" fill="#000" text-anchor="end" font-weight="normal" >0.25</text>
<line x1="247.1" y1="2014.3" x2="253.6" y2="2014.3" stroke="#333" stroke-width="2.7"/>
<text x="242.0" y="2027.6" font-size="37" fill="#000" text-anchor="end" font-weight="normal" >0.00</text>
<line x1="271.4" y1="2096.2" x2="271.4" y2="2102.7" stroke="#333" stroke-width="2.7"/>
<text x="271.4" y="2134.5" font-size="37" fill="#000" text-anchor="middle" font-weight="normal" >0.4</text>
<line x1="387.0" y1="2096.2" x2="387.0" y2="2102.7" stroke="#333" stroke-width="2.7"/>
<text x="387.0" y="2134.5" font-size="37" fill="#000" text-anchor="middle" font-weight="normal" >0.6</text>
<line x1="502.7" y1="2096.2" x2="502.7" y2="2102.7" stroke="#333" stroke-width="2.7"/>
<text x="502.7" y="2134.5" font-size="37" fill="#000" text-anchor="middle" font-weight="normal" >0.8</text>
<line x1="618.3" y1="2096.2" x2="618.3" y2="2102.7" stroke="#333" stroke-width="2.7"/>
<text x="618.3" y="2134.5" font-size="37" fill="#000" text-anchor="middle" font-weight="normal" >1.0</text>
<line x1="734.2" y1="2096.2" x2="734.2" y2="2102.7" stroke="#333" stroke-width="2.7"/>
<text x="734.2" y="2134.5" font-size="37" fill="#000" text-anchor="middle" font-weight="normal" >1.2</text>
<text transform="translate(148.6,1757.0) rotate(-90)" font-size="40.3" fill="#000" text-anchor="middle" font-weight="bold">Fold mean sphere number</text>
<text x="543.0" y="2182.5" font-size="40.3" fill="#000" text-anchor="middle" font-weight="bold" >Fold viability with KRAS k/o</text>
<text x="309.3" y="1511.6" font-size="33" fill="#000" text-anchor="start" font-weight="normal" >r</text>
<text x="329.0" y="1511.6" font-size="33" fill="#000" text-anchor="start" font-weight="normal" >=</text>
<text x="354.3" y="1511.6" font-size="33" fill="#000" text-anchor="start" font-weight="normal" >0.92</text>
<text x="305.0" y="1568.0" font-size="33" fill="#000" text-anchor="start" font-weight="normal" >p</text>
<text x="333.0" y="1568.0" font-size="33" fill="#000" text-anchor="start" font-weight="normal" >=</text>
<text x="354.7" y="1568.0" font-size="33" fill="#000" text-anchor="start" font-weight="normal" >2.2e−05</text>
<circle cx="1070.6" cy="1759.1" r="8.97" fill="#990000"/>
<circle cx="1070.6" cy="1849.8" r="8.97" fill="#990000"/>
<rect x="1087.0" y="1707.4" width="17.0" height="17.0" fill="#990000"/>
<rect x="1087.0" y="1769.5" width="17.0" height="17.0" fill="#990000"/>
<path d="M1254.7,1994.3 L1266.2,2013.9 L1243.3,2013.9 Z" fill="#990000"/>
<path d="M1254.7,2054.1 L1266.2,2073.7 L1243.3,2073.7 Z" fill="#990000"/>
<path d="M1379.1,1839.6 L1387.6,1848.2 L1379.1,1856.7 L1370.5,1848.2 Z" fill="#990000"/>
<path d="M1379.1,1956.7 L1387.6,1965.2 L1379.1,1973.7 L1370.5,1965.2 Z" fill="#990000"/>
<path d="M1514.7,1452.2 L1528.4,1475.6 L1501.0,1475.6 Z" fill="#7f7f7f"/>
<path d="M1514.7,1624.4 L1528.4,1647.8 L1501.0,1647.8 Z" fill="#7f7f7f"/>
<circle cx="1601.1" cy="1717.5" r="10.68" fill="#7f7f7f"/>
<circle cx="1601.1" cy="1778.0" r="10.68" fill="#7f7f7f"/>
<path d="M1070.6,1694.7 L1081.6,1696.2 L1092.7,1697.5 L1103.7,1698.8 L1114.8,1699.9 L1125.8,1701.0 L1136.9,1701.9 L1148.0,1702.7 L1159.0,1703.3 L1170.1,1703.8 L1181.1,1704.1 L1192.2,1704.3 L1203.2,1704.2 L1214.3,1704.0 L1225.3,1703.5 L1236.4,1702.8 L1247.4,1701.9 L1258.5,1700.7 L1269.5,1699.2 L1280.6,1697.5 L1291.6,1695.4 L1302.7,1693.1 L1313.7,1690.5 L1324.8,1687.6 L1335.8,1684.4 L1346.9,1680.8 L1358.0,1677.0 L1369.0,1673.0 L1380.1,1668.6 L1391.1,1664.0 L1402.2,1659.1 L1413.2,1654.0 L1424.3,1648.6 L1435.3,1643.1 L1446.4,1637.3 L1457.4,1631.4 L1468.5,1625.3 L1479.5,1619.0 L1490.6,1612.6 L1501.6,1606.0 L1512.7,1599.3 L1523.7,1592.5 L1534.8,1585.6 L1545.9,1578.6 L1556.9,1571.4 L1568.0,1564.2 L1579.0,1557.0 L1590.1,1549.6 L1601.1,1542.2 L1601.1,1909.5 L1590.1,1907.8 L1579.0,1906.2 L1568.0,1904.6 L1556.9,1903.1 L1545.9,1901.7 L1534.8,1900.4 L1523.7,1899.2 L1512.7,1898.2 L1501.6,1897.2 L1490.6,1896.3 L1479.5,1895.6 L1468.5,1895.1 L1457.4,1894.7 L1446.4,1894.5 L1435.3,1894.4 L1424.3,1894.6 L1413.2,1895.0 L1402.2,1895.6 L1391.1,1896.4 L1380.1,1897.5 L1369.0,1898.9 L1358.0,1900.5 L1346.9,1902.4 L1335.8,1904.6 L1324.8,1907.1 L1313.7,1909.9 L1302.7,1913.0 L1291.6,1916.4 L1280.6,1920.1 L1269.5,1924.1 L1258.5,1928.3 L1247.4,1932.9 L1236.4,1937.6 L1225.3,1942.7 L1214.3,1947.9 L1203.2,1953.4 L1192.2,1959.1 L1181.1,1964.9 L1170.1,1971.0 L1159.0,1977.2 L1148.0,1983.5 L1136.9,1990.1 L1125.8,1996.7 L1114.8,2003.5 L1103.7,2010.3 L1092.7,2017.3 L1081.6,2024.4 L1070.6,2031.6 Z" fill="#999999" fill-opacity="0.4"/>
<line x1="1070.6" y1="1863.1" x2="1601.1" y2="1725.8" stroke="#000" stroke-width="3.8"/>
<rect x="1044" y="1436.8" width="582.7" height="658.4" fill="none" stroke="#333" stroke-width="1.5"/>
<path d="M1044,1436.1 L1044,2095.2 L1627.4,2095.2" fill="none" stroke="#000" stroke-width="3.3" stroke-linejoin="miter"/>
<line x1="1036.5" y1="1574.1" x2="1043" y2="1574.1" stroke="#333" stroke-width="2.7"/>
<text x="1031.5" y="1587.4" font-size="37" fill="#000" text-anchor="end" font-weight="normal" >0.75</text>
<line x1="1036.5" y1="1773.1" x2="1043" y2="1773.1" stroke="#333" stroke-width="2.7"/>
<text x="1031.5" y="1786.4" font-size="37" fill="#000" text-anchor="end" font-weight="normal" >0.50</text>
<line x1="1036.5" y1="1972.2" x2="1043" y2="1972.2" stroke="#333" stroke-width="2.7"/>
<text x="1031.5" y="1985.5" font-size="37" fill="#000" text-anchor="end" font-weight="normal" >0.25</text>
<line x1="1061.4" y1="2096.2" x2="1061.4" y2="2102.7" stroke="#333" stroke-width="2.7"/>
<text x="1061.4" y="2134.5" font-size="37" fill="#000" text-anchor="middle" font-weight="normal" >0.4</text>
<line x1="1176.8" y1="2096.2" x2="1176.8" y2="2102.7" stroke="#333" stroke-width="2.7"/>
<text x="1176.8" y="2134.5" font-size="37" fill="#000" text-anchor="middle" font-weight="normal" >0.6</text>
<line x1="1292.2" y1="2096.2" x2="1292.2" y2="2102.7" stroke="#333" stroke-width="2.7"/>
<text x="1292.2" y="2134.5" font-size="37" fill="#000" text-anchor="middle" font-weight="normal" >0.8</text>
<line x1="1407.6" y1="2096.2" x2="1407.6" y2="2102.7" stroke="#333" stroke-width="2.7"/>
<text x="1407.6" y="2134.5" font-size="37" fill="#000" text-anchor="middle" font-weight="normal" >1.0</text>
<line x1="1523.0" y1="2096.2" x2="1523.0" y2="2102.7" stroke="#333" stroke-width="2.7"/>
<text x="1523.0" y="2134.5" font-size="37" fill="#000" text-anchor="middle" font-weight="normal" >1.2</text>
<text transform="translate(937.0,1757.0) rotate(-90)" font-size="40.3" fill="#000" text-anchor="middle" font-weight="bold">Fold mean sphere size</text>
<text x="1333.0" y="2182.5" font-size="40.3" fill="#000" text-anchor="middle" font-weight="bold" >Fold viability with KRAS k/o</text>
<text x="1098.6" y="1546.3" font-size="33" fill="#000" text-anchor="start" font-weight="normal" >r</text>
<text x="1119.0" y="1546.3" font-size="33" fill="#000" text-anchor="start" font-weight="normal" >=</text>
<text x="1144.3" y="1546.3" font-size="33" fill="#000" text-anchor="start" font-weight="normal" >0.32</text>
<text x="1095.0" y="1586.4" font-size="33" fill="#000" text-anchor="start" font-weight="normal" >p</text>
<text x="1123.0" y="1586.4" font-size="33" fill="#000" text-anchor="start" font-weight="normal" >=</text>
<text x="1153.3" y="1586.4" font-size="33" fill="#000" text-anchor="start" font-weight="normal" >0.3</text>
<text x="1727.0" y="1506.8" font-size="36.1" fill="#000" text-anchor="start" font-weight="normal" >Cell line</text>
<circle cx="1752.3" cy="1557.0" r="11.33" fill="#000"/>
<text x="1797.3" y="1569.0" font-size="36.1" fill="#000" text-anchor="start" font-weight="normal" >H2009</text>
<rect x="1741.1" y="1598.3" width="22.4" height="22.4" fill="#000"/>
<text x="1797.3" y="1621.5" font-size="36.1" fill="#000" text-anchor="start" font-weight="normal" >H358</text>
<path d="M1752.3,1644.9 L1766.9,1669.9 L1737.7,1669.9 Z" fill="#000"/>
<text x="1797.3" y="1673.4" font-size="36.1" fill="#000" text-anchor="start" font-weight="normal" >H23</text>
<path d="M1752.3,1702.5 L1763.1,1713.3 L1752.3,1724.1 L1741.5,1713.3 Z" fill="#000"/>
<text x="1797.3" y="1725.3" font-size="36.1" fill="#000" text-anchor="start" font-weight="normal" >A549</text>
<path d="M1752.3,1748.7 L1766.9,1773.7 L1737.7,1773.7 Z" fill="#7f7f7f"/>
<text x="1797.3" y="1777.2" font-size="36.1" fill="#000" text-anchor="start" font-weight="normal" >H1437</text>
<circle cx="1752.3" cy="1817.7" r="11.33" fill="#7f7f7f"/>
<text x="1797.3" y="1829.7" font-size="36.1" fill="#000" text-anchor="start" font-weight="normal" >H1568</text>
<text x="1727.0" y="1940.3" font-size="36.1" fill="#000" text-anchor="start" font-weight="normal" >KRAS status</text>
<circle cx="1752.3" cy="1990.5" r="12.71" fill="#990000"/>
<text x="1797.3" y="2002.5" font-size="36.1" fill="#000" text-anchor="start" font-weight="normal" >KRAS mut.</text>
<circle cx="1752.3" cy="2042.4" r="12.71" fill="#7f7f7f"/>
<text x="1797.3" y="2054.5" font-size="36.1" fill="#000" text-anchor="start" font-weight="normal" >KRAS wt.</text>
</g>
</svg>
</body></html>
